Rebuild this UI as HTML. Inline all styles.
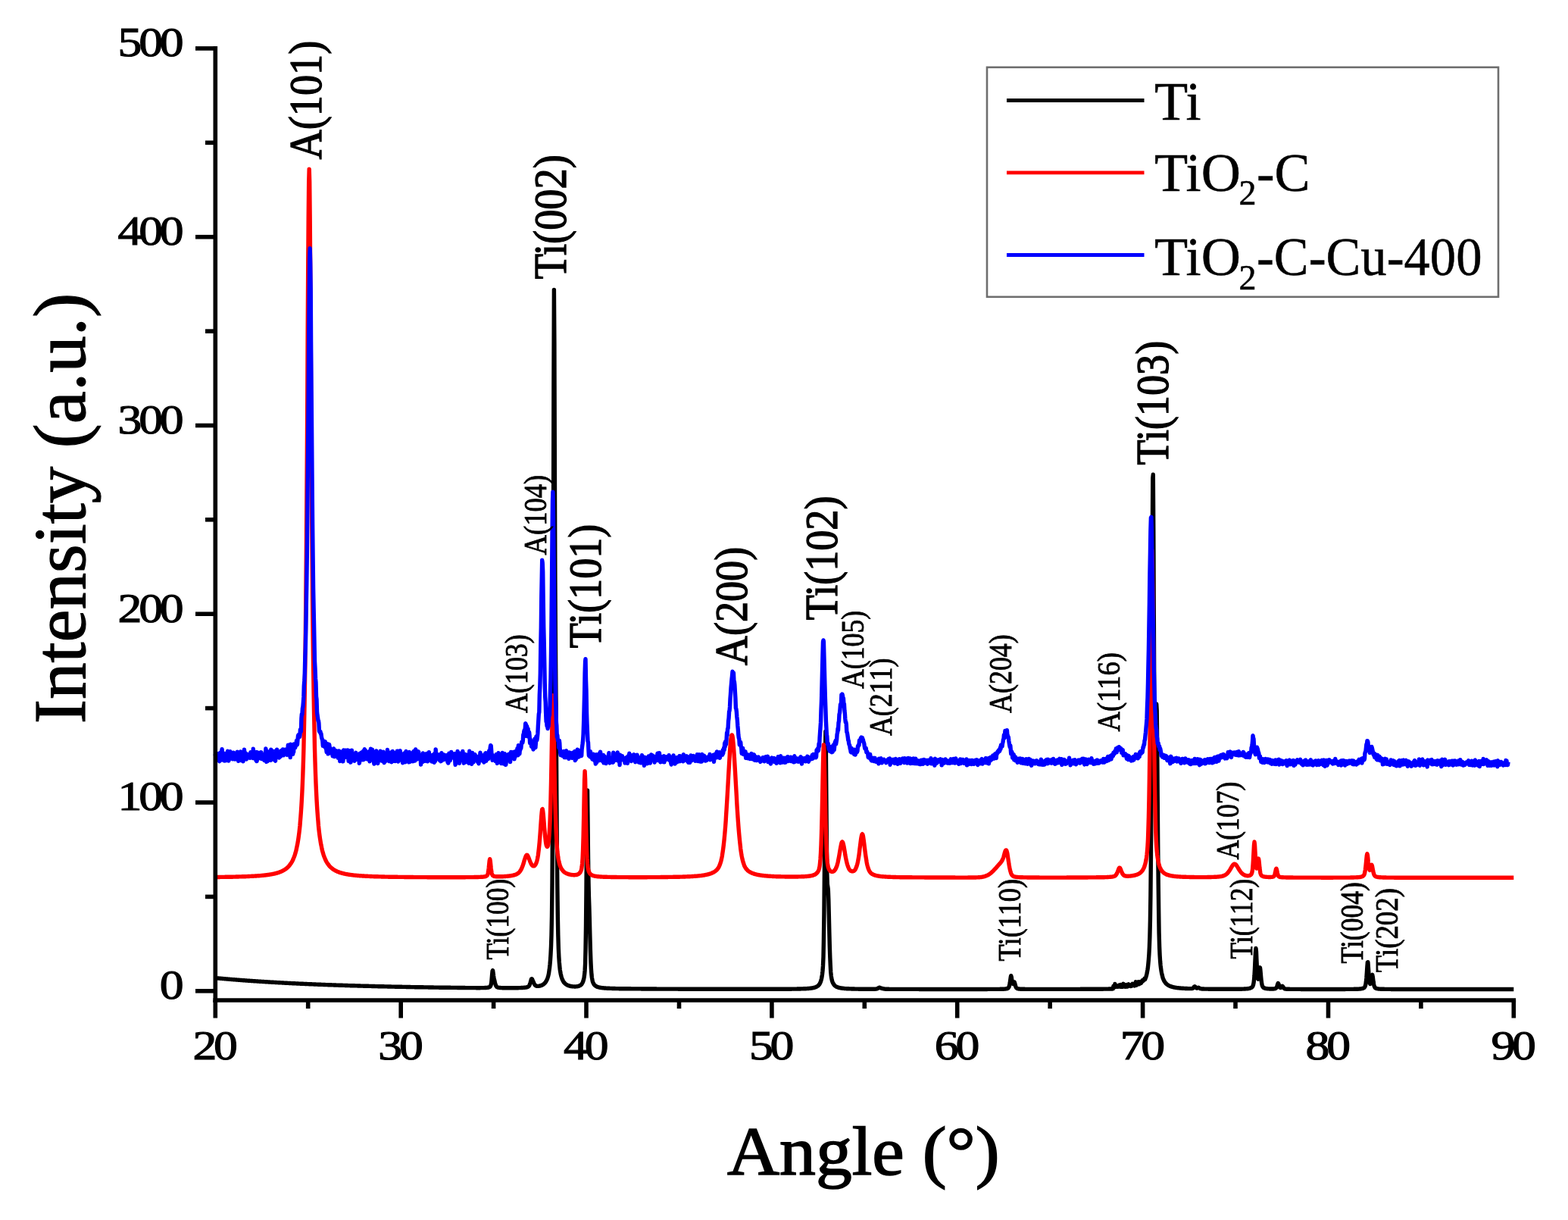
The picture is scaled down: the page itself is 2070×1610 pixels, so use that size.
<!DOCTYPE html><html><head><meta charset="utf-8"><style>html,body{margin:0;padding:0;background:#fff}svg{display:block}</style></head><body>
<svg width="2070" height="1610" viewBox="0 0 2070 1610" font-family="Liberation Serif, serif">
<rect width="2070" height="1610" fill="#fff"/>
<polyline fill="none" stroke="#000" stroke-width="5.4" stroke-linejoin="round" points="284.3,1290.6 284.8,1290.7 285.3,1290.7 285.8,1290.8 286.3,1290.8 286.7,1290.9 287.2,1290.9 287.7,1290.9 288.2,1291.0 288.7,1291.0 289.2,1291.1 289.7,1291.1 290.2,1291.2 290.7,1291.2 291.2,1291.3 291.6,1291.3 292.1,1291.3 292.6,1291.4 293.1,1291.4 293.6,1291.5 294.1,1291.5 294.6,1291.6 295.1,1291.6 295.6,1291.6 296.1,1291.7 296.5,1291.7 297.0,1291.8 297.5,1291.8 298.0,1291.9 298.5,1291.9 299.0,1291.9 299.5,1292.0 300.0,1292.0 300.5,1292.1 301.0,1292.1 301.4,1292.1 301.9,1292.2 302.4,1292.2 302.9,1292.3 303.4,1292.3 303.9,1292.4 304.4,1292.4 304.9,1292.4 305.4,1292.5 305.8,1292.5 306.3,1292.6 306.8,1292.6 307.3,1292.6 307.8,1292.7 308.3,1292.7 308.8,1292.8 309.3,1292.8 309.8,1292.8 310.3,1292.9 310.7,1292.9 311.2,1292.9 311.7,1293.0 312.2,1293.0 312.7,1293.1 313.2,1293.1 313.7,1293.1 314.2,1293.2 314.7,1293.2 315.2,1293.3 315.6,1293.3 316.1,1293.3 316.6,1293.4 317.1,1293.4 317.6,1293.4 318.1,1293.5 318.6,1293.5 319.1,1293.6 319.6,1293.6 320.0,1293.6 320.5,1293.7 321.0,1293.7 321.5,1293.7 322.0,1293.8 322.5,1293.8 323.0,1293.8 323.5,1293.9 324.0,1293.9 324.5,1294.0 324.9,1294.0 325.4,1294.0 325.9,1294.1 326.4,1294.1 326.9,1294.1 327.4,1294.2 327.9,1294.2 328.4,1294.2 328.9,1294.3 329.4,1294.3 329.8,1294.3 330.3,1294.4 330.8,1294.4 331.3,1294.4 331.8,1294.5 332.3,1294.5 332.8,1294.5 333.3,1294.6 333.8,1294.6 334.3,1294.6 334.7,1294.7 335.2,1294.7 335.7,1294.7 336.2,1294.8 336.7,1294.8 337.2,1294.8 337.7,1294.9 338.2,1294.9 338.7,1294.9 339.1,1295.0 339.6,1295.0 340.1,1295.0 340.6,1295.1 341.1,1295.1 341.6,1295.1 342.1,1295.2 342.6,1295.2 343.1,1295.2 343.6,1295.3 344.0,1295.3 344.5,1295.3 345.0,1295.4 345.5,1295.4 346.0,1295.4 346.5,1295.4 347.0,1295.5 347.5,1295.5 348.0,1295.5 348.5,1295.6 348.9,1295.6 349.4,1295.6 349.9,1295.7 350.4,1295.7 350.9,1295.7 351.4,1295.8 351.9,1295.8 352.4,1295.8 352.9,1295.8 353.4,1295.9 353.8,1295.9 354.3,1295.9 354.8,1296.0 355.3,1296.0 355.8,1296.0 356.3,1296.1 356.8,1296.1 357.3,1296.1 357.8,1296.1 358.2,1296.2 358.7,1296.2 359.2,1296.2 359.7,1296.3 360.2,1296.3 360.7,1296.3 361.2,1296.3 361.7,1296.4 362.2,1296.4 362.7,1296.4 363.1,1296.5 363.6,1296.5 364.1,1296.5 364.6,1296.5 365.1,1296.6 365.6,1296.6 366.1,1296.6 366.6,1296.6 367.1,1296.7 367.6,1296.7 368.0,1296.7 368.5,1296.8 369.0,1296.8 369.5,1296.8 370.0,1296.8 370.5,1296.9 371.0,1296.9 371.5,1296.9 372.0,1296.9 372.4,1297.0 372.9,1297.0 373.4,1297.0 373.9,1297.0 374.4,1297.1 374.9,1297.1 375.4,1297.1 375.9,1297.2 376.4,1297.2 376.9,1297.2 377.3,1297.2 377.8,1297.3 378.3,1297.3 378.8,1297.3 379.3,1297.3 379.8,1297.4 380.3,1297.4 380.8,1297.4 381.3,1297.4 381.8,1297.5 382.2,1297.5 382.7,1297.5 383.2,1297.5 383.7,1297.6 384.2,1297.6 384.7,1297.6 385.2,1297.6 385.7,1297.7 386.2,1297.7 386.7,1297.7 387.1,1297.7 387.6,1297.7 388.1,1297.8 388.6,1297.8 389.1,1297.8 389.6,1297.8 390.1,1297.9 390.6,1297.9 391.1,1297.9 391.5,1297.9 392.0,1298.0 392.5,1298.0 393.0,1298.0 393.5,1298.0 394.0,1298.1 394.5,1298.1 395.0,1298.1 395.5,1298.1 396.0,1298.1 396.4,1298.2 396.9,1298.2 397.4,1298.2 397.9,1298.2 398.4,1298.3 398.9,1298.3 399.4,1298.3 399.9,1298.3 400.4,1298.3 400.9,1298.4 401.3,1298.4 401.8,1298.4 402.3,1298.4 402.8,1298.5 403.3,1298.5 403.8,1298.5 404.3,1298.5 404.8,1298.5 405.3,1298.6 405.8,1298.6 406.2,1298.6 406.7,1298.6 407.2,1298.6 407.7,1298.7 408.2,1298.7 408.7,1298.7 409.2,1298.7 409.7,1298.8 410.2,1298.8 410.6,1298.8 411.1,1298.8 411.6,1298.8 412.1,1298.9 412.6,1298.9 413.1,1298.9 413.6,1298.9 414.1,1298.9 414.6,1299.0 415.1,1299.0 415.5,1299.0 416.0,1299.0 416.5,1299.0 417.0,1299.1 417.5,1299.1 418.0,1299.1 418.5,1299.1 419.0,1299.1 419.5,1299.2 420.0,1299.2 420.4,1299.2 420.9,1299.2 421.4,1299.2 421.9,1299.3 422.4,1299.3 422.9,1299.3 423.4,1299.3 423.9,1299.3 424.4,1299.4 424.8,1299.4 425.3,1299.4 425.8,1299.4 426.3,1299.4 426.8,1299.4 427.3,1299.5 427.8,1299.5 428.3,1299.5 428.8,1299.5 429.3,1299.5 429.7,1299.6 430.2,1299.6 430.7,1299.6 431.2,1299.6 431.7,1299.6 432.2,1299.6 432.7,1299.7 433.2,1299.7 433.7,1299.7 434.2,1299.7 434.6,1299.7 435.1,1299.8 435.6,1299.8 436.1,1299.8 436.6,1299.8 437.1,1299.8 437.6,1299.8 438.1,1299.9 438.6,1299.9 439.1,1299.9 439.5,1299.9 440.0,1299.9 440.5,1299.9 441.0,1300.0 441.5,1300.0 442.0,1300.0 442.5,1300.0 443.0,1300.0 443.5,1300.0 443.9,1300.1 444.4,1300.1 444.9,1300.1 445.4,1300.1 445.9,1300.1 446.4,1300.1 446.9,1300.2 447.4,1300.2 447.9,1300.2 448.4,1300.2 448.8,1300.2 449.3,1300.2 449.8,1300.3 450.3,1300.3 450.8,1300.3 451.3,1300.3 451.8,1300.3 452.3,1300.3 452.8,1300.4 453.3,1300.4 453.7,1300.4 454.2,1300.4 454.7,1300.4 455.2,1300.4 455.7,1300.5 456.2,1300.5 456.7,1300.5 457.2,1300.5 457.7,1300.5 458.2,1300.5 458.6,1300.5 459.1,1300.6 459.6,1300.6 460.1,1300.6 460.6,1300.6 461.1,1300.6 461.6,1300.6 462.1,1300.7 462.6,1300.7 463.0,1300.7 463.5,1300.7 464.0,1300.7 464.5,1300.7 465.0,1300.7 465.5,1300.8 466.0,1300.8 466.5,1300.8 467.0,1300.8 467.5,1300.8 467.9,1300.8 468.4,1300.8 468.9,1300.9 469.4,1300.9 469.9,1300.9 470.4,1300.9 470.9,1300.9 471.4,1300.9 471.9,1300.9 472.4,1301.0 472.8,1301.0 473.3,1301.0 473.8,1301.0 474.3,1301.0 474.8,1301.0 475.3,1301.0 475.8,1301.1 476.3,1301.1 476.8,1301.1 477.2,1301.1 477.7,1301.1 478.2,1301.1 478.7,1301.1 479.2,1301.1 479.7,1301.2 480.2,1301.2 480.7,1301.2 481.2,1301.2 481.7,1301.2 482.1,1301.2 482.6,1301.2 483.1,1301.3 483.6,1301.3 484.1,1301.3 484.6,1301.3 485.1,1301.3 485.6,1301.3 486.1,1301.3 486.6,1301.3 487.0,1301.4 487.5,1301.4 488.0,1301.4 488.5,1301.4 489.0,1301.4 489.5,1301.4 490.0,1301.4 490.5,1301.4 491.0,1301.5 491.5,1301.5 491.9,1301.5 492.4,1301.5 492.9,1301.5 493.4,1301.5 493.9,1301.5 494.4,1301.5 494.9,1301.6 495.4,1301.6 495.9,1301.6 496.3,1301.6 496.8,1301.6 497.3,1301.6 497.8,1301.6 498.3,1301.6 498.8,1301.7 499.3,1301.7 499.8,1301.7 500.3,1301.7 500.8,1301.7 501.2,1301.7 501.7,1301.7 502.2,1301.7 502.7,1301.7 503.2,1301.8 503.7,1301.8 504.2,1301.8 504.7,1301.8 505.2,1301.8 505.7,1301.8 506.1,1301.8 506.6,1301.8 507.1,1301.8 507.6,1301.9 508.1,1301.9 508.6,1301.9 509.1,1301.9 509.6,1301.9 510.1,1301.9 510.6,1301.9 511.0,1301.9 511.5,1301.9 512.0,1302.0 512.5,1302.0 513.0,1302.0 513.5,1302.0 514.0,1302.0 514.5,1302.0 515.0,1302.0 515.4,1302.0 515.9,1302.0 516.4,1302.1 516.9,1302.1 517.4,1302.1 517.9,1302.1 518.4,1302.1 518.9,1302.1 519.4,1302.1 519.9,1302.1 520.3,1302.1 520.8,1302.1 521.3,1302.2 521.8,1302.2 522.3,1302.2 522.8,1302.2 523.3,1302.2 523.8,1302.2 524.3,1302.2 524.8,1302.2 525.2,1302.2 525.7,1302.2 526.2,1302.3 526.7,1302.3 527.2,1302.3 527.7,1302.3 528.2,1302.3 528.7,1302.3 529.2,1302.3 529.6,1302.3 530.1,1302.3 530.6,1302.3 531.1,1302.4 531.6,1302.4 532.1,1302.4 532.6,1302.4 533.1,1302.4 533.6,1302.4 534.1,1302.4 534.5,1302.4 535.0,1302.4 535.5,1302.4 536.0,1302.4 536.5,1302.5 537.0,1302.5 537.5,1302.5 538.0,1302.5 538.5,1302.5 539.0,1302.5 539.4,1302.5 539.9,1302.5 540.4,1302.5 540.9,1302.5 541.4,1302.5 541.9,1302.6 542.4,1302.6 542.9,1302.6 543.4,1302.6 543.9,1302.6 544.3,1302.6 544.8,1302.6 545.3,1302.6 545.8,1302.6 546.3,1302.6 546.8,1302.6 547.3,1302.7 547.8,1302.7 548.3,1302.7 548.7,1302.7 549.2,1302.7 549.7,1302.7 550.2,1302.7 550.7,1302.7 551.2,1302.7 551.7,1302.7 552.2,1302.7 552.7,1302.7 553.2,1302.8 553.6,1302.8 554.1,1302.8 554.6,1302.8 555.1,1302.8 555.6,1302.8 556.1,1302.8 556.6,1302.8 557.1,1302.8 557.6,1302.8 558.1,1302.8 558.5,1302.8 559.0,1302.8 559.5,1302.9 560.0,1302.9 560.5,1302.9 561.0,1302.9 561.5,1302.9 562.0,1302.9 562.5,1302.9 563.0,1302.9 563.4,1302.9 563.9,1302.9 564.4,1302.9 564.9,1302.9 565.4,1302.9 565.9,1303.0 566.4,1303.0 566.9,1303.0 567.4,1303.0 567.8,1303.0 568.3,1303.0 568.8,1303.0 569.3,1303.0 569.8,1303.0 570.3,1303.0 570.8,1303.0 571.3,1303.0 571.8,1303.0 572.3,1303.1 572.7,1303.1 573.2,1303.1 573.7,1303.1 574.2,1303.1 574.7,1303.1 575.2,1303.1 575.7,1303.1 576.2,1303.1 576.7,1303.1 577.2,1303.1 577.6,1303.1 578.1,1303.1 578.6,1303.1 579.1,1303.1 579.6,1303.2 580.1,1303.2 580.6,1303.2 581.1,1303.2 581.6,1303.2 582.0,1303.2 582.5,1303.2 583.0,1303.2 583.5,1303.2 584.0,1303.2 584.5,1303.2 585.0,1303.2 585.5,1303.2 586.0,1303.2 586.5,1303.2 586.9,1303.3 587.4,1303.3 587.9,1303.3 588.4,1303.3 588.9,1303.3 589.4,1303.3 589.9,1303.3 590.4,1303.3 590.9,1303.3 591.4,1303.3 591.8,1303.3 592.3,1303.3 592.8,1303.3 593.3,1303.3 593.8,1303.3 594.3,1303.3 594.8,1303.3 595.3,1303.4 595.8,1303.4 596.3,1303.4 596.7,1303.4 597.2,1303.4 597.7,1303.4 598.2,1303.4 598.7,1303.4 599.2,1303.4 599.7,1303.4 600.2,1303.4 600.7,1303.4 601.1,1303.4 601.6,1303.4 602.1,1303.4 602.6,1303.4 603.1,1303.4 603.6,1303.4 604.1,1303.5 604.6,1303.5 605.1,1303.5 605.6,1303.5 606.0,1303.5 606.5,1303.5 607.0,1303.5 607.5,1303.5 608.0,1303.5 608.5,1303.5 609.0,1303.5 609.5,1303.5 610.0,1303.5 610.5,1303.5 610.9,1303.5 611.4,1303.5 611.9,1303.5 612.4,1303.5 612.9,1303.5 613.4,1303.5 613.9,1303.6 614.4,1303.6 614.9,1303.6 615.4,1303.6 615.8,1303.6 616.3,1303.6 616.8,1303.6 617.3,1303.6 617.8,1303.6 618.3,1303.6 618.8,1303.6 619.3,1303.6 619.8,1303.6 620.2,1303.6 620.7,1303.6 621.2,1303.6 621.7,1303.6 622.2,1303.6 622.7,1303.6 623.2,1303.6 623.7,1303.6 624.2,1303.6 624.7,1303.6 625.1,1303.6 625.6,1303.6 626.1,1303.6 626.6,1303.6 627.1,1303.6 627.6,1303.6 628.1,1303.6 628.6,1303.7 629.1,1303.7 629.6,1303.7 630.0,1303.7 630.5,1303.7 631.0,1303.7 631.5,1303.7 632.0,1303.7 632.5,1303.7 633.0,1303.7 633.5,1303.7 634.0,1303.7 634.4,1303.6 634.9,1303.6 635.4,1303.6 635.9,1303.6 636.4,1303.6 636.9,1303.6 637.4,1303.6 637.9,1303.6 638.4,1303.6 638.9,1303.6 639.3,1303.6 639.8,1303.6 640.3,1303.5 640.8,1303.5 641.3,1303.5 641.8,1303.5 642.3,1303.4 642.8,1303.4 643.3,1303.3 643.8,1303.3 644.2,1303.2 644.7,1303.1 645.2,1303.0 645.7,1302.8 646.2,1302.6 646.7,1302.3 647.2,1301.8 647.7,1301.0 648.2,1299.4 648.7,1296.7 649.1,1292.4 649.6,1286.6 650.1,1281.5 650.6,1280.7 651.1,1284.1 651.6,1288.1 652.1,1291.0 652.6,1293.2 653.1,1295.2 653.5,1297.2 654.0,1298.9 654.5,1300.3 655.0,1301.3 655.5,1302.0 656.0,1302.5 656.5,1302.8 657.0,1303.0 657.5,1303.1 658.0,1303.2 658.4,1303.3 658.9,1303.4 659.4,1303.4 659.9,1303.5 660.4,1303.5 660.9,1303.6 661.4,1303.6 661.9,1303.6 662.4,1303.6 662.9,1303.7 663.3,1303.7 663.8,1303.7 664.3,1303.7 664.8,1303.7 665.3,1303.7 665.8,1303.7 666.3,1303.7 666.8,1303.8 667.3,1303.8 667.8,1303.8 668.2,1303.8 668.7,1303.8 669.2,1303.8 669.7,1303.8 670.2,1303.8 670.7,1303.8 671.2,1303.8 671.7,1303.8 672.2,1303.8 672.6,1303.8 673.1,1303.8 673.6,1303.8 674.1,1303.8 674.6,1303.8 675.1,1303.8 675.6,1303.8 676.1,1303.8 676.6,1303.8 677.1,1303.8 677.5,1303.8 678.0,1303.8 678.5,1303.8 679.0,1303.8 679.5,1303.7 680.0,1303.7 680.5,1303.7 681.0,1303.7 681.5,1303.7 682.0,1303.7 682.4,1303.7 682.9,1303.7 683.4,1303.7 683.9,1303.7 684.4,1303.7 684.9,1303.6 685.4,1303.6 685.9,1303.6 686.4,1303.6 686.8,1303.6 687.3,1303.6 687.8,1303.6 688.3,1303.5 688.8,1303.5 689.3,1303.5 689.8,1303.5 690.3,1303.4 690.8,1303.4 691.3,1303.4 691.7,1303.3 692.2,1303.3 692.7,1303.2 693.2,1303.2 693.7,1303.1 694.2,1303.1 694.7,1303.0 695.2,1302.9 695.7,1302.8 696.2,1302.6 696.6,1302.5 697.1,1302.2 697.6,1301.9 698.1,1301.4 698.6,1300.8 699.1,1299.8 699.6,1298.5 700.1,1297.0 700.6,1295.2 701.1,1293.4 701.5,1292.1 702.0,1291.7 702.5,1292.2 703.0,1293.3 703.5,1294.5 704.0,1295.7 704.5,1296.8 705.0,1297.8 705.5,1298.7 705.9,1299.4 706.4,1300.0 706.9,1300.5 707.4,1300.8 707.9,1301.1 708.4,1301.2 708.9,1301.3 709.4,1301.4 709.9,1301.4 710.4,1301.4 710.8,1301.4 711.3,1301.3 711.8,1301.2 712.3,1301.1 712.8,1301.0 713.3,1300.9 713.8,1300.7 714.3,1300.5 714.8,1300.4 715.3,1300.1 715.7,1299.9 716.2,1299.7 716.7,1299.4 717.2,1299.1 717.7,1298.7 718.2,1298.3 718.7,1297.9 719.2,1297.4 719.7,1296.8 720.2,1296.2 720.6,1295.5 721.1,1294.7 721.6,1293.8 722.1,1292.8 722.6,1291.5 723.1,1290.1 723.6,1288.4 724.1,1286.4 724.6,1284.0 725.0,1281.0 725.5,1277.4 726.0,1272.8 726.5,1267.0 727.0,1259.4 727.5,1249.1 728.0,1233.9 728.5,1209.4 729.0,1165.2 729.5,1083.8 729.9,944.8 730.4,741.1 730.9,511.8 731.4,382.5 731.9,453.9 732.4,622.2 732.9,763.0 733.4,849.1 733.9,909.6 734.4,975.8 734.8,1048.6 735.3,1115.4 735.8,1168.7 736.3,1207.5 736.8,1233.8 737.3,1251.0 737.8,1262.1 738.3,1269.7 738.8,1275.2 739.2,1279.3 739.7,1282.6 740.2,1285.3 740.7,1287.5 741.2,1289.3 741.7,1290.9 742.2,1292.2 742.7,1293.3 743.2,1294.3 743.7,1295.2 744.1,1295.9 744.6,1296.6 745.1,1297.2 745.6,1297.7 746.1,1298.1 746.6,1298.5 747.1,1298.9 747.6,1299.2 748.1,1299.5 748.6,1299.8 749.0,1300.1 749.5,1300.3 750.0,1300.5 750.5,1300.7 751.0,1300.8 751.5,1301.0 752.0,1301.1 752.5,1301.2 753.0,1301.4 753.5,1301.5 753.9,1301.5 754.4,1301.6 754.9,1301.7 755.4,1301.8 755.9,1301.8 756.4,1301.9 756.9,1301.9 757.4,1301.9 757.9,1301.9 758.3,1302.0 758.8,1302.0 759.3,1302.0 759.8,1301.9 760.3,1301.9 760.8,1301.9 761.3,1301.8 761.8,1301.8 762.3,1301.7 762.8,1301.6 763.2,1301.5 763.7,1301.4 764.2,1301.2 764.7,1301.0 765.2,1300.8 765.7,1300.6 766.2,1300.3 766.7,1299.9 767.2,1299.5 767.7,1299.0 768.1,1298.4 768.6,1297.6 769.1,1296.7 769.6,1295.6 770.1,1294.1 770.6,1292.2 771.1,1289.7 771.6,1286.2 772.1,1280.7 772.6,1271.3 773.0,1253.9 773.5,1222.7 774.0,1173.0 774.5,1107.7 775.0,1050.4 775.5,1042.9 776.0,1084.5 776.5,1132.7 777.0,1164.9 777.4,1182.8 777.9,1197.4 778.4,1216.0 778.9,1236.3 779.4,1254.5 779.9,1268.7 780.4,1278.8 780.9,1285.6 781.4,1290.1 781.9,1292.9 782.3,1294.9 782.8,1296.4 783.3,1297.5 783.8,1298.4 784.3,1299.2 784.8,1299.8 785.3,1300.3 785.8,1300.7 786.3,1301.1 786.8,1301.4 787.2,1301.7 787.7,1301.9 788.2,1302.2 788.7,1302.4 789.2,1302.5 789.7,1302.7 790.2,1302.8 790.7,1302.9 791.2,1303.1 791.6,1303.2 792.1,1303.3 792.6,1303.3 793.1,1303.4 793.6,1303.5 794.1,1303.6 794.6,1303.6 795.1,1303.7 795.6,1303.7 796.1,1303.8 796.5,1303.8 797.0,1303.9 797.5,1303.9 798.0,1304.0 798.5,1304.0 799.0,1304.0 799.5,1304.1 800.0,1304.1 800.5,1304.1 801.0,1304.2 801.4,1304.2 801.9,1304.2 802.4,1304.2 802.9,1304.3 803.4,1304.3 803.9,1304.3 804.4,1304.3 804.9,1304.3 805.4,1304.4 805.9,1304.4 806.3,1304.4 806.8,1304.4 807.3,1304.4 807.8,1304.4 808.3,1304.5 808.8,1304.5 809.3,1304.5 809.8,1304.5 810.3,1304.5 810.7,1304.5 811.2,1304.5 811.7,1304.5 812.2,1304.6 812.7,1304.6 813.2,1304.6 813.7,1304.6 814.2,1304.6 814.7,1304.6 815.2,1304.6 815.6,1304.6 816.1,1304.6 816.6,1304.6 817.1,1304.7 817.6,1304.7 818.1,1304.7 818.6,1304.7 819.1,1304.7 819.6,1304.7 820.1,1304.7 820.5,1304.7 821.0,1304.7 821.5,1304.7 822.0,1304.7 822.5,1304.7 823.0,1304.7 823.5,1304.7 824.0,1304.8 824.5,1304.8 825.0,1304.8 825.4,1304.8 825.9,1304.8 826.4,1304.8 826.9,1304.8 827.4,1304.8 827.9,1304.8 828.4,1304.8 828.9,1304.8 829.4,1304.8 829.8,1304.8 830.3,1304.8 830.8,1304.8 831.3,1304.8 831.8,1304.8 832.3,1304.8 832.8,1304.8 833.3,1304.9 833.8,1304.9 834.3,1304.9 834.7,1304.9 835.2,1304.9 835.7,1304.9 836.2,1304.9 836.7,1304.9 837.2,1304.9 837.7,1304.9 838.2,1304.9 838.7,1304.9 839.2,1304.9 839.6,1304.9 840.1,1304.9 840.6,1304.9 841.1,1304.9 841.6,1304.9 842.1,1304.9 842.6,1304.9 843.1,1304.9 843.6,1304.9 844.0,1304.9 844.5,1304.9 845.0,1304.9 845.5,1304.9 846.0,1304.9 846.5,1304.9 847.0,1305.0 847.5,1305.0 848.0,1305.0 848.5,1305.0 848.9,1305.0 849.4,1305.0 849.9,1305.0 850.4,1305.0 850.9,1305.0 851.4,1305.0 851.9,1305.0 852.4,1305.0 852.9,1305.0 853.4,1305.0 853.8,1305.0 854.3,1305.0 854.8,1305.0 855.3,1305.0 855.8,1305.0 856.3,1305.0 856.8,1305.0 857.3,1305.0 857.8,1305.0 858.3,1305.0 858.7,1305.0 859.2,1305.0 859.7,1305.0 860.2,1305.0 860.7,1305.0 861.2,1305.0 861.7,1305.0 862.2,1305.0 862.7,1305.0 863.1,1305.0 863.6,1305.0 864.1,1305.0 864.6,1305.0 865.1,1305.0 865.6,1305.0 866.1,1305.0 866.6,1305.1 867.1,1305.1 867.6,1305.1 868.0,1305.1 868.5,1305.1 869.0,1305.1 869.5,1305.1 870.0,1305.1 870.5,1305.1 871.0,1305.1 871.5,1305.1 872.0,1305.1 872.5,1305.1 872.9,1305.1 873.4,1305.1 873.9,1305.1 874.4,1305.1 874.9,1305.1 875.4,1305.1 875.9,1305.1 876.4,1305.1 876.9,1305.1 877.4,1305.1 877.8,1305.1 878.3,1305.1 878.8,1305.1 879.3,1305.1 879.8,1305.1 880.3,1305.1 880.8,1305.1 881.3,1305.1 881.8,1305.1 882.2,1305.1 882.7,1305.1 883.2,1305.1 883.7,1305.1 884.2,1305.1 884.7,1305.1 885.2,1305.1 885.7,1305.1 886.2,1305.1 886.7,1305.1 887.1,1305.1 887.6,1305.1 888.1,1305.1 888.6,1305.1 889.1,1305.1 889.6,1305.1 890.1,1305.1 890.6,1305.1 891.1,1305.1 891.6,1305.1 892.0,1305.1 892.5,1305.1 893.0,1305.1 893.5,1305.1 894.0,1305.1 894.5,1305.1 895.0,1305.1 895.5,1305.2 896.0,1305.2 896.4,1305.2 896.9,1305.2 897.4,1305.2 897.9,1305.2 898.4,1305.2 898.9,1305.2 899.4,1305.2 899.9,1305.2 900.4,1305.2 900.9,1305.2 901.3,1305.2 901.8,1305.2 902.3,1305.2 902.8,1305.2 903.3,1305.2 903.8,1305.2 904.3,1305.2 904.8,1305.2 905.3,1305.2 905.8,1305.2 906.2,1305.2 906.7,1305.2 907.2,1305.2 907.7,1305.2 908.2,1305.2 908.7,1305.2 909.2,1305.2 909.7,1305.2 910.2,1305.2 910.7,1305.2 911.1,1305.2 911.6,1305.2 912.1,1305.2 912.6,1305.2 913.1,1305.2 913.6,1305.2 914.1,1305.2 914.6,1305.2 915.1,1305.2 915.5,1305.2 916.0,1305.2 916.5,1305.2 917.0,1305.2 917.5,1305.2 918.0,1305.2 918.5,1305.2 919.0,1305.2 919.5,1305.2 920.0,1305.2 920.4,1305.2 920.9,1305.2 921.4,1305.2 921.9,1305.2 922.4,1305.2 922.9,1305.2 923.4,1305.2 923.9,1305.2 924.4,1305.2 924.9,1305.2 925.3,1305.2 925.8,1305.2 926.3,1305.2 926.8,1305.2 927.3,1305.2 927.8,1305.2 928.3,1305.2 928.8,1305.2 929.3,1305.2 929.8,1305.2 930.2,1305.2 930.7,1305.2 931.2,1305.2 931.7,1305.2 932.2,1305.2 932.7,1305.2 933.2,1305.2 933.7,1305.2 934.2,1305.2 934.6,1305.2 935.1,1305.2 935.6,1305.2 936.1,1305.2 936.6,1305.2 937.1,1305.2 937.6,1305.2 938.1,1305.2 938.6,1305.2 939.1,1305.2 939.5,1305.2 940.0,1305.2 940.5,1305.2 941.0,1305.2 941.5,1305.3 942.0,1305.3 942.5,1305.3 943.0,1305.3 943.5,1305.3 944.0,1305.3 944.4,1305.3 944.9,1305.3 945.4,1305.3 945.9,1305.3 946.4,1305.3 946.9,1305.3 947.4,1305.3 947.9,1305.3 948.4,1305.3 948.9,1305.3 949.3,1305.3 949.8,1305.3 950.3,1305.3 950.8,1305.3 951.3,1305.3 951.8,1305.3 952.3,1305.3 952.8,1305.3 953.3,1305.3 953.7,1305.3 954.2,1305.3 954.7,1305.3 955.2,1305.3 955.7,1305.3 956.2,1305.3 956.7,1305.3 957.2,1305.3 957.7,1305.3 958.2,1305.3 958.6,1305.3 959.1,1305.3 959.6,1305.3 960.1,1305.3 960.6,1305.3 961.1,1305.3 961.6,1305.3 962.1,1305.3 962.6,1305.3 963.1,1305.3 963.5,1305.3 964.0,1305.3 964.5,1305.3 965.0,1305.3 965.5,1305.3 966.0,1305.3 966.5,1305.3 967.0,1305.3 967.5,1305.3 967.9,1305.3 968.4,1305.3 968.9,1305.3 969.4,1305.3 969.9,1305.3 970.4,1305.3 970.9,1305.3 971.4,1305.3 971.9,1305.3 972.4,1305.3 972.8,1305.3 973.3,1305.3 973.8,1305.3 974.3,1305.3 974.8,1305.3 975.3,1305.3 975.8,1305.3 976.3,1305.3 976.8,1305.3 977.3,1305.3 977.7,1305.3 978.2,1305.3 978.7,1305.3 979.2,1305.3 979.7,1305.3 980.2,1305.3 980.7,1305.3 981.2,1305.3 981.7,1305.3 982.2,1305.3 982.6,1305.3 983.1,1305.3 983.6,1305.3 984.1,1305.3 984.6,1305.3 985.1,1305.3 985.6,1305.3 986.1,1305.3 986.6,1305.3 987.0,1305.3 987.5,1305.3 988.0,1305.3 988.5,1305.3 989.0,1305.3 989.5,1305.3 990.0,1305.3 990.5,1305.3 991.0,1305.3 991.5,1305.3 991.9,1305.3 992.4,1305.3 992.9,1305.3 993.4,1305.3 993.9,1305.3 994.4,1305.3 994.9,1305.3 995.4,1305.3 995.9,1305.3 996.4,1305.3 996.8,1305.3 997.3,1305.3 997.8,1305.3 998.3,1305.3 998.8,1305.3 999.3,1305.3 999.8,1305.3 1000.3,1305.3 1000.8,1305.3 1001.3,1305.3 1001.7,1305.3 1002.2,1305.3 1002.7,1305.3 1003.2,1305.3 1003.7,1305.3 1004.2,1305.3 1004.7,1305.3 1005.2,1305.3 1005.7,1305.3 1006.1,1305.3 1006.6,1305.3 1007.1,1305.3 1007.6,1305.3 1008.1,1305.3 1008.6,1305.3 1009.1,1305.3 1009.6,1305.3 1010.1,1305.3 1010.6,1305.3 1011.0,1305.3 1011.5,1305.3 1012.0,1305.3 1012.5,1305.3 1013.0,1305.3 1013.5,1305.3 1014.0,1305.3 1014.5,1305.3 1015.0,1305.3 1015.5,1305.3 1015.9,1305.3 1016.4,1305.3 1016.9,1305.3 1017.4,1305.3 1017.9,1305.3 1018.4,1305.3 1018.9,1305.3 1019.4,1305.3 1019.9,1305.3 1020.3,1305.3 1020.8,1305.3 1021.3,1305.3 1021.8,1305.3 1022.3,1305.3 1022.8,1305.3 1023.3,1305.3 1023.8,1305.3 1024.3,1305.3 1024.8,1305.3 1025.2,1305.3 1025.7,1305.3 1026.2,1305.3 1026.7,1305.3 1027.2,1305.3 1027.7,1305.3 1028.2,1305.3 1028.7,1305.3 1029.2,1305.3 1029.7,1305.3 1030.1,1305.2 1030.6,1305.2 1031.1,1305.2 1031.6,1305.2 1032.1,1305.2 1032.6,1305.2 1033.1,1305.2 1033.6,1305.2 1034.1,1305.2 1034.6,1305.2 1035.0,1305.2 1035.5,1305.2 1036.0,1305.2 1036.5,1305.2 1037.0,1305.2 1037.5,1305.2 1038.0,1305.2 1038.5,1305.2 1039.0,1305.2 1039.4,1305.2 1039.9,1305.2 1040.4,1305.2 1040.9,1305.2 1041.4,1305.2 1041.9,1305.2 1042.4,1305.2 1042.9,1305.2 1043.4,1305.2 1043.9,1305.2 1044.3,1305.2 1044.8,1305.2 1045.3,1305.1 1045.8,1305.1 1046.3,1305.1 1046.8,1305.1 1047.3,1305.1 1047.8,1305.1 1048.3,1305.1 1048.8,1305.1 1049.2,1305.1 1049.7,1305.1 1050.2,1305.1 1050.7,1305.1 1051.2,1305.1 1051.7,1305.1 1052.2,1305.1 1052.7,1305.0 1053.2,1305.0 1053.7,1305.0 1054.1,1305.0 1054.6,1305.0 1055.1,1305.0 1055.6,1305.0 1056.1,1305.0 1056.6,1305.0 1057.1,1304.9 1057.6,1304.9 1058.1,1304.9 1058.5,1304.9 1059.0,1304.9 1059.5,1304.9 1060.0,1304.9 1060.5,1304.8 1061.0,1304.8 1061.5,1304.8 1062.0,1304.8 1062.5,1304.8 1063.0,1304.7 1063.4,1304.7 1063.9,1304.7 1064.4,1304.7 1064.9,1304.6 1065.4,1304.6 1065.9,1304.6 1066.4,1304.5 1066.9,1304.5 1067.4,1304.5 1067.9,1304.4 1068.3,1304.4 1068.8,1304.3 1069.3,1304.3 1069.8,1304.2 1070.3,1304.2 1070.8,1304.1 1071.3,1304.0 1071.8,1304.0 1072.3,1303.9 1072.7,1303.8 1073.2,1303.7 1073.7,1303.6 1074.2,1303.5 1074.7,1303.4 1075.2,1303.2 1075.7,1303.1 1076.2,1302.9 1076.7,1302.8 1077.2,1302.6 1077.6,1302.3 1078.1,1302.1 1078.6,1301.8 1079.1,1301.5 1079.6,1301.2 1080.1,1300.8 1080.6,1300.3 1081.1,1299.7 1081.6,1299.1 1082.1,1298.4 1082.5,1297.5 1083.0,1296.5 1083.5,1295.2 1084.0,1293.6 1084.5,1291.6 1085.0,1289.1 1085.5,1285.8 1086.0,1281.2 1086.5,1274.2 1087.0,1262.5 1087.4,1242.0 1087.9,1207.0 1088.4,1152.5 1088.9,1079.2 1089.4,1003.5 1089.9,965.3 1090.4,993.1 1090.9,1056.7 1091.4,1115.0 1091.8,1151.6 1092.3,1166.8 1092.8,1170.1 1093.3,1174.1 1093.8,1187.0 1094.3,1207.2 1094.8,1229.1 1095.3,1248.4 1095.8,1263.6 1096.3,1274.6 1096.7,1282.2 1097.2,1287.3 1097.7,1290.8 1098.2,1293.2 1098.7,1295.0 1099.2,1296.3 1099.7,1297.4 1100.2,1298.3 1100.7,1299.1 1101.2,1299.7 1101.6,1300.3 1102.1,1300.7 1102.6,1301.2 1103.1,1301.5 1103.6,1301.8 1104.1,1302.1 1104.6,1302.4 1105.1,1302.6 1105.6,1302.8 1106.1,1302.9 1106.5,1303.1 1107.0,1303.3 1107.5,1303.4 1108.0,1303.5 1108.5,1303.6 1109.0,1303.7 1109.5,1303.8 1110.0,1303.9 1110.5,1304.0 1110.9,1304.0 1111.4,1304.1 1111.9,1304.2 1112.4,1304.2 1112.9,1304.3 1113.4,1304.3 1113.9,1304.4 1114.4,1304.4 1114.9,1304.5 1115.4,1304.5 1115.8,1304.6 1116.3,1304.6 1116.8,1304.6 1117.3,1304.7 1117.8,1304.7 1118.3,1304.7 1118.8,1304.7 1119.3,1304.8 1119.8,1304.8 1120.3,1304.8 1120.7,1304.8 1121.2,1304.9 1121.7,1304.9 1122.2,1304.9 1122.7,1304.9 1123.2,1304.9 1123.7,1304.9 1124.2,1305.0 1124.7,1305.0 1125.1,1305.0 1125.6,1305.0 1126.1,1305.0 1126.6,1305.0 1127.1,1305.0 1127.6,1305.0 1128.1,1305.1 1128.6,1305.1 1129.1,1305.1 1129.6,1305.1 1130.0,1305.1 1130.5,1305.1 1131.0,1305.1 1131.5,1305.1 1132.0,1305.1 1132.5,1305.1 1133.0,1305.1 1133.5,1305.2 1134.0,1305.2 1134.5,1305.2 1134.9,1305.2 1135.4,1305.2 1135.9,1305.2 1136.4,1305.2 1136.9,1305.2 1137.4,1305.2 1137.9,1305.2 1138.4,1305.2 1138.9,1305.2 1139.4,1305.2 1139.8,1305.2 1140.3,1305.2 1140.8,1305.2 1141.3,1305.2 1141.8,1305.2 1142.3,1305.2 1142.8,1305.2 1143.3,1305.2 1143.8,1305.3 1144.2,1305.3 1144.7,1305.3 1145.2,1305.3 1145.7,1305.3 1146.2,1305.3 1146.7,1305.3 1147.2,1305.3 1147.7,1305.3 1148.2,1305.3 1148.7,1305.3 1149.1,1305.3 1149.6,1305.3 1150.1,1305.3 1150.6,1305.3 1151.1,1305.3 1151.6,1305.3 1152.1,1305.3 1152.6,1305.3 1153.1,1305.2 1153.6,1305.2 1154.0,1305.2 1154.5,1305.2 1155.0,1305.2 1155.5,1305.2 1156.0,1305.1 1156.5,1305.1 1157.0,1305.0 1157.5,1304.9 1158.0,1304.8 1158.5,1304.6 1158.9,1304.3 1159.4,1304.0 1159.9,1303.6 1160.4,1303.3 1160.9,1303.2 1161.4,1303.3 1161.9,1303.5 1162.4,1303.7 1162.9,1303.9 1163.3,1304.1 1163.8,1304.3 1164.3,1304.4 1164.8,1304.5 1165.3,1304.6 1165.8,1304.7 1166.3,1304.8 1166.8,1304.9 1167.3,1305.0 1167.8,1305.1 1168.2,1305.1 1168.7,1305.2 1169.2,1305.2 1169.7,1305.2 1170.2,1305.3 1170.7,1305.3 1171.2,1305.3 1171.7,1305.3 1172.2,1305.3 1172.7,1305.3 1173.1,1305.3 1173.6,1305.3 1174.1,1305.4 1174.6,1305.4 1175.1,1305.4 1175.6,1305.4 1176.1,1305.4 1176.6,1305.4 1177.1,1305.4 1177.5,1305.4 1178.0,1305.4 1178.5,1305.4 1179.0,1305.4 1179.5,1305.4 1180.0,1305.4 1180.5,1305.4 1181.0,1305.4 1181.5,1305.4 1182.0,1305.4 1182.4,1305.4 1182.9,1305.4 1183.4,1305.4 1183.9,1305.4 1184.4,1305.4 1184.9,1305.4 1185.4,1305.4 1185.9,1305.4 1186.4,1305.4 1186.9,1305.4 1187.3,1305.4 1187.8,1305.4 1188.3,1305.4 1188.8,1305.4 1189.3,1305.4 1189.8,1305.4 1190.3,1305.4 1190.8,1305.4 1191.3,1305.4 1191.8,1305.4 1192.2,1305.4 1192.7,1305.4 1193.2,1305.4 1193.7,1305.4 1194.2,1305.4 1194.7,1305.4 1195.2,1305.4 1195.7,1305.4 1196.2,1305.4 1196.6,1305.4 1197.1,1305.4 1197.6,1305.4 1198.1,1305.4 1198.6,1305.4 1199.1,1305.4 1199.6,1305.4 1200.1,1305.4 1200.6,1305.4 1201.1,1305.4 1201.5,1305.4 1202.0,1305.4 1202.5,1305.4 1203.0,1305.4 1203.5,1305.4 1204.0,1305.4 1204.5,1305.4 1205.0,1305.4 1205.5,1305.4 1206.0,1305.4 1206.4,1305.4 1206.9,1305.4 1207.4,1305.4 1207.9,1305.4 1208.4,1305.4 1208.9,1305.4 1209.4,1305.4 1209.9,1305.4 1210.4,1305.4 1210.9,1305.4 1211.3,1305.4 1211.8,1305.4 1212.3,1305.4 1212.8,1305.4 1213.3,1305.4 1213.8,1305.5 1214.3,1305.5 1214.8,1305.5 1215.3,1305.5 1215.7,1305.5 1216.2,1305.5 1216.7,1305.5 1217.2,1305.5 1217.7,1305.5 1218.2,1305.5 1218.7,1305.5 1219.2,1305.5 1219.7,1305.5 1220.2,1305.5 1220.6,1305.5 1221.1,1305.5 1221.6,1305.5 1222.1,1305.5 1222.6,1305.5 1223.1,1305.5 1223.6,1305.5 1224.1,1305.5 1224.6,1305.5 1225.1,1305.5 1225.5,1305.5 1226.0,1305.5 1226.5,1305.5 1227.0,1305.5 1227.5,1305.5 1228.0,1305.5 1228.5,1305.5 1229.0,1305.5 1229.5,1305.5 1229.9,1305.5 1230.4,1305.5 1230.9,1305.5 1231.4,1305.5 1231.9,1305.5 1232.4,1305.5 1232.9,1305.5 1233.4,1305.5 1233.9,1305.5 1234.4,1305.5 1234.8,1305.5 1235.3,1305.5 1235.8,1305.5 1236.3,1305.5 1236.8,1305.5 1237.3,1305.5 1237.8,1305.5 1238.3,1305.5 1238.8,1305.5 1239.3,1305.5 1239.7,1305.5 1240.2,1305.5 1240.7,1305.5 1241.2,1305.5 1241.7,1305.5 1242.2,1305.5 1242.7,1305.5 1243.2,1305.5 1243.7,1305.5 1244.2,1305.5 1244.6,1305.5 1245.1,1305.5 1245.6,1305.5 1246.1,1305.5 1246.6,1305.5 1247.1,1305.5 1247.6,1305.5 1248.1,1305.5 1248.6,1305.5 1249.0,1305.5 1249.5,1305.5 1250.0,1305.5 1250.5,1305.5 1251.0,1305.5 1251.5,1305.5 1252.0,1305.5 1252.5,1305.5 1253.0,1305.5 1253.5,1305.5 1253.9,1305.5 1254.4,1305.5 1254.9,1305.5 1255.4,1305.5 1255.9,1305.5 1256.4,1305.5 1256.9,1305.5 1257.4,1305.5 1257.9,1305.5 1258.4,1305.5 1258.8,1305.5 1259.3,1305.5 1259.8,1305.5 1260.3,1305.5 1260.8,1305.5 1261.3,1305.5 1261.8,1305.5 1262.3,1305.5 1262.8,1305.5 1263.3,1305.5 1263.7,1305.5 1264.2,1305.5 1264.7,1305.5 1265.2,1305.5 1265.7,1305.5 1266.2,1305.5 1266.7,1305.5 1267.2,1305.5 1267.7,1305.5 1268.1,1305.5 1268.6,1305.5 1269.1,1305.5 1269.6,1305.5 1270.1,1305.5 1270.6,1305.5 1271.1,1305.5 1271.6,1305.5 1272.1,1305.5 1272.6,1305.5 1273.0,1305.5 1273.5,1305.5 1274.0,1305.5 1274.5,1305.5 1275.0,1305.5 1275.5,1305.5 1276.0,1305.5 1276.5,1305.5 1277.0,1305.5 1277.5,1305.5 1277.9,1305.5 1278.4,1305.5 1278.9,1305.5 1279.4,1305.5 1279.9,1305.5 1280.4,1305.5 1280.9,1305.5 1281.4,1305.5 1281.9,1305.5 1282.3,1305.5 1282.8,1305.5 1283.3,1305.5 1283.8,1305.5 1284.3,1305.5 1284.8,1305.5 1285.3,1305.5 1285.8,1305.5 1286.3,1305.5 1286.8,1305.5 1287.2,1305.5 1287.7,1305.5 1288.2,1305.5 1288.7,1305.5 1289.2,1305.5 1289.7,1305.5 1290.2,1305.5 1290.7,1305.5 1291.2,1305.5 1291.7,1305.5 1292.1,1305.5 1292.6,1305.5 1293.1,1305.5 1293.6,1305.5 1294.1,1305.5 1294.6,1305.5 1295.1,1305.5 1295.6,1305.5 1296.1,1305.5 1296.6,1305.5 1297.0,1305.5 1297.5,1305.5 1298.0,1305.5 1298.5,1305.5 1299.0,1305.5 1299.5,1305.5 1300.0,1305.5 1300.5,1305.5 1301.0,1305.5 1301.4,1305.5 1301.9,1305.5 1302.4,1305.5 1302.9,1305.5 1303.4,1305.4 1303.9,1305.4 1304.4,1305.4 1304.9,1305.4 1305.4,1305.4 1305.9,1305.4 1306.3,1305.4 1306.8,1305.4 1307.3,1305.4 1307.8,1305.4 1308.3,1305.4 1308.8,1305.4 1309.3,1305.4 1309.8,1305.4 1310.3,1305.4 1310.8,1305.4 1311.2,1305.4 1311.7,1305.4 1312.2,1305.4 1312.7,1305.4 1313.2,1305.4 1313.7,1305.4 1314.2,1305.4 1314.7,1305.4 1315.2,1305.4 1315.7,1305.4 1316.1,1305.4 1316.6,1305.4 1317.1,1305.4 1317.6,1305.4 1318.1,1305.4 1318.6,1305.4 1319.1,1305.4 1319.6,1305.4 1320.1,1305.3 1320.5,1305.3 1321.0,1305.3 1321.5,1305.3 1322.0,1305.3 1322.5,1305.3 1323.0,1305.3 1323.5,1305.3 1324.0,1305.2 1324.5,1305.2 1325.0,1305.2 1325.4,1305.2 1325.9,1305.1 1326.4,1305.1 1326.9,1305.1 1327.4,1305.0 1327.9,1304.9 1328.4,1304.9 1328.9,1304.8 1329.4,1304.6 1329.9,1304.5 1330.3,1304.3 1330.8,1304.0 1331.3,1303.5 1331.8,1302.8 1332.3,1301.5 1332.8,1299.5 1333.3,1296.5 1333.8,1292.9 1334.3,1289.4 1334.7,1287.7 1335.2,1289.1 1335.7,1292.3 1336.2,1295.4 1336.7,1297.6 1337.2,1298.4 1337.7,1298.1 1338.2,1297.0 1338.7,1295.9 1339.2,1295.9 1339.6,1297.3 1340.1,1299.3 1340.6,1301.1 1341.1,1302.5 1341.6,1303.4 1342.1,1304.0 1342.6,1304.3 1343.1,1304.6 1343.6,1304.7 1344.1,1304.8 1344.5,1304.9 1345.0,1305.0 1345.5,1305.0 1346.0,1305.1 1346.5,1305.1 1347.0,1305.2 1347.5,1305.2 1348.0,1305.2 1348.5,1305.2 1349.0,1305.3 1349.4,1305.3 1349.9,1305.3 1350.4,1305.3 1350.9,1305.3 1351.4,1305.3 1351.9,1305.3 1352.4,1305.3 1352.9,1305.3 1353.4,1305.4 1353.8,1305.4 1354.3,1305.4 1354.8,1305.4 1355.3,1305.4 1355.8,1305.4 1356.3,1305.4 1356.8,1305.4 1357.3,1305.4 1357.8,1305.4 1358.3,1305.4 1358.7,1305.4 1359.2,1305.4 1359.7,1305.4 1360.2,1305.4 1360.7,1305.4 1361.2,1305.4 1361.7,1305.4 1362.2,1305.4 1362.7,1305.4 1363.2,1305.4 1363.6,1305.4 1364.1,1305.4 1364.6,1305.4 1365.1,1305.4 1365.6,1305.4 1366.1,1305.4 1366.6,1305.4 1367.1,1305.4 1367.6,1305.4 1368.1,1305.4 1368.5,1305.4 1369.0,1305.4 1369.5,1305.4 1370.0,1305.4 1370.5,1305.4 1371.0,1305.4 1371.5,1305.4 1372.0,1305.4 1372.5,1305.4 1372.9,1305.4 1373.4,1305.4 1373.9,1305.4 1374.4,1305.4 1374.9,1305.4 1375.4,1305.4 1375.9,1305.4 1376.4,1305.4 1376.9,1305.4 1377.4,1305.4 1377.8,1305.4 1378.3,1305.4 1378.8,1305.4 1379.3,1305.4 1379.8,1305.4 1380.3,1305.4 1380.8,1305.4 1381.3,1305.4 1381.8,1305.4 1382.3,1305.4 1382.7,1305.4 1383.2,1305.4 1383.7,1305.4 1384.2,1305.4 1384.7,1305.4 1385.2,1305.4 1385.7,1305.4 1386.2,1305.4 1386.7,1305.4 1387.1,1305.4 1387.6,1305.4 1388.1,1305.4 1388.6,1305.4 1389.1,1305.4 1389.6,1305.4 1390.1,1305.4 1390.6,1305.4 1391.1,1305.4 1391.6,1305.4 1392.0,1305.4 1392.5,1305.4 1393.0,1305.4 1393.5,1305.4 1394.0,1305.4 1394.5,1305.4 1395.0,1305.4 1395.5,1305.4 1396.0,1305.4 1396.5,1305.4 1396.9,1305.4 1397.4,1305.4 1397.9,1305.4 1398.4,1305.4 1398.9,1305.4 1399.4,1305.4 1399.9,1305.4 1400.4,1305.4 1400.9,1305.4 1401.4,1305.4 1401.8,1305.4 1402.3,1305.4 1402.8,1305.4 1403.3,1305.4 1403.8,1305.4 1404.3,1305.4 1404.8,1305.4 1405.3,1305.4 1405.8,1305.4 1406.2,1305.4 1406.7,1305.4 1407.2,1305.4 1407.7,1305.4 1408.2,1305.4 1408.7,1305.4 1409.2,1305.4 1409.7,1305.4 1410.2,1305.4 1410.7,1305.4 1411.1,1305.4 1411.6,1305.4 1412.1,1305.4 1412.6,1305.4 1413.1,1305.4 1413.6,1305.4 1414.1,1305.4 1414.6,1305.4 1415.1,1305.4 1415.6,1305.4 1416.0,1305.4 1416.5,1305.4 1417.0,1305.4 1417.5,1305.4 1418.0,1305.4 1418.5,1305.4 1419.0,1305.4 1419.5,1305.4 1420.0,1305.4 1420.5,1305.4 1420.9,1305.4 1421.4,1305.4 1421.9,1305.4 1422.4,1305.4 1422.9,1305.4 1423.4,1305.4 1423.9,1305.4 1424.4,1305.4 1424.9,1305.4 1425.3,1305.4 1425.8,1305.4 1426.3,1305.3 1426.8,1305.3 1427.3,1305.3 1427.8,1305.3 1428.3,1305.3 1428.8,1305.3 1429.3,1305.3 1429.8,1305.3 1430.2,1305.3 1430.7,1305.3 1431.2,1305.3 1431.7,1305.3 1432.2,1305.3 1432.7,1305.3 1433.2,1305.3 1433.7,1305.3 1434.2,1305.3 1434.7,1305.3 1435.1,1305.3 1435.6,1305.3 1436.1,1305.3 1436.6,1305.3 1437.1,1305.3 1437.6,1305.3 1438.1,1305.3 1438.6,1305.3 1439.1,1305.3 1439.5,1305.3 1440.0,1305.3 1440.5,1305.3 1441.0,1305.3 1441.5,1305.3 1442.0,1305.3 1442.5,1305.3 1443.0,1305.3 1443.5,1305.3 1444.0,1305.3 1444.4,1305.3 1444.9,1305.3 1445.4,1305.2 1445.9,1305.2 1446.4,1305.2 1446.9,1305.2 1447.4,1305.2 1447.9,1305.2 1448.4,1305.2 1448.9,1305.2 1449.3,1305.2 1449.8,1305.2 1450.3,1305.2 1450.8,1305.2 1451.3,1305.2 1451.8,1305.2 1452.3,1305.2 1452.8,1305.2 1453.3,1305.2 1453.8,1305.2 1454.2,1305.2 1454.7,1305.2 1455.2,1305.2 1455.7,1305.2 1456.2,1305.2 1456.7,1305.1 1457.2,1305.1 1457.7,1305.1 1458.2,1305.1 1458.6,1305.1 1459.1,1305.1 1459.6,1305.1 1460.1,1305.1 1460.6,1305.1 1461.1,1305.1 1461.6,1305.1 1462.1,1305.1 1462.6,1305.1 1463.1,1305.1 1463.5,1305.1 1464.0,1305.0 1464.5,1305.0 1465.0,1305.0 1465.5,1305.0 1466.0,1305.0 1466.5,1305.0 1467.0,1305.0 1467.5,1305.0 1468.0,1305.0 1468.4,1305.0 1468.9,1304.9 1469.4,1304.9 1469.9,1301.5 1470.4,1301.9 1470.9,1302.9 1471.4,1302.6 1471.9,1298.5 1472.4,1301.8 1472.9,1302.4 1473.3,1301.1 1473.8,1301.2 1474.3,1302.2 1474.8,1300.8 1475.3,1301.9 1475.8,1302.2 1476.3,1300.7 1476.8,1301.3 1477.3,1301.8 1477.7,1299.9 1478.2,1301.7 1478.7,1301.6 1479.2,1302.2 1479.7,1299.5 1480.2,1302.2 1480.7,1302.3 1481.2,1301.9 1481.7,1301.0 1482.2,1302.3 1482.6,1301.3 1483.1,1298.3 1483.6,1299.3 1484.1,1301.1 1484.6,1301.6 1485.1,1302.1 1485.6,1299.7 1486.1,1301.3 1486.6,1300.9 1487.1,1302.1 1487.5,1301.3 1488.0,1299.5 1488.5,1302.0 1489.0,1301.4 1489.5,1300.0 1490.0,1298.9 1490.5,1301.0 1491.0,1299.9 1491.5,1300.4 1491.9,1300.6 1492.4,1301.5 1492.9,1301.5 1493.4,1301.1 1493.9,1301.2 1494.4,1299.0 1494.9,1298.4 1495.4,1300.1 1495.9,1299.9 1496.4,1300.5 1496.8,1299.1 1497.3,1299.9 1497.8,1300.8 1498.3,1299.3 1498.8,1297.4 1499.3,1295.8 1499.8,1298.2 1500.3,1300.2 1500.8,1298.4 1501.3,1297.5 1501.7,1298.8 1502.2,1296.1 1502.7,1296.9 1503.2,1295.8 1503.7,1298.8 1504.2,1298.3 1504.7,1298.0 1505.2,1296.0 1505.7,1295.5 1506.2,1297.6 1506.6,1296.9 1507.1,1296.4 1507.6,1295.6 1508.1,1293.7 1508.6,1295.0 1509.1,1294.3 1509.6,1293.8 1510.1,1292.6 1510.6,1292.0 1511.0,1291.3 1511.5,1292.8 1512.0,1291.6 1512.5,1290.3 1513.0,1288.8 1513.5,1287.0 1514.0,1284.9 1514.5,1282.4 1515.0,1279.5 1515.5,1276.0 1515.9,1271.7 1516.4,1266.3 1516.9,1259.4 1517.4,1249.9 1517.9,1236.2 1518.4,1215.3 1518.9,1182.7 1519.4,1132.5 1519.9,1059.1 1520.4,959.8 1520.8,839.1 1521.3,716.1 1521.8,630.7 1522.3,626.3 1522.8,701.9 1523.3,812.5 1523.8,915.3 1524.3,988.5 1524.8,1024.6 1525.3,1024.9 1525.7,997.3 1526.2,957.1 1526.7,928.9 1527.2,937.7 1527.7,985.1 1528.2,1050.3 1528.7,1113.6 1529.2,1165.7 1529.7,1204.4 1530.1,1231.1 1530.6,1248.8 1531.1,1260.5 1531.6,1268.3 1532.1,1274.0 1532.6,1278.2 1533.1,1281.5 1533.6,1284.3 1534.1,1286.5 1534.6,1288.4 1535.0,1290.1 1535.5,1291.5 1536.0,1292.7 1536.5,1293.7 1537.0,1294.7 1537.5,1295.5 1538.0,1296.2 1538.5,1296.9 1539.0,1297.5 1539.5,1298.0 1539.9,1298.5 1540.4,1298.9 1540.9,1299.3 1541.4,1299.6 1541.9,1300.0 1542.4,1300.3 1542.9,1300.6 1543.4,1300.8 1543.9,1301.0 1544.3,1301.3 1544.8,1301.5 1545.3,1301.6 1545.8,1301.8 1546.3,1302.0 1546.8,1302.1 1547.3,1302.3 1547.8,1302.4 1548.3,1302.5 1548.8,1302.7 1549.2,1302.8 1549.7,1302.9 1550.2,1303.0 1550.7,1303.1 1551.2,1303.2 1551.7,1303.2 1552.2,1303.3 1552.7,1303.4 1553.2,1303.5 1553.7,1303.5 1554.1,1303.6 1554.6,1303.7 1555.1,1303.7 1555.6,1303.8 1556.1,1303.8 1556.6,1303.9 1557.1,1303.9 1557.6,1304.0 1558.1,1304.0 1558.6,1304.1 1559.0,1304.1 1559.5,1304.1 1560.0,1304.2 1560.5,1304.2 1561.0,1304.2 1561.5,1304.3 1562.0,1304.3 1562.5,1304.3 1563.0,1304.4 1563.4,1304.4 1563.9,1304.4 1564.4,1304.4 1564.9,1304.5 1565.4,1304.5 1565.9,1304.5 1566.4,1304.5 1566.9,1304.5 1567.4,1304.6 1567.9,1304.6 1568.3,1304.6 1568.8,1304.6 1569.3,1304.6 1569.8,1304.6 1570.3,1304.6 1570.8,1304.6 1571.3,1304.6 1571.8,1304.6 1572.3,1304.6 1572.8,1304.6 1573.2,1304.5 1573.7,1304.5 1574.2,1304.4 1574.7,1304.1 1575.2,1303.8 1575.7,1303.3 1576.2,1302.6 1576.7,1302.0 1577.2,1301.7 1577.7,1302.0 1578.1,1302.6 1578.6,1303.2 1579.1,1303.7 1579.6,1304.0 1580.1,1304.1 1580.6,1304.0 1581.1,1303.8 1581.6,1303.5 1582.1,1303.3 1582.5,1303.4 1583.0,1303.7 1583.5,1304.0 1584.0,1304.3 1584.5,1304.6 1585.0,1304.7 1585.5,1304.8 1586.0,1304.9 1586.5,1304.9 1587.0,1305.0 1587.4,1305.0 1587.9,1305.0 1588.4,1305.0 1588.9,1305.0 1589.4,1305.1 1589.9,1305.1 1590.4,1305.1 1590.9,1305.1 1591.4,1305.1 1591.9,1305.1 1592.3,1305.1 1592.8,1305.1 1593.3,1305.1 1593.8,1305.1 1594.3,1305.1 1594.8,1305.1 1595.3,1305.2 1595.8,1305.2 1596.3,1305.2 1596.7,1305.2 1597.2,1305.2 1597.7,1305.2 1598.2,1305.2 1598.7,1305.2 1599.2,1305.2 1599.7,1305.2 1600.2,1305.2 1600.7,1305.2 1601.2,1305.2 1601.6,1305.2 1602.1,1305.2 1602.6,1305.2 1603.1,1305.2 1603.6,1305.2 1604.1,1305.2 1604.6,1305.2 1605.1,1305.2 1605.6,1305.2 1606.1,1305.2 1606.5,1305.2 1607.0,1305.2 1607.5,1305.3 1608.0,1305.3 1608.5,1305.3 1609.0,1305.3 1609.5,1305.3 1610.0,1305.3 1610.5,1305.3 1611.0,1305.3 1611.4,1305.3 1611.9,1305.3 1612.4,1305.3 1612.9,1305.3 1613.4,1305.3 1613.9,1305.3 1614.4,1305.3 1614.9,1305.3 1615.4,1305.3 1615.8,1305.3 1616.3,1305.3 1616.8,1305.3 1617.3,1305.3 1617.8,1305.3 1618.3,1305.3 1618.8,1305.3 1619.3,1305.3 1619.8,1305.3 1620.3,1305.3 1620.7,1305.3 1621.2,1305.3 1621.7,1305.3 1622.2,1305.3 1622.7,1305.3 1623.2,1305.3 1623.7,1305.3 1624.2,1305.3 1624.7,1305.3 1625.2,1305.3 1625.6,1305.3 1626.1,1305.3 1626.6,1305.3 1627.1,1305.3 1627.6,1305.3 1628.1,1305.3 1628.6,1305.3 1629.1,1305.3 1629.6,1305.3 1630.1,1305.3 1630.5,1305.3 1631.0,1305.3 1631.5,1305.3 1632.0,1305.3 1632.5,1305.3 1633.0,1305.3 1633.5,1305.2 1634.0,1305.2 1634.5,1305.2 1634.9,1305.2 1635.4,1305.2 1635.9,1305.2 1636.4,1305.2 1636.9,1305.2 1637.4,1305.2 1637.9,1305.2 1638.4,1305.2 1638.9,1305.2 1639.4,1305.2 1639.8,1305.1 1640.3,1305.1 1640.8,1305.1 1641.3,1305.1 1641.8,1305.1 1642.3,1305.1 1642.8,1305.0 1643.3,1305.0 1643.8,1305.0 1644.3,1305.0 1644.7,1304.9 1645.2,1304.9 1645.7,1304.9 1646.2,1304.8 1646.7,1304.8 1647.2,1304.7 1647.7,1304.7 1648.2,1304.6 1648.7,1304.5 1649.1,1304.4 1649.6,1304.3 1650.1,1304.2 1650.6,1304.0 1651.1,1303.8 1651.6,1303.6 1652.1,1303.3 1652.6,1302.9 1653.1,1302.5 1653.6,1301.9 1654.0,1301.0 1654.5,1299.6 1655.0,1297.3 1655.5,1293.4 1656.0,1287.3 1656.5,1278.3 1657.0,1267.2 1657.5,1256.4 1658.0,1251.5 1658.5,1256.0 1658.9,1266.4 1659.4,1277.0 1659.9,1285.2 1660.4,1290.2 1660.9,1292.2 1661.4,1291.5 1661.9,1288.5 1662.4,1283.9 1662.9,1279.1 1663.4,1276.8 1663.8,1279.2 1664.3,1284.7 1664.8,1290.5 1665.3,1295.2 1665.8,1298.4 1666.3,1300.5 1666.8,1301.8 1667.3,1302.6 1667.8,1303.1 1668.2,1303.5 1668.7,1303.7 1669.2,1304.0 1669.7,1304.1 1670.2,1304.3 1670.7,1304.4 1671.2,1304.5 1671.7,1304.6 1672.2,1304.6 1672.7,1304.7 1673.1,1304.8 1673.6,1304.8 1674.1,1304.9 1674.6,1304.9 1675.1,1304.9 1675.6,1304.9 1676.1,1305.0 1676.6,1305.0 1677.1,1305.0 1677.6,1305.0 1678.0,1305.0 1678.5,1305.0 1679.0,1305.0 1679.5,1305.0 1680.0,1305.0 1680.5,1305.0 1681.0,1305.0 1681.5,1304.9 1682.0,1304.9 1682.5,1304.8 1682.9,1304.8 1683.4,1304.6 1683.9,1304.5 1684.4,1304.1 1684.9,1303.6 1685.4,1302.7 1685.9,1301.4 1686.4,1299.8 1686.9,1298.2 1687.3,1297.5 1687.8,1298.2 1688.3,1299.7 1688.8,1301.2 1689.3,1302.4 1689.8,1303.2 1690.3,1303.5 1690.8,1303.5 1691.3,1303.1 1691.8,1302.4 1692.2,1301.7 1692.7,1301.3 1693.2,1301.4 1693.7,1302.2 1694.2,1303.0 1694.7,1303.8 1695.2,1304.3 1695.7,1304.6 1696.2,1304.9 1696.7,1305.0 1697.1,1305.1 1697.6,1305.1 1698.1,1305.2 1698.6,1305.2 1699.1,1305.2 1699.6,1305.3 1700.1,1305.3 1700.6,1305.3 1701.1,1305.3 1701.5,1305.3 1702.0,1305.3 1702.5,1305.3 1703.0,1305.4 1703.5,1305.4 1704.0,1305.4 1704.5,1305.4 1705.0,1305.4 1705.5,1305.4 1706.0,1305.4 1706.4,1305.4 1706.9,1305.4 1707.4,1305.4 1707.9,1305.4 1708.4,1305.4 1708.9,1305.4 1709.4,1305.4 1709.9,1305.4 1710.4,1305.4 1710.9,1305.4 1711.3,1305.4 1711.8,1305.4 1712.3,1305.4 1712.8,1305.4 1713.3,1305.4 1713.8,1305.4 1714.3,1305.4 1714.8,1305.4 1715.3,1305.4 1715.8,1305.4 1716.2,1305.4 1716.7,1305.4 1717.2,1305.4 1717.7,1305.5 1718.2,1305.5 1718.7,1305.5 1719.2,1305.5 1719.7,1305.5 1720.2,1305.5 1720.6,1305.5 1721.1,1305.5 1721.6,1305.5 1722.1,1305.5 1722.6,1305.5 1723.1,1305.5 1723.6,1305.5 1724.1,1305.5 1724.6,1305.5 1725.1,1305.5 1725.5,1305.5 1726.0,1305.5 1726.5,1305.5 1727.0,1305.5 1727.5,1305.5 1728.0,1305.5 1728.5,1305.5 1729.0,1305.5 1729.5,1305.5 1730.0,1305.5 1730.4,1305.5 1730.9,1305.5 1731.4,1305.5 1731.9,1305.5 1732.4,1305.5 1732.9,1305.5 1733.4,1305.5 1733.9,1305.5 1734.4,1305.5 1734.9,1305.5 1735.3,1305.5 1735.8,1305.5 1736.3,1305.5 1736.8,1305.5 1737.3,1305.5 1737.8,1305.5 1738.3,1305.5 1738.8,1305.5 1739.3,1305.5 1739.7,1305.5 1740.2,1305.5 1740.7,1305.5 1741.2,1305.5 1741.7,1305.5 1742.2,1305.5 1742.7,1305.5 1743.2,1305.5 1743.7,1305.5 1744.2,1305.5 1744.6,1305.5 1745.1,1305.5 1745.6,1305.5 1746.1,1305.5 1746.6,1305.5 1747.1,1305.5 1747.6,1305.5 1748.1,1305.5 1748.6,1305.5 1749.1,1305.5 1749.5,1305.5 1750.0,1305.5 1750.5,1305.5 1751.0,1305.5 1751.5,1305.5 1752.0,1305.5 1752.5,1305.5 1753.0,1305.5 1753.5,1305.5 1753.9,1305.5 1754.4,1305.5 1754.9,1305.5 1755.4,1305.5 1755.9,1305.5 1756.4,1305.5 1756.9,1305.5 1757.4,1305.5 1757.9,1305.5 1758.4,1305.5 1758.8,1305.5 1759.3,1305.5 1759.8,1305.5 1760.3,1305.5 1760.8,1305.5 1761.3,1305.5 1761.8,1305.5 1762.3,1305.5 1762.8,1305.5 1763.3,1305.5 1763.7,1305.5 1764.2,1305.5 1764.7,1305.5 1765.2,1305.5 1765.7,1305.5 1766.2,1305.5 1766.7,1305.5 1767.2,1305.5 1767.7,1305.5 1768.2,1305.5 1768.6,1305.5 1769.1,1305.5 1769.6,1305.5 1770.1,1305.5 1770.6,1305.5 1771.1,1305.5 1771.6,1305.5 1772.1,1305.5 1772.6,1305.5 1773.0,1305.5 1773.5,1305.5 1774.0,1305.5 1774.5,1305.5 1775.0,1305.5 1775.5,1305.5 1776.0,1305.4 1776.5,1305.4 1777.0,1305.4 1777.5,1305.4 1777.9,1305.4 1778.4,1305.4 1778.9,1305.4 1779.4,1305.4 1779.9,1305.4 1780.4,1305.4 1780.9,1305.4 1781.4,1305.4 1781.9,1305.4 1782.4,1305.4 1782.8,1305.4 1783.3,1305.4 1783.8,1305.4 1784.3,1305.4 1784.8,1305.4 1785.3,1305.4 1785.8,1305.4 1786.3,1305.4 1786.8,1305.4 1787.3,1305.3 1787.7,1305.3 1788.2,1305.3 1788.7,1305.3 1789.2,1305.3 1789.7,1305.3 1790.2,1305.3 1790.7,1305.3 1791.2,1305.2 1791.7,1305.2 1792.1,1305.2 1792.6,1305.2 1793.1,1305.2 1793.6,1305.1 1794.1,1305.1 1794.6,1305.1 1795.1,1305.0 1795.6,1305.0 1796.1,1304.9 1796.6,1304.9 1797.0,1304.8 1797.5,1304.7 1798.0,1304.6 1798.5,1304.5 1799.0,1304.4 1799.5,1304.2 1800.0,1304.0 1800.5,1303.7 1801.0,1303.4 1801.5,1302.9 1801.9,1302.1 1802.4,1300.9 1802.9,1298.9 1803.4,1295.5 1803.9,1290.4 1804.4,1283.4 1804.9,1275.6 1805.4,1269.8 1805.9,1269.7 1806.3,1275.3 1806.8,1282.9 1807.3,1289.6 1807.8,1294.4 1808.3,1297.2 1808.8,1298.4 1809.3,1298.1 1809.8,1296.6 1810.3,1293.9 1810.8,1290.4 1811.2,1287.3 1811.7,1286.4 1812.2,1288.7 1812.7,1292.6 1813.2,1296.3 1813.7,1299.3 1814.2,1301.3 1814.7,1302.5 1815.2,1303.3 1815.7,1303.8 1816.1,1304.1 1816.6,1304.3 1817.1,1304.5 1817.6,1304.6 1818.1,1304.7 1818.6,1304.8 1819.1,1304.9 1819.6,1304.9 1820.1,1305.0 1820.6,1305.0 1821.0,1305.1 1821.5,1305.1 1822.0,1305.1 1822.5,1305.2 1823.0,1305.2 1823.5,1305.2 1824.0,1305.2 1824.5,1305.3 1825.0,1305.3 1825.4,1305.3 1825.9,1305.3 1826.4,1305.3 1826.9,1305.3 1827.4,1305.3 1827.9,1305.4 1828.4,1305.4 1828.9,1305.4 1829.4,1305.4 1829.9,1305.4 1830.3,1305.4 1830.8,1305.4 1831.3,1305.4 1831.8,1305.4 1832.3,1305.4 1832.8,1305.4 1833.3,1305.4 1833.8,1305.4 1834.3,1305.4 1834.8,1305.4 1835.2,1305.4 1835.7,1305.4 1836.2,1305.4 1836.7,1305.5 1837.2,1305.5 1837.7,1305.5 1838.2,1305.5 1838.7,1305.5 1839.2,1305.5 1839.7,1305.5 1840.1,1305.5 1840.6,1305.5 1841.1,1305.5 1841.6,1305.5 1842.1,1305.5 1842.6,1305.5 1843.1,1305.5 1843.6,1305.5 1844.1,1305.5 1844.5,1305.5 1845.0,1305.5 1845.5,1305.5 1846.0,1305.5 1846.5,1305.5 1847.0,1305.5 1847.5,1305.5 1848.0,1305.5 1848.5,1305.5 1849.0,1305.5 1849.4,1305.5 1849.9,1305.5 1850.4,1305.5 1850.9,1305.5 1851.4,1305.5 1851.9,1305.5 1852.4,1305.5 1852.9,1305.5 1853.4,1305.5 1853.9,1305.5 1854.3,1305.5 1854.8,1305.5 1855.3,1305.5 1855.8,1305.5 1856.3,1305.5 1856.8,1305.5 1857.3,1305.5 1857.8,1305.5 1858.3,1305.5 1858.7,1305.5 1859.2,1305.5 1859.7,1305.5 1860.2,1305.5 1860.7,1305.5 1861.2,1305.5 1861.7,1305.5 1862.2,1305.5 1862.7,1305.5 1863.2,1305.5 1863.6,1305.5 1864.1,1305.5 1864.6,1305.5 1865.1,1305.5 1865.6,1305.5 1866.1,1305.5 1866.6,1305.5 1867.1,1305.5 1867.6,1305.5 1868.1,1305.5 1868.5,1305.5 1869.0,1305.5 1869.5,1305.5 1870.0,1305.5 1870.5,1305.5 1871.0,1305.5 1871.5,1305.5 1872.0,1305.5 1872.5,1305.5 1873.0,1305.5 1873.4,1305.5 1873.9,1305.5 1874.4,1305.5 1874.9,1305.5 1875.4,1305.5 1875.9,1305.5 1876.4,1305.5 1876.9,1305.5 1877.4,1305.5 1877.8,1305.5 1878.3,1305.5 1878.8,1305.5 1879.3,1305.5 1879.8,1305.5 1880.3,1305.5 1880.8,1305.5 1881.3,1305.5 1881.8,1305.5 1882.3,1305.5 1882.7,1305.5 1883.2,1305.5 1883.7,1305.5 1884.2,1305.5 1884.7,1305.5 1885.2,1305.5 1885.7,1305.5 1886.2,1305.5 1886.7,1305.5 1887.2,1305.5 1887.6,1305.5 1888.1,1305.5 1888.6,1305.5 1889.1,1305.5 1889.6,1305.5 1890.1,1305.5 1890.6,1305.5 1891.1,1305.5 1891.6,1305.5 1892.1,1305.5 1892.5,1305.5 1893.0,1305.5 1893.5,1305.5 1894.0,1305.5 1894.5,1305.5 1895.0,1305.5 1895.5,1305.5 1896.0,1305.5 1896.5,1305.5 1896.9,1305.5 1897.4,1305.5 1897.9,1305.5 1898.4,1305.5 1898.9,1305.5 1899.4,1305.5 1899.9,1305.5 1900.4,1305.5 1900.9,1305.5 1901.4,1305.5 1901.8,1305.5 1902.3,1305.5 1902.8,1305.5 1903.3,1305.5 1903.8,1305.5 1904.3,1305.5 1904.8,1305.5 1905.3,1305.5 1905.8,1305.5 1906.3,1305.5 1906.7,1305.5 1907.2,1305.5 1907.7,1305.5 1908.2,1305.5 1908.7,1305.5 1909.2,1305.5 1909.7,1305.5 1910.2,1305.5 1910.7,1305.5 1911.1,1305.5 1911.6,1305.5 1912.1,1305.5 1912.6,1305.5 1913.1,1305.5 1913.6,1305.5 1914.1,1305.5 1914.6,1305.5 1915.1,1305.5 1915.6,1305.5 1916.0,1305.5 1916.5,1305.5 1917.0,1305.5 1917.5,1305.5 1918.0,1305.5 1918.5,1305.5 1919.0,1305.5 1919.5,1305.5 1920.0,1305.5 1920.5,1305.5 1920.9,1305.5 1921.4,1305.5 1921.9,1305.5 1922.4,1305.5 1922.9,1305.5 1923.4,1305.5 1923.9,1305.5 1924.4,1305.5 1924.9,1305.5 1925.4,1305.5 1925.8,1305.5 1926.3,1305.5 1926.8,1305.5 1927.3,1305.5 1927.8,1305.5 1928.3,1305.5 1928.8,1305.5 1929.3,1305.5 1929.8,1305.5 1930.2,1305.5 1930.7,1305.5 1931.2,1305.5 1931.7,1305.5 1932.2,1305.5 1932.7,1305.5 1933.2,1305.5 1933.7,1305.5 1934.2,1305.5 1934.7,1305.5 1935.1,1305.5 1935.6,1305.5 1936.1,1305.5 1936.6,1305.5 1937.1,1305.5 1937.6,1305.5 1938.1,1305.5 1938.6,1305.5 1939.1,1305.5 1939.6,1305.5 1940.0,1305.5 1940.5,1305.5 1941.0,1305.5 1941.5,1305.5 1942.0,1305.5 1942.5,1305.5 1943.0,1305.5 1943.5,1305.5 1944.0,1305.5 1944.5,1305.5 1944.9,1305.5 1945.4,1305.5 1945.9,1305.5 1946.4,1305.5 1946.9,1305.5 1947.4,1305.5 1947.9,1305.5 1948.4,1305.5 1948.9,1305.5 1949.3,1305.5 1949.8,1305.5 1950.3,1305.5 1950.8,1305.5 1951.3,1305.5 1951.8,1305.5 1952.3,1305.5 1952.8,1305.5 1953.3,1305.5 1953.8,1305.5 1954.2,1305.5 1954.7,1305.5 1955.2,1305.5 1955.7,1305.5 1956.2,1305.5 1956.7,1305.5 1957.2,1305.5 1957.7,1305.5 1958.2,1305.5 1958.7,1305.5 1959.1,1305.5 1959.6,1305.5 1960.1,1305.5 1960.6,1305.5 1961.1,1305.5 1961.6,1305.5 1962.1,1305.5 1962.6,1305.5 1963.1,1305.5 1963.5,1305.5 1964.0,1305.5 1964.5,1305.5 1965.0,1305.5 1965.5,1305.5 1966.0,1305.5 1966.5,1305.5 1967.0,1305.5 1967.5,1305.5 1968.0,1305.5 1968.4,1305.5 1968.9,1305.5 1969.4,1305.5 1969.9,1305.5 1970.4,1305.5 1970.9,1305.5 1971.4,1305.5 1971.9,1305.5 1972.4,1305.5 1972.9,1305.5 1973.3,1305.5 1973.8,1305.5 1974.3,1305.5 1974.8,1305.5 1975.3,1305.5 1975.8,1305.5 1976.3,1305.5 1976.8,1305.5 1977.3,1305.5 1977.8,1305.5 1978.2,1305.5 1978.7,1305.5 1979.2,1305.5 1979.7,1305.5 1980.2,1305.5 1980.7,1305.5 1981.2,1305.5 1981.7,1305.5 1982.2,1305.5 1982.6,1305.5 1983.1,1305.5 1983.6,1305.5 1984.1,1305.5 1984.6,1305.5 1985.1,1305.5 1985.6,1305.5 1986.1,1305.5 1986.6,1305.5 1987.1,1305.5 1987.5,1305.5 1988.0,1305.5 1988.5,1305.5 1989.0,1305.5 1989.5,1305.5 1990.0,1305.5 1990.5,1305.5 1991.0,1305.5 1991.5,1305.5 1992.0,1305.5 1992.4,1305.5 1992.9,1305.5 1993.4,1305.5 1993.9,1305.5 1994.4,1305.5 1994.9,1305.5 1995.4,1305.5 1995.9,1305.5 1996.4,1305.5 1996.9,1305.5 1997.3,1305.5 1997.8,1305.5 1998.3,1305.5"/>
<polyline fill="none" stroke="#f00" stroke-width="5.4" stroke-linejoin="round" points="284.3,1157.5 284.8,1157.5 285.3,1157.5 285.8,1157.5 286.3,1157.5 286.7,1157.5 287.2,1157.5 287.7,1157.5 288.2,1157.5 288.7,1157.5 289.2,1157.5 289.7,1157.5 290.2,1157.4 290.7,1157.4 291.2,1157.4 291.6,1157.4 292.1,1157.4 292.6,1157.4 293.1,1157.4 293.6,1157.4 294.1,1157.4 294.6,1157.4 295.1,1157.4 295.6,1157.4 296.1,1157.4 296.5,1157.4 297.0,1157.3 297.5,1157.3 298.0,1157.3 298.5,1157.3 299.0,1157.3 299.5,1157.3 300.0,1157.3 300.5,1157.3 301.0,1157.3 301.4,1157.3 301.9,1157.3 302.4,1157.3 302.9,1157.2 303.4,1157.2 303.9,1157.2 304.4,1157.2 304.9,1157.2 305.4,1157.2 305.8,1157.2 306.3,1157.2 306.8,1157.2 307.3,1157.2 307.8,1157.1 308.3,1157.1 308.8,1157.1 309.3,1157.1 309.8,1157.1 310.3,1157.1 310.7,1157.1 311.2,1157.1 311.7,1157.0 312.2,1157.0 312.7,1157.0 313.2,1157.0 313.7,1157.0 314.2,1157.0 314.7,1157.0 315.2,1157.0 315.6,1156.9 316.1,1156.9 316.6,1156.9 317.1,1156.9 317.6,1156.9 318.1,1156.9 318.6,1156.9 319.1,1156.8 319.6,1156.8 320.0,1156.8 320.5,1156.8 321.0,1156.8 321.5,1156.8 322.0,1156.7 322.5,1156.7 323.0,1156.7 323.5,1156.7 324.0,1156.7 324.5,1156.7 324.9,1156.6 325.4,1156.6 325.9,1156.6 326.4,1156.6 326.9,1156.6 327.4,1156.5 327.9,1156.5 328.4,1156.5 328.9,1156.5 329.4,1156.4 329.8,1156.4 330.3,1156.4 330.8,1156.4 331.3,1156.4 331.8,1156.3 332.3,1156.3 332.8,1156.3 333.3,1156.3 333.8,1156.2 334.3,1156.2 334.7,1156.2 335.2,1156.1 335.7,1156.1 336.2,1156.1 336.7,1156.1 337.2,1156.0 337.7,1156.0 338.2,1156.0 338.7,1155.9 339.1,1155.9 339.6,1155.9 340.1,1155.8 340.6,1155.8 341.1,1155.8 341.6,1155.7 342.1,1155.7 342.6,1155.7 343.1,1155.6 343.6,1155.6 344.0,1155.5 344.5,1155.5 345.0,1155.4 345.5,1155.4 346.0,1155.4 346.5,1155.3 347.0,1155.3 347.5,1155.2 348.0,1155.2 348.5,1155.1 348.9,1155.1 349.4,1155.0 349.9,1155.0 350.4,1154.9 350.9,1154.8 351.4,1154.8 351.9,1154.7 352.4,1154.7 352.9,1154.6 353.4,1154.5 353.8,1154.5 354.3,1154.4 354.8,1154.3 355.3,1154.3 355.8,1154.2 356.3,1154.1 356.8,1154.0 357.3,1153.9 357.8,1153.9 358.2,1153.8 358.7,1153.7 359.2,1153.6 359.7,1153.5 360.2,1153.4 360.7,1153.3 361.2,1153.2 361.7,1153.1 362.2,1153.0 362.7,1152.9 363.1,1152.8 363.6,1152.6 364.1,1152.5 364.6,1152.4 365.1,1152.3 365.6,1152.1 366.1,1152.0 366.6,1151.8 367.1,1151.7 367.6,1151.5 368.0,1151.4 368.5,1151.2 369.0,1151.0 369.5,1150.8 370.0,1150.6 370.5,1150.4 371.0,1150.2 371.5,1150.0 372.0,1149.8 372.4,1149.6 372.9,1149.3 373.4,1149.1 373.9,1148.8 374.4,1148.5 374.9,1148.3 375.4,1148.0 375.9,1147.6 376.4,1147.3 376.9,1147.0 377.3,1146.6 377.8,1146.3 378.3,1145.9 378.8,1145.5 379.3,1145.0 379.8,1144.6 380.3,1144.1 380.8,1143.6 381.3,1143.1 381.8,1142.5 382.2,1141.9 382.7,1141.3 383.2,1140.6 383.7,1139.9 384.2,1139.2 384.7,1138.4 385.2,1137.6 385.7,1136.7 386.2,1135.8 386.7,1134.8 387.1,1133.7 387.6,1132.5 388.1,1131.3 388.6,1130.0 389.1,1128.6 389.6,1127.0 390.1,1125.4 390.6,1123.6 391.1,1121.7 391.5,1119.6 392.0,1117.3 392.5,1114.9 393.0,1112.2 393.5,1109.2 394.0,1106.0 394.5,1102.4 395.0,1098.5 395.5,1094.1 396.0,1089.3 396.4,1083.9 396.9,1077.9 397.4,1071.1 397.9,1063.5 398.4,1054.8 398.9,1044.9 399.4,1033.6 399.9,1020.5 400.4,1005.3 400.9,987.6 401.3,966.9 401.8,942.5 402.3,913.7 402.8,879.7 403.3,839.7 403.8,792.6 404.3,737.6 404.8,674.0 405.3,601.9 405.8,522.6 406.2,439.4 406.7,358.3 407.2,288.4 407.7,240.4 408.2,223.2 408.7,240.4 409.2,288.4 409.7,358.3 410.2,439.4 410.6,522.6 411.1,601.9 411.6,674.0 412.1,737.6 412.6,792.6 413.1,839.7 413.6,879.7 414.1,913.7 414.6,942.5 415.1,966.9 415.5,987.6 416.0,1005.3 416.5,1020.5 417.0,1033.6 417.5,1044.9 418.0,1054.8 418.5,1063.5 419.0,1071.1 419.5,1077.9 420.0,1083.9 420.4,1089.3 420.9,1094.1 421.4,1098.5 421.9,1102.4 422.4,1106.0 422.9,1109.2 423.4,1112.2 423.9,1114.9 424.4,1117.3 424.8,1119.6 425.3,1121.7 425.8,1123.6 426.3,1125.4 426.8,1127.0 427.3,1128.6 427.8,1130.0 428.3,1131.3 428.8,1132.5 429.3,1133.7 429.7,1134.7 430.2,1135.8 430.7,1136.7 431.2,1137.6 431.7,1138.4 432.2,1139.2 432.7,1139.9 433.2,1140.6 433.7,1141.3 434.2,1141.9 434.6,1142.5 435.1,1143.1 435.6,1143.6 436.1,1144.1 436.6,1144.6 437.1,1145.0 437.6,1145.4 438.1,1145.8 438.6,1146.2 439.1,1146.6 439.5,1147.0 440.0,1147.3 440.5,1147.6 441.0,1147.9 441.5,1148.2 442.0,1148.5 442.5,1148.8 443.0,1149.1 443.5,1149.3 443.9,1149.5 444.4,1149.8 444.9,1150.0 445.4,1150.2 445.9,1150.4 446.4,1150.6 446.9,1150.8 447.4,1151.0 447.9,1151.2 448.4,1151.3 448.8,1151.5 449.3,1151.6 449.8,1151.8 450.3,1151.9 450.8,1152.1 451.3,1152.2 451.8,1152.4 452.3,1152.5 452.8,1152.6 453.3,1152.7 453.7,1152.8 454.2,1153.0 454.7,1153.1 455.2,1153.2 455.7,1153.3 456.2,1153.4 456.7,1153.5 457.2,1153.6 457.7,1153.7 458.2,1153.7 458.6,1153.8 459.1,1153.9 459.6,1154.0 460.1,1154.1 460.6,1154.2 461.1,1154.2 461.6,1154.3 462.1,1154.4 462.6,1154.4 463.0,1154.5 463.5,1154.6 464.0,1154.6 464.5,1154.7 465.0,1154.8 465.5,1154.8 466.0,1154.9 466.5,1154.9 467.0,1155.0 467.5,1155.0 467.9,1155.1 468.4,1155.1 468.9,1155.2 469.4,1155.2 469.9,1155.3 470.4,1155.3 470.9,1155.4 471.4,1155.4 471.9,1155.5 472.4,1155.5 472.8,1155.5 473.3,1155.6 473.8,1155.6 474.3,1155.7 474.8,1155.7 475.3,1155.7 475.8,1155.8 476.3,1155.8 476.8,1155.8 477.2,1155.9 477.7,1155.9 478.2,1155.9 478.7,1156.0 479.2,1156.0 479.7,1156.0 480.2,1156.0 480.7,1156.1 481.2,1156.1 481.7,1156.1 482.1,1156.2 482.6,1156.2 483.1,1156.2 483.6,1156.2 484.1,1156.3 484.6,1156.3 485.1,1156.3 485.6,1156.3 486.1,1156.4 486.6,1156.4 487.0,1156.4 487.5,1156.4 488.0,1156.4 488.5,1156.5 489.0,1156.5 489.5,1156.5 490.0,1156.5 490.5,1156.5 491.0,1156.6 491.5,1156.6 491.9,1156.6 492.4,1156.6 492.9,1156.6 493.4,1156.7 493.9,1156.7 494.4,1156.7 494.9,1156.7 495.4,1156.7 495.9,1156.7 496.3,1156.8 496.8,1156.8 497.3,1156.8 497.8,1156.8 498.3,1156.8 498.8,1156.8 499.3,1156.8 499.8,1156.9 500.3,1156.9 500.8,1156.9 501.2,1156.9 501.7,1156.9 502.2,1156.9 502.7,1156.9 503.2,1156.9 503.7,1157.0 504.2,1157.0 504.7,1157.0 505.2,1157.0 505.7,1157.0 506.1,1157.0 506.6,1157.0 507.1,1157.0 507.6,1157.1 508.1,1157.1 508.6,1157.1 509.1,1157.1 509.6,1157.1 510.1,1157.1 510.6,1157.1 511.0,1157.1 511.5,1157.1 512.0,1157.1 512.5,1157.2 513.0,1157.2 513.5,1157.2 514.0,1157.2 514.5,1157.2 515.0,1157.2 515.4,1157.2 515.9,1157.2 516.4,1157.2 516.9,1157.2 517.4,1157.2 517.9,1157.2 518.4,1157.3 518.9,1157.3 519.4,1157.3 519.9,1157.3 520.3,1157.3 520.8,1157.3 521.3,1157.3 521.8,1157.3 522.3,1157.3 522.8,1157.3 523.3,1157.3 523.8,1157.3 524.3,1157.3 524.8,1157.3 525.2,1157.4 525.7,1157.4 526.2,1157.4 526.7,1157.4 527.2,1157.4 527.7,1157.4 528.2,1157.4 528.7,1157.4 529.2,1157.4 529.6,1157.4 530.1,1157.4 530.6,1157.4 531.1,1157.4 531.6,1157.4 532.1,1157.4 532.6,1157.4 533.1,1157.4 533.6,1157.4 534.1,1157.5 534.5,1157.5 535.0,1157.5 535.5,1157.5 536.0,1157.5 536.5,1157.5 537.0,1157.5 537.5,1157.5 538.0,1157.5 538.5,1157.5 539.0,1157.5 539.4,1157.5 539.9,1157.5 540.4,1157.5 540.9,1157.5 541.4,1157.5 541.9,1157.5 542.4,1157.5 542.9,1157.5 543.4,1157.5 543.9,1157.5 544.3,1157.5 544.8,1157.5 545.3,1157.5 545.8,1157.6 546.3,1157.6 546.8,1157.6 547.3,1157.6 547.8,1157.6 548.3,1157.6 548.7,1157.6 549.2,1157.6 549.7,1157.6 550.2,1157.6 550.7,1157.6 551.2,1157.6 551.7,1157.6 552.2,1157.6 552.7,1157.6 553.2,1157.6 553.6,1157.6 554.1,1157.6 554.6,1157.6 555.1,1157.6 555.6,1157.6 556.1,1157.6 556.6,1157.6 557.1,1157.6 557.6,1157.6 558.1,1157.6 558.5,1157.6 559.0,1157.6 559.5,1157.6 560.0,1157.6 560.5,1157.6 561.0,1157.6 561.5,1157.6 562.0,1157.6 562.5,1157.6 563.0,1157.6 563.4,1157.6 563.9,1157.7 564.4,1157.7 564.9,1157.7 565.4,1157.7 565.9,1157.7 566.4,1157.7 566.9,1157.7 567.4,1157.7 567.8,1157.7 568.3,1157.7 568.8,1157.7 569.3,1157.7 569.8,1157.7 570.3,1157.7 570.8,1157.7 571.3,1157.7 571.8,1157.7 572.3,1157.7 572.7,1157.7 573.2,1157.7 573.7,1157.7 574.2,1157.7 574.7,1157.7 575.2,1157.7 575.7,1157.7 576.2,1157.7 576.7,1157.7 577.2,1157.7 577.6,1157.7 578.1,1157.7 578.6,1157.7 579.1,1157.7 579.6,1157.7 580.1,1157.7 580.6,1157.7 581.1,1157.7 581.6,1157.7 582.0,1157.7 582.5,1157.7 583.0,1157.7 583.5,1157.7 584.0,1157.7 584.5,1157.7 585.0,1157.7 585.5,1157.7 586.0,1157.7 586.5,1157.7 586.9,1157.7 587.4,1157.7 587.9,1157.7 588.4,1157.7 588.9,1157.7 589.4,1157.7 589.9,1157.7 590.4,1157.7 590.9,1157.7 591.4,1157.7 591.8,1157.7 592.3,1157.7 592.8,1157.7 593.3,1157.7 593.8,1157.7 594.3,1157.7 594.8,1157.7 595.3,1157.7 595.8,1157.7 596.3,1157.7 596.7,1157.7 597.2,1157.7 597.7,1157.7 598.2,1157.7 598.7,1157.7 599.2,1157.7 599.7,1157.7 600.2,1157.7 600.7,1157.7 601.1,1157.7 601.6,1157.7 602.1,1157.7 602.6,1157.7 603.1,1157.7 603.6,1157.7 604.1,1157.7 604.6,1157.7 605.1,1157.7 605.6,1157.7 606.0,1157.7 606.5,1157.7 607.0,1157.7 607.5,1157.7 608.0,1157.7 608.5,1157.7 609.0,1157.7 609.5,1157.7 610.0,1157.7 610.5,1157.7 610.9,1157.7 611.4,1157.7 611.9,1157.7 612.4,1157.7 612.9,1157.7 613.4,1157.7 613.9,1157.7 614.4,1157.7 614.9,1157.6 615.4,1157.6 615.8,1157.6 616.3,1157.6 616.8,1157.6 617.3,1157.6 617.8,1157.6 618.3,1157.6 618.8,1157.6 619.3,1157.6 619.8,1157.6 620.2,1157.6 620.7,1157.6 621.2,1157.6 621.7,1157.6 622.2,1157.6 622.7,1157.6 623.2,1157.6 623.7,1157.6 624.2,1157.6 624.7,1157.6 625.1,1157.6 625.6,1157.6 626.1,1157.5 626.6,1157.5 627.1,1157.5 627.6,1157.5 628.1,1157.5 628.6,1157.5 629.1,1157.5 629.6,1157.5 630.0,1157.5 630.5,1157.5 631.0,1157.5 631.5,1157.4 632.0,1157.4 632.5,1157.4 633.0,1157.4 633.5,1157.4 634.0,1157.4 634.4,1157.3 634.9,1157.3 635.4,1157.3 635.9,1157.3 636.4,1157.2 636.9,1157.2 637.4,1157.2 637.9,1157.1 638.4,1157.1 638.9,1157.0 639.3,1156.9 639.8,1156.9 640.3,1156.8 640.8,1156.6 641.3,1156.5 641.8,1156.3 642.3,1156.0 642.8,1155.6 643.3,1155.0 643.8,1154.0 644.2,1152.3 644.7,1149.5 645.2,1145.6 645.7,1140.6 646.2,1135.8 646.7,1133.7 647.2,1135.8 647.7,1140.6 648.2,1145.5 648.7,1149.5 649.1,1152.2 649.6,1153.9 650.1,1154.9 650.6,1155.5 651.1,1155.8 651.6,1156.1 652.1,1156.3 652.6,1156.4 653.1,1156.5 653.5,1156.6 654.0,1156.6 654.5,1156.7 655.0,1156.7 655.5,1156.8 656.0,1156.8 656.5,1156.8 657.0,1156.8 657.5,1156.8 658.0,1156.8 658.4,1156.8 658.9,1156.8 659.4,1156.8 659.9,1156.8 660.4,1156.8 660.9,1156.8 661.4,1156.8 661.9,1156.8 662.4,1156.7 662.9,1156.7 663.3,1156.7 663.8,1156.7 664.3,1156.7 664.8,1156.6 665.3,1156.6 665.8,1156.6 666.3,1156.5 666.8,1156.5 667.3,1156.5 667.8,1156.4 668.2,1156.4 668.7,1156.4 669.2,1156.3 669.7,1156.3 670.2,1156.2 670.7,1156.2 671.2,1156.1 671.7,1156.1 672.2,1156.0 672.6,1156.0 673.1,1155.9 673.6,1155.8 674.1,1155.8 674.6,1155.7 675.1,1155.6 675.6,1155.5 676.1,1155.4 676.6,1155.3 677.1,1155.2 677.5,1155.1 678.0,1155.0 678.5,1154.9 679.0,1154.7 679.5,1154.6 680.0,1154.4 680.5,1154.3 681.0,1154.1 681.5,1153.9 682.0,1153.6 682.4,1153.4 682.9,1153.1 683.4,1152.8 683.9,1152.4 684.4,1152.1 684.9,1151.6 685.4,1151.1 685.9,1150.6 686.4,1150.0 686.8,1149.3 687.3,1148.5 687.8,1147.7 688.3,1146.7 688.8,1145.7 689.3,1144.5 689.8,1143.3 690.3,1141.9 690.8,1140.4 691.3,1138.9 691.7,1137.3 692.2,1135.6 692.7,1134.0 693.2,1132.5 693.7,1131.0 694.2,1129.9 694.7,1129.0 695.2,1128.4 695.7,1128.3 696.2,1128.6 696.6,1129.2 697.1,1130.1 697.6,1131.2 698.1,1132.5 698.6,1133.8 699.1,1135.1 699.6,1136.4 700.1,1137.6 700.6,1138.7 701.1,1139.7 701.5,1140.6 702.0,1141.3 702.5,1141.9 703.0,1142.4 703.5,1142.7 704.0,1142.9 704.5,1142.9 705.0,1142.9 705.5,1142.6 705.9,1142.3 706.4,1141.7 706.9,1141.0 707.4,1140.1 707.9,1139.0 708.4,1137.6 708.9,1135.9 709.4,1133.8 709.9,1131.4 710.4,1128.4 710.8,1125.0 711.3,1120.9 711.8,1116.1 712.3,1110.7 712.8,1104.5 713.3,1097.6 713.8,1090.3 714.3,1083.1 714.8,1076.4 715.3,1071.1 715.7,1068.1 716.2,1067.7 716.7,1070.0 717.2,1074.5 717.7,1080.4 718.2,1086.8 718.7,1093.2 719.2,1099.1 719.7,1104.3 720.2,1108.6 720.6,1112.0 721.1,1114.7 721.6,1116.4 722.1,1117.4 722.6,1117.5 723.1,1116.8 723.6,1115.2 724.1,1112.5 724.6,1108.5 725.0,1102.9 725.5,1095.3 726.0,1085.1 726.5,1071.8 727.0,1054.6 727.5,1033.0 728.0,1007.0 728.5,977.7 729.0,948.6 729.5,926.1 729.9,917.7 730.4,926.8 730.9,949.9 731.4,979.7 731.9,1009.7 732.4,1036.5 732.9,1058.8 733.4,1076.9 733.9,1091.1 734.4,1102.3 734.8,1111.1 735.3,1117.9 735.8,1123.4 736.3,1127.7 736.8,1131.3 737.3,1134.2 737.8,1136.7 738.3,1138.7 738.8,1140.5 739.2,1142.1 739.7,1143.4 740.2,1144.5 740.7,1145.6 741.2,1146.5 741.7,1147.3 742.2,1148.0 742.7,1148.6 743.2,1149.2 743.7,1149.7 744.1,1150.2 744.6,1150.6 745.1,1151.0 745.6,1151.4 746.1,1151.7 746.6,1152.0 747.1,1152.3 747.6,1152.5 748.1,1152.7 748.6,1152.9 749.0,1153.1 749.5,1153.3 750.0,1153.5 750.5,1153.6 751.0,1153.8 751.5,1153.9 752.0,1154.0 752.5,1154.1 753.0,1154.2 753.5,1154.3 753.9,1154.4 754.4,1154.5 754.9,1154.5 755.4,1154.6 755.9,1154.6 756.4,1154.6 756.9,1154.7 757.4,1154.7 757.9,1154.7 758.3,1154.7 758.8,1154.7 759.3,1154.6 759.8,1154.6 760.3,1154.5 760.8,1154.5 761.3,1154.4 761.8,1154.3 762.3,1154.1 762.8,1153.9 763.2,1153.7 763.7,1153.4 764.2,1153.1 764.7,1152.7 765.2,1152.2 765.7,1151.6 766.2,1150.9 766.7,1149.9 767.2,1148.6 767.7,1146.8 768.1,1144.0 768.6,1139.7 769.1,1132.6 769.6,1121.2 770.1,1104.1 770.6,1080.9 771.1,1053.5 771.6,1028.4 772.1,1017.7 772.6,1028.5 773.0,1053.5 773.5,1081.0 774.0,1104.3 774.5,1121.4 775.0,1132.9 775.5,1140.0 776.0,1144.4 776.5,1147.2 777.0,1149.1 777.4,1150.4 777.9,1151.4 778.4,1152.3 778.9,1152.9 779.4,1153.5 779.9,1153.9 780.4,1154.3 780.9,1154.6 781.4,1154.9 781.9,1155.1 782.3,1155.3 782.8,1155.5 783.3,1155.7 783.8,1155.8 784.3,1155.9 784.8,1156.1 785.3,1156.2 785.8,1156.2 786.3,1156.3 786.8,1156.4 787.2,1156.5 787.7,1156.5 788.2,1156.6 788.7,1156.7 789.2,1156.7 789.7,1156.8 790.2,1156.8 790.7,1156.8 791.2,1156.9 791.6,1156.9 792.1,1156.9 792.6,1157.0 793.1,1157.0 793.6,1157.0 794.1,1157.1 794.6,1157.1 795.1,1157.1 795.6,1157.1 796.1,1157.2 796.5,1157.2 797.0,1157.2 797.5,1157.2 798.0,1157.2 798.5,1157.3 799.0,1157.3 799.5,1157.3 800.0,1157.3 800.5,1157.3 801.0,1157.3 801.4,1157.3 801.9,1157.4 802.4,1157.4 802.9,1157.4 803.4,1157.4 803.9,1157.4 804.4,1157.4 804.9,1157.4 805.4,1157.4 805.9,1157.4 806.3,1157.4 806.8,1157.5 807.3,1157.5 807.8,1157.5 808.3,1157.5 808.8,1157.5 809.3,1157.5 809.8,1157.5 810.3,1157.5 810.7,1157.5 811.2,1157.5 811.7,1157.5 812.2,1157.5 812.7,1157.5 813.2,1157.5 813.7,1157.5 814.2,1157.6 814.7,1157.6 815.2,1157.6 815.6,1157.6 816.1,1157.6 816.6,1157.6 817.1,1157.6 817.6,1157.6 818.1,1157.6 818.6,1157.6 819.1,1157.6 819.6,1157.6 820.1,1157.6 820.5,1157.6 821.0,1157.6 821.5,1157.6 822.0,1157.6 822.5,1157.6 823.0,1157.6 823.5,1157.6 824.0,1157.6 824.5,1157.6 825.0,1157.6 825.4,1157.6 825.9,1157.6 826.4,1157.6 826.9,1157.6 827.4,1157.6 827.9,1157.6 828.4,1157.6 828.9,1157.6 829.4,1157.6 829.8,1157.7 830.3,1157.7 830.8,1157.7 831.3,1157.7 831.8,1157.7 832.3,1157.7 832.8,1157.7 833.3,1157.7 833.8,1157.7 834.3,1157.7 834.7,1157.7 835.2,1157.7 835.7,1157.7 836.2,1157.7 836.7,1157.7 837.2,1157.7 837.7,1157.7 838.2,1157.7 838.7,1157.7 839.2,1157.7 839.6,1157.7 840.1,1157.7 840.6,1157.7 841.1,1157.7 841.6,1157.7 842.1,1157.7 842.6,1157.7 843.1,1157.7 843.6,1157.7 844.0,1157.7 844.5,1157.7 845.0,1157.7 845.5,1157.7 846.0,1157.7 846.5,1157.7 847.0,1157.7 847.5,1157.7 848.0,1157.7 848.5,1157.7 848.9,1157.7 849.4,1157.7 849.9,1157.7 850.4,1157.7 850.9,1157.7 851.4,1157.7 851.9,1157.7 852.4,1157.7 852.9,1157.7 853.4,1157.7 853.8,1157.7 854.3,1157.7 854.8,1157.6 855.3,1157.6 855.8,1157.6 856.3,1157.6 856.8,1157.6 857.3,1157.6 857.8,1157.6 858.3,1157.6 858.7,1157.6 859.2,1157.6 859.7,1157.6 860.2,1157.6 860.7,1157.6 861.2,1157.6 861.7,1157.6 862.2,1157.6 862.7,1157.6 863.1,1157.6 863.6,1157.6 864.1,1157.6 864.6,1157.6 865.1,1157.6 865.6,1157.6 866.1,1157.6 866.6,1157.6 867.1,1157.6 867.6,1157.6 868.0,1157.6 868.5,1157.6 869.0,1157.6 869.5,1157.6 870.0,1157.6 870.5,1157.6 871.0,1157.6 871.5,1157.6 872.0,1157.6 872.5,1157.5 872.9,1157.5 873.4,1157.5 873.9,1157.5 874.4,1157.5 874.9,1157.5 875.4,1157.5 875.9,1157.5 876.4,1157.5 876.9,1157.5 877.4,1157.5 877.8,1157.5 878.3,1157.5 878.8,1157.5 879.3,1157.5 879.8,1157.5 880.3,1157.5 880.8,1157.5 881.3,1157.5 881.8,1157.4 882.2,1157.4 882.7,1157.4 883.2,1157.4 883.7,1157.4 884.2,1157.4 884.7,1157.4 885.2,1157.4 885.7,1157.4 886.2,1157.4 886.7,1157.4 887.1,1157.4 887.6,1157.4 888.1,1157.4 888.6,1157.3 889.1,1157.3 889.6,1157.3 890.1,1157.3 890.6,1157.3 891.1,1157.3 891.6,1157.3 892.0,1157.3 892.5,1157.3 893.0,1157.3 893.5,1157.3 894.0,1157.2 894.5,1157.2 895.0,1157.2 895.5,1157.2 896.0,1157.2 896.4,1157.2 896.9,1157.2 897.4,1157.2 897.9,1157.1 898.4,1157.1 898.9,1157.1 899.4,1157.1 899.9,1157.1 900.4,1157.1 900.9,1157.1 901.3,1157.0 901.8,1157.0 902.3,1157.0 902.8,1157.0 903.3,1157.0 903.8,1157.0 904.3,1157.0 904.8,1156.9 905.3,1156.9 905.8,1156.9 906.2,1156.9 906.7,1156.9 907.2,1156.8 907.7,1156.8 908.2,1156.8 908.7,1156.8 909.2,1156.8 909.7,1156.7 910.2,1156.7 910.7,1156.7 911.1,1156.7 911.6,1156.6 912.1,1156.6 912.6,1156.6 913.1,1156.6 913.6,1156.5 914.1,1156.5 914.6,1156.5 915.1,1156.4 915.5,1156.4 916.0,1156.4 916.5,1156.3 917.0,1156.3 917.5,1156.3 918.0,1156.2 918.5,1156.2 919.0,1156.2 919.5,1156.1 920.0,1156.1 920.4,1156.0 920.9,1156.0 921.4,1155.9 921.9,1155.9 922.4,1155.9 922.9,1155.8 923.4,1155.8 923.9,1155.7 924.4,1155.6 924.9,1155.6 925.3,1155.5 925.8,1155.5 926.3,1155.4 926.8,1155.3 927.3,1155.3 927.8,1155.2 928.3,1155.1 928.8,1155.1 929.3,1155.0 929.8,1154.9 930.2,1154.8 930.7,1154.7 931.2,1154.6 931.7,1154.5 932.2,1154.4 932.7,1154.3 933.2,1154.2 933.7,1154.1 934.2,1154.0 934.6,1153.9 935.1,1153.7 935.6,1153.6 936.1,1153.5 936.6,1153.3 937.1,1153.2 937.6,1153.0 938.1,1152.8 938.6,1152.7 939.1,1152.5 939.5,1152.3 940.0,1152.1 940.5,1151.8 941.0,1151.6 941.5,1151.4 942.0,1151.1 942.5,1150.8 943.0,1150.5 943.5,1150.2 944.0,1149.9 944.4,1149.5 944.9,1149.2 945.4,1148.7 945.9,1148.3 946.4,1147.8 946.9,1147.2 947.4,1146.6 947.9,1145.9 948.4,1145.2 948.9,1144.3 949.3,1143.4 949.8,1142.3 950.3,1141.1 950.8,1139.8 951.3,1138.2 951.8,1136.5 952.3,1134.5 952.8,1132.2 953.3,1129.7 953.7,1126.9 954.2,1123.7 954.7,1120.1 955.2,1116.1 955.7,1111.7 956.2,1106.9 956.7,1101.5 957.2,1095.8 957.7,1089.5 958.2,1082.7 958.6,1075.5 959.1,1067.9 959.6,1059.9 960.1,1051.5 960.6,1042.9 961.1,1034.1 961.6,1025.2 962.1,1016.4 962.6,1007.8 963.1,999.6 963.5,991.9 964.0,985.1 964.5,979.3 965.0,974.8 965.5,971.6 966.0,970.0 966.5,970.0 967.0,971.6 967.5,974.8 967.9,979.3 968.4,985.1 968.9,991.9 969.4,999.6 969.9,1007.8 970.4,1016.4 970.9,1025.2 971.4,1034.1 971.9,1042.9 972.4,1051.5 972.8,1059.9 973.3,1067.9 973.8,1075.5 974.3,1082.7 974.8,1089.5 975.3,1095.7 975.8,1101.5 976.3,1106.8 976.8,1111.7 977.3,1116.1 977.7,1120.1 978.2,1123.6 978.7,1126.8 979.2,1129.7 979.7,1132.2 980.2,1134.5 980.7,1136.4 981.2,1138.2 981.7,1139.7 982.2,1141.1 982.6,1142.3 983.1,1143.4 983.6,1144.3 984.1,1145.2 984.6,1145.9 985.1,1146.6 985.6,1147.2 986.1,1147.7 986.6,1148.2 987.0,1148.7 987.5,1149.1 988.0,1149.5 988.5,1149.9 989.0,1150.2 989.5,1150.5 990.0,1150.8 990.5,1151.1 991.0,1151.3 991.5,1151.6 991.9,1151.8 992.4,1152.0 992.9,1152.2 993.4,1152.4 993.9,1152.6 994.4,1152.8 994.9,1153.0 995.4,1153.1 995.9,1153.3 996.4,1153.4 996.8,1153.6 997.3,1153.7 997.8,1153.8 998.3,1153.9 998.8,1154.1 999.3,1154.2 999.8,1154.3 1000.3,1154.4 1000.8,1154.5 1001.3,1154.6 1001.7,1154.7 1002.2,1154.7 1002.7,1154.8 1003.2,1154.9 1003.7,1155.0 1004.2,1155.1 1004.7,1155.1 1005.2,1155.2 1005.7,1155.3 1006.1,1155.3 1006.6,1155.4 1007.1,1155.5 1007.6,1155.5 1008.1,1155.6 1008.6,1155.6 1009.1,1155.7 1009.6,1155.7 1010.1,1155.8 1010.6,1155.8 1011.0,1155.9 1011.5,1155.9 1012.0,1155.9 1012.5,1156.0 1013.0,1156.0 1013.5,1156.1 1014.0,1156.1 1014.5,1156.1 1015.0,1156.2 1015.5,1156.2 1015.9,1156.2 1016.4,1156.3 1016.9,1156.3 1017.4,1156.3 1017.9,1156.4 1018.4,1156.4 1018.9,1156.4 1019.4,1156.4 1019.9,1156.5 1020.3,1156.5 1020.8,1156.5 1021.3,1156.5 1021.8,1156.6 1022.3,1156.6 1022.8,1156.6 1023.3,1156.6 1023.8,1156.6 1024.3,1156.7 1024.8,1156.7 1025.2,1156.7 1025.7,1156.7 1026.2,1156.7 1026.7,1156.7 1027.2,1156.8 1027.7,1156.8 1028.2,1156.8 1028.7,1156.8 1029.2,1156.8 1029.7,1156.8 1030.1,1156.8 1030.6,1156.8 1031.1,1156.9 1031.6,1156.9 1032.1,1156.9 1032.6,1156.9 1033.1,1156.9 1033.6,1156.9 1034.1,1156.9 1034.6,1156.9 1035.0,1156.9 1035.5,1156.9 1036.0,1156.9 1036.5,1157.0 1037.0,1157.0 1037.5,1157.0 1038.0,1157.0 1038.5,1157.0 1039.0,1157.0 1039.4,1157.0 1039.9,1157.0 1040.4,1157.0 1040.9,1157.0 1041.4,1157.0 1041.9,1157.0 1042.4,1157.0 1042.9,1157.0 1043.4,1157.0 1043.9,1157.0 1044.3,1157.0 1044.8,1157.0 1045.3,1157.0 1045.8,1157.0 1046.3,1157.0 1046.8,1157.0 1047.3,1157.0 1047.8,1157.0 1048.3,1157.0 1048.8,1157.0 1049.2,1157.0 1049.7,1157.0 1050.2,1157.0 1050.7,1157.0 1051.2,1157.0 1051.7,1157.0 1052.2,1157.0 1052.7,1157.0 1053.2,1157.0 1053.7,1156.9 1054.1,1156.9 1054.6,1156.9 1055.1,1156.9 1055.6,1156.9 1056.1,1156.9 1056.6,1156.9 1057.1,1156.9 1057.6,1156.8 1058.1,1156.8 1058.5,1156.8 1059.0,1156.8 1059.5,1156.8 1060.0,1156.8 1060.5,1156.7 1061.0,1156.7 1061.5,1156.7 1062.0,1156.7 1062.5,1156.6 1063.0,1156.6 1063.4,1156.6 1063.9,1156.5 1064.4,1156.5 1064.9,1156.5 1065.4,1156.4 1065.9,1156.4 1066.4,1156.3 1066.9,1156.3 1067.4,1156.2 1067.9,1156.2 1068.3,1156.1 1068.8,1156.0 1069.3,1156.0 1069.8,1155.9 1070.3,1155.8 1070.8,1155.7 1071.3,1155.6 1071.8,1155.5 1072.3,1155.4 1072.7,1155.3 1073.2,1155.1 1073.7,1155.0 1074.2,1154.8 1074.7,1154.6 1075.2,1154.4 1075.7,1154.1 1076.2,1153.9 1076.7,1153.6 1077.2,1153.2 1077.6,1152.8 1078.1,1152.4 1078.6,1151.9 1079.1,1151.3 1079.6,1150.6 1080.1,1149.7 1080.6,1148.7 1081.1,1147.3 1081.6,1145.5 1082.1,1143.0 1082.5,1139.3 1083.0,1134.0 1083.5,1126.1 1084.0,1115.1 1084.5,1100.1 1085.0,1080.8 1085.5,1057.8 1086.0,1032.6 1086.5,1008.2 1087.0,989.8 1087.4,982.7 1087.9,989.7 1088.4,1008.0 1088.9,1032.3 1089.4,1057.4 1089.9,1080.3 1090.4,1099.5 1090.9,1114.3 1091.4,1125.3 1091.8,1133.0 1092.3,1138.3 1092.8,1141.8 1093.3,1144.2 1093.8,1145.8 1094.3,1147.0 1094.8,1147.9 1095.3,1148.6 1095.8,1149.2 1096.3,1149.6 1096.7,1149.9 1097.2,1150.1 1097.7,1150.3 1098.2,1150.4 1098.7,1150.4 1099.2,1150.3 1099.7,1150.2 1100.2,1150.0 1100.7,1149.7 1101.2,1149.3 1101.6,1148.9 1102.1,1148.3 1102.6,1147.6 1103.1,1146.8 1103.6,1145.8 1104.1,1144.6 1104.6,1143.3 1105.1,1141.8 1105.6,1140.0 1106.1,1138.1 1106.5,1135.9 1107.0,1133.5 1107.5,1130.9 1108.0,1128.1 1108.5,1125.2 1109.0,1122.3 1109.5,1119.4 1110.0,1116.7 1110.5,1114.4 1110.9,1112.5 1111.4,1111.3 1111.9,1110.9 1112.4,1111.3 1112.9,1112.5 1113.4,1114.3 1113.9,1116.6 1114.4,1119.3 1114.9,1122.2 1115.4,1125.1 1115.8,1128.0 1116.3,1130.7 1116.8,1133.3 1117.3,1135.7 1117.8,1137.8 1118.3,1139.8 1118.8,1141.5 1119.3,1143.0 1119.8,1144.3 1120.3,1145.5 1120.7,1146.4 1121.2,1147.2 1121.7,1147.9 1122.2,1148.5 1122.7,1148.9 1123.2,1149.3 1123.7,1149.5 1124.2,1149.7 1124.7,1149.8 1125.1,1149.9 1125.6,1149.9 1126.1,1149.8 1126.6,1149.6 1127.1,1149.4 1127.6,1149.1 1128.1,1148.6 1128.6,1148.1 1129.1,1147.4 1129.6,1146.6 1130.0,1145.6 1130.5,1144.4 1131.0,1143.0 1131.5,1141.3 1132.0,1139.4 1132.5,1137.1 1133.0,1134.5 1133.5,1131.6 1134.0,1128.3 1134.5,1124.7 1134.9,1120.9 1135.4,1117.0 1135.9,1113.0 1136.4,1109.2 1136.9,1105.7 1137.4,1103.0 1137.9,1101.3 1138.4,1100.7 1138.9,1101.4 1139.4,1103.2 1139.8,1106.0 1140.3,1109.5 1140.8,1113.4 1141.3,1117.5 1141.8,1121.5 1142.3,1125.4 1142.8,1129.1 1143.3,1132.4 1143.8,1135.5 1144.2,1138.2 1144.7,1140.6 1145.2,1142.6 1145.7,1144.4 1146.2,1146.0 1146.7,1147.3 1147.2,1148.5 1147.7,1149.4 1148.2,1150.2 1148.7,1150.9 1149.1,1151.5 1149.6,1152.1 1150.1,1152.5 1150.6,1152.9 1151.1,1153.2 1151.6,1153.6 1152.1,1153.8 1152.6,1154.1 1153.1,1154.3 1153.6,1154.5 1154.0,1154.7 1154.5,1154.9 1155.0,1155.0 1155.5,1155.2 1156.0,1155.3 1156.5,1155.4 1157.0,1155.6 1157.5,1155.7 1158.0,1155.8 1158.5,1155.9 1158.9,1156.0 1159.4,1156.0 1159.9,1156.1 1160.4,1156.2 1160.9,1156.3 1161.4,1156.3 1161.9,1156.4 1162.4,1156.5 1162.9,1156.5 1163.3,1156.6 1163.8,1156.6 1164.3,1156.7 1164.8,1156.7 1165.3,1156.8 1165.8,1156.8 1166.3,1156.8 1166.8,1156.9 1167.3,1156.9 1167.8,1156.9 1168.2,1157.0 1168.7,1157.0 1169.2,1157.0 1169.7,1157.1 1170.2,1157.1 1170.7,1157.1 1171.2,1157.1 1171.7,1157.2 1172.2,1157.2 1172.7,1157.2 1173.1,1157.2 1173.6,1157.3 1174.1,1157.3 1174.6,1157.3 1175.1,1157.3 1175.6,1157.3 1176.1,1157.4 1176.6,1157.4 1177.1,1157.4 1177.5,1157.4 1178.0,1157.4 1178.5,1157.4 1179.0,1157.5 1179.5,1157.5 1180.0,1157.5 1180.5,1157.5 1181.0,1157.5 1181.5,1157.5 1182.0,1157.5 1182.4,1157.5 1182.9,1157.6 1183.4,1157.6 1183.9,1157.6 1184.4,1157.6 1184.9,1157.6 1185.4,1157.6 1185.9,1157.6 1186.4,1157.6 1186.9,1157.6 1187.3,1157.6 1187.8,1157.7 1188.3,1157.7 1188.8,1157.7 1189.3,1157.7 1189.8,1157.7 1190.3,1157.7 1190.8,1157.7 1191.3,1157.7 1191.8,1157.7 1192.2,1157.7 1192.7,1157.7 1193.2,1157.7 1193.7,1157.7 1194.2,1157.7 1194.7,1157.8 1195.2,1157.8 1195.7,1157.8 1196.2,1157.8 1196.6,1157.8 1197.1,1157.8 1197.6,1157.8 1198.1,1157.8 1198.6,1157.8 1199.1,1157.8 1199.6,1157.8 1200.1,1157.8 1200.6,1157.8 1201.1,1157.8 1201.5,1157.8 1202.0,1157.8 1202.5,1157.8 1203.0,1157.8 1203.5,1157.8 1204.0,1157.8 1204.5,1157.9 1205.0,1157.9 1205.5,1157.9 1206.0,1157.9 1206.4,1157.9 1206.9,1157.9 1207.4,1157.9 1207.9,1157.9 1208.4,1157.9 1208.9,1157.9 1209.4,1157.9 1209.9,1157.9 1210.4,1157.9 1210.9,1157.9 1211.3,1157.9 1211.8,1157.9 1212.3,1157.9 1212.8,1157.9 1213.3,1157.9 1213.8,1157.9 1214.3,1157.9 1214.8,1157.9 1215.3,1157.9 1215.7,1157.9 1216.2,1157.9 1216.7,1157.9 1217.2,1157.9 1217.7,1157.9 1218.2,1157.9 1218.7,1157.9 1219.2,1157.9 1219.7,1157.9 1220.2,1157.9 1220.6,1158.0 1221.1,1158.0 1221.6,1158.0 1222.1,1158.0 1222.6,1158.0 1223.1,1158.0 1223.6,1158.0 1224.1,1158.0 1224.6,1158.0 1225.1,1158.0 1225.5,1158.0 1226.0,1158.0 1226.5,1158.0 1227.0,1158.0 1227.5,1158.0 1228.0,1158.0 1228.5,1158.0 1229.0,1158.0 1229.5,1158.0 1229.9,1158.0 1230.4,1158.0 1230.9,1158.0 1231.4,1158.0 1231.9,1158.0 1232.4,1158.0 1232.9,1158.0 1233.4,1158.0 1233.9,1158.0 1234.4,1158.0 1234.8,1158.0 1235.3,1158.0 1235.8,1158.0 1236.3,1158.0 1236.8,1158.0 1237.3,1158.0 1237.8,1158.0 1238.3,1158.0 1238.8,1158.0 1239.3,1158.0 1239.7,1158.0 1240.2,1158.0 1240.7,1158.0 1241.2,1158.0 1241.7,1158.0 1242.2,1158.0 1242.7,1158.0 1243.2,1158.0 1243.7,1158.0 1244.2,1158.0 1244.6,1158.0 1245.1,1158.0 1245.6,1158.0 1246.1,1158.0 1246.6,1158.0 1247.1,1158.0 1247.6,1158.0 1248.1,1158.0 1248.6,1158.0 1249.0,1158.0 1249.5,1158.0 1250.0,1158.0 1250.5,1158.0 1251.0,1158.0 1251.5,1158.0 1252.0,1158.0 1252.5,1158.0 1253.0,1158.0 1253.5,1158.0 1253.9,1158.0 1254.4,1158.0 1254.9,1158.0 1255.4,1158.0 1255.9,1158.0 1256.4,1158.0 1256.9,1158.0 1257.4,1158.0 1257.9,1158.0 1258.4,1158.0 1258.8,1158.0 1259.3,1158.0 1259.8,1158.0 1260.3,1158.0 1260.8,1158.1 1261.3,1158.1 1261.8,1158.1 1262.3,1158.1 1262.8,1158.1 1263.3,1158.1 1263.7,1158.1 1264.2,1158.1 1264.7,1158.1 1265.2,1158.1 1265.7,1158.1 1266.2,1158.1 1266.7,1158.1 1267.2,1158.1 1267.7,1158.1 1268.1,1158.1 1268.6,1158.1 1269.1,1158.1 1269.6,1158.1 1270.1,1158.1 1270.6,1158.1 1271.1,1158.1 1271.6,1158.1 1272.1,1158.1 1272.6,1158.1 1273.0,1158.1 1273.5,1158.1 1274.0,1158.1 1274.5,1158.1 1275.0,1158.1 1275.5,1158.1 1276.0,1158.1 1276.5,1158.1 1277.0,1158.1 1277.5,1158.1 1277.9,1158.0 1278.4,1158.0 1278.9,1158.0 1279.4,1158.0 1279.9,1158.0 1280.4,1158.0 1280.9,1158.0 1281.4,1158.0 1281.9,1158.0 1282.3,1158.0 1282.8,1158.0 1283.3,1158.0 1283.8,1158.0 1284.3,1158.0 1284.8,1158.0 1285.3,1158.0 1285.8,1158.0 1286.3,1158.0 1286.8,1158.0 1287.2,1158.0 1287.7,1158.0 1288.2,1158.0 1288.7,1157.9 1289.2,1157.9 1289.7,1157.9 1290.2,1157.9 1290.7,1157.9 1291.2,1157.8 1291.7,1157.8 1292.1,1157.8 1292.6,1157.8 1293.1,1157.7 1293.6,1157.7 1294.1,1157.6 1294.6,1157.6 1295.1,1157.5 1295.6,1157.5 1296.1,1157.4 1296.6,1157.3 1297.0,1157.2 1297.5,1157.1 1298.0,1157.0 1298.5,1156.9 1299.0,1156.8 1299.5,1156.7 1300.0,1156.5 1300.5,1156.4 1301.0,1156.2 1301.4,1156.0 1301.9,1155.8 1302.4,1155.6 1302.9,1155.4 1303.4,1155.2 1303.9,1154.9 1304.4,1154.7 1304.9,1154.4 1305.4,1154.1 1305.9,1153.8 1306.3,1153.5 1306.8,1153.1 1307.3,1152.7 1307.8,1152.4 1308.3,1152.0 1308.8,1151.6 1309.3,1151.1 1309.8,1150.7 1310.3,1150.2 1310.8,1149.7 1311.2,1149.3 1311.7,1148.8 1312.2,1148.2 1312.7,1147.7 1313.2,1147.2 1313.7,1146.7 1314.2,1146.1 1314.7,1145.6 1315.2,1145.0 1315.7,1144.5 1316.1,1143.9 1316.6,1143.3 1317.1,1142.8 1317.6,1142.2 1318.1,1141.7 1318.6,1141.1 1319.1,1140.6 1319.6,1140.0 1320.1,1139.5 1320.5,1138.9 1321.0,1138.4 1321.5,1137.7 1322.0,1137.1 1322.5,1136.3 1323.0,1135.5 1323.5,1134.5 1324.0,1133.4 1324.5,1132.1 1325.0,1130.7 1325.4,1129.0 1325.9,1127.2 1326.4,1125.3 1326.9,1123.7 1327.4,1122.6 1327.9,1122.0 1328.4,1122.0 1328.9,1122.8 1329.4,1124.3 1329.9,1126.5 1330.3,1129.4 1330.8,1132.6 1331.3,1135.9 1331.8,1139.2 1332.3,1142.3 1332.8,1145.0 1333.3,1147.4 1333.8,1149.4 1334.3,1151.1 1334.7,1152.5 1335.2,1153.6 1335.7,1154.5 1336.2,1155.1 1336.7,1155.6 1337.2,1156.0 1337.7,1156.3 1338.2,1156.6 1338.7,1156.7 1339.2,1156.9 1339.6,1157.0 1340.1,1157.1 1340.6,1157.2 1341.1,1157.3 1341.6,1157.3 1342.1,1157.4 1342.6,1157.4 1343.1,1157.5 1343.6,1157.5 1344.1,1157.6 1344.5,1157.6 1345.0,1157.6 1345.5,1157.7 1346.0,1157.7 1346.5,1157.7 1347.0,1157.7 1347.5,1157.8 1348.0,1157.8 1348.5,1157.8 1349.0,1157.8 1349.4,1157.8 1349.9,1157.8 1350.4,1157.8 1350.9,1157.9 1351.4,1157.9 1351.9,1157.9 1352.4,1157.9 1352.9,1157.9 1353.4,1157.9 1353.8,1157.9 1354.3,1157.9 1354.8,1157.9 1355.3,1157.9 1355.8,1157.9 1356.3,1158.0 1356.8,1158.0 1357.3,1158.0 1357.8,1158.0 1358.3,1158.0 1358.7,1158.0 1359.2,1158.0 1359.7,1158.0 1360.2,1158.0 1360.7,1158.0 1361.2,1158.0 1361.7,1158.0 1362.2,1158.0 1362.7,1158.0 1363.2,1158.0 1363.6,1158.0 1364.1,1158.0 1364.6,1158.0 1365.1,1158.0 1365.6,1158.0 1366.1,1158.0 1366.6,1158.0 1367.1,1158.0 1367.6,1158.0 1368.1,1158.0 1368.5,1158.0 1369.0,1158.0 1369.5,1158.0 1370.0,1158.0 1370.5,1158.0 1371.0,1158.0 1371.5,1158.0 1372.0,1158.1 1372.5,1158.1 1372.9,1158.1 1373.4,1158.1 1373.9,1158.1 1374.4,1158.1 1374.9,1158.1 1375.4,1158.1 1375.9,1158.1 1376.4,1158.1 1376.9,1158.1 1377.4,1158.1 1377.8,1158.1 1378.3,1158.1 1378.8,1158.1 1379.3,1158.1 1379.8,1158.1 1380.3,1158.1 1380.8,1158.1 1381.3,1158.1 1381.8,1158.1 1382.3,1158.1 1382.7,1158.1 1383.2,1158.1 1383.7,1158.1 1384.2,1158.1 1384.7,1158.1 1385.2,1158.1 1385.7,1158.1 1386.2,1158.1 1386.7,1158.1 1387.1,1158.1 1387.6,1158.1 1388.1,1158.1 1388.6,1158.1 1389.1,1158.1 1389.6,1158.1 1390.1,1158.1 1390.6,1158.1 1391.1,1158.1 1391.6,1158.1 1392.0,1158.1 1392.5,1158.1 1393.0,1158.1 1393.5,1158.1 1394.0,1158.1 1394.5,1158.1 1395.0,1158.1 1395.5,1158.1 1396.0,1158.1 1396.5,1158.1 1396.9,1158.1 1397.4,1158.1 1397.9,1158.1 1398.4,1158.1 1398.9,1158.1 1399.4,1158.1 1399.9,1158.1 1400.4,1158.1 1400.9,1158.1 1401.4,1158.1 1401.8,1158.1 1402.3,1158.1 1402.8,1158.1 1403.3,1158.1 1403.8,1158.1 1404.3,1158.1 1404.8,1158.1 1405.3,1158.1 1405.8,1158.1 1406.2,1158.1 1406.7,1158.1 1407.2,1158.1 1407.7,1158.1 1408.2,1158.1 1408.7,1158.0 1409.2,1158.0 1409.7,1158.0 1410.2,1158.0 1410.7,1158.0 1411.1,1158.0 1411.6,1158.0 1412.1,1158.0 1412.6,1158.0 1413.1,1158.0 1413.6,1158.0 1414.1,1158.0 1414.6,1158.0 1415.1,1158.0 1415.6,1158.0 1416.0,1158.0 1416.5,1158.0 1417.0,1158.0 1417.5,1158.0 1418.0,1158.0 1418.5,1158.0 1419.0,1158.0 1419.5,1158.0 1420.0,1158.0 1420.5,1158.0 1420.9,1158.0 1421.4,1158.0 1421.9,1158.0 1422.4,1158.0 1422.9,1158.0 1423.4,1158.0 1423.9,1158.0 1424.4,1158.0 1424.9,1158.0 1425.3,1158.0 1425.8,1158.0 1426.3,1158.0 1426.8,1158.0 1427.3,1158.0 1427.8,1158.0 1428.3,1158.0 1428.8,1158.0 1429.3,1158.0 1429.8,1158.0 1430.2,1158.0 1430.7,1158.0 1431.2,1158.0 1431.7,1158.0 1432.2,1158.0 1432.7,1158.0 1433.2,1158.0 1433.7,1158.0 1434.2,1158.0 1434.7,1158.0 1435.1,1158.0 1435.6,1158.0 1436.1,1157.9 1436.6,1157.9 1437.1,1157.9 1437.6,1157.9 1438.1,1157.9 1438.6,1157.9 1439.1,1157.9 1439.5,1157.9 1440.0,1157.9 1440.5,1157.9 1441.0,1157.9 1441.5,1157.9 1442.0,1157.9 1442.5,1157.9 1443.0,1157.9 1443.5,1157.9 1444.0,1157.9 1444.4,1157.9 1444.9,1157.9 1445.4,1157.9 1445.9,1157.9 1446.4,1157.9 1446.9,1157.9 1447.4,1157.8 1447.9,1157.8 1448.4,1157.8 1448.9,1157.8 1449.3,1157.8 1449.8,1157.8 1450.3,1157.8 1450.8,1157.8 1451.3,1157.8 1451.8,1157.8 1452.3,1157.8 1452.8,1157.8 1453.3,1157.8 1453.8,1157.8 1454.2,1157.7 1454.7,1157.7 1455.2,1157.7 1455.7,1157.7 1456.2,1157.7 1456.7,1157.7 1457.2,1157.7 1457.7,1157.7 1458.2,1157.7 1458.6,1157.6 1459.1,1157.6 1459.6,1157.6 1460.1,1157.6 1460.6,1157.6 1461.1,1157.6 1461.6,1157.5 1462.1,1157.5 1462.6,1157.5 1463.1,1157.5 1463.5,1157.4 1464.0,1157.4 1464.5,1157.4 1465.0,1157.3 1465.5,1157.3 1466.0,1157.3 1466.5,1157.2 1467.0,1157.2 1467.5,1157.1 1468.0,1157.1 1468.4,1157.0 1468.9,1156.9 1469.4,1156.8 1469.9,1156.7 1470.4,1156.6 1470.9,1156.4 1471.4,1156.2 1471.9,1155.9 1472.4,1155.6 1472.9,1155.1 1473.3,1154.6 1473.8,1153.8 1474.3,1153.0 1474.8,1151.9 1475.3,1150.7 1475.8,1149.4 1476.3,1148.1 1476.8,1146.8 1477.3,1145.8 1477.7,1145.2 1478.2,1145.2 1478.7,1145.7 1479.2,1146.7 1479.7,1148.0 1480.2,1149.3 1480.7,1150.5 1481.2,1151.7 1481.7,1152.7 1482.2,1153.5 1482.6,1154.2 1483.1,1154.7 1483.6,1155.1 1484.1,1155.4 1484.6,1155.7 1485.1,1155.8 1485.6,1156.0 1486.1,1156.0 1486.6,1156.1 1487.1,1156.1 1487.5,1156.2 1488.0,1156.2 1488.5,1156.2 1489.0,1156.2 1489.5,1156.2 1490.0,1156.2 1490.5,1156.1 1491.0,1156.1 1491.5,1156.1 1491.9,1156.0 1492.4,1156.0 1492.9,1155.9 1493.4,1155.9 1493.9,1155.8 1494.4,1155.8 1494.9,1155.7 1495.4,1155.6 1495.9,1155.5 1496.4,1155.4 1496.8,1155.4 1497.3,1155.3 1497.8,1155.1 1498.3,1155.0 1498.8,1154.9 1499.3,1154.8 1499.8,1154.6 1500.3,1154.4 1500.8,1154.3 1501.3,1154.1 1501.7,1153.9 1502.2,1153.7 1502.7,1153.4 1503.2,1153.2 1503.7,1152.9 1504.2,1152.6 1504.7,1152.3 1505.2,1151.9 1505.7,1151.5 1506.2,1151.1 1506.6,1150.6 1507.1,1150.1 1507.6,1149.5 1508.1,1148.9 1508.6,1148.2 1509.1,1147.3 1509.6,1146.4 1510.1,1145.4 1510.6,1144.2 1511.0,1142.9 1511.5,1141.3 1512.0,1139.5 1512.5,1137.4 1513.0,1134.9 1513.5,1131.9 1514.0,1128.0 1514.5,1123.1 1515.0,1116.6 1515.5,1107.7 1515.9,1095.4 1516.4,1078.6 1516.9,1055.9 1517.4,1026.0 1517.9,988.1 1518.4,941.9 1518.9,888.9 1519.4,832.6 1519.9,779.6 1520.4,740.4 1520.8,725.7 1521.3,740.4 1521.8,779.6 1522.3,832.6 1522.8,888.9 1523.3,941.9 1523.8,988.1 1524.3,1026.0 1524.8,1055.9 1525.3,1078.7 1525.7,1095.5 1526.2,1107.7 1526.7,1116.6 1527.2,1123.1 1527.7,1128.1 1528.2,1131.9 1528.7,1134.9 1529.2,1137.4 1529.7,1139.6 1530.1,1141.3 1530.6,1142.9 1531.1,1144.2 1531.6,1145.4 1532.1,1146.5 1532.6,1147.4 1533.1,1148.2 1533.6,1148.9 1534.1,1149.6 1534.6,1150.1 1535.0,1150.7 1535.5,1151.1 1536.0,1151.6 1536.5,1152.0 1537.0,1152.3 1537.5,1152.7 1538.0,1153.0 1538.5,1153.2 1539.0,1153.5 1539.5,1153.7 1539.9,1154.0 1540.4,1154.2 1540.9,1154.4 1541.4,1154.5 1541.9,1154.7 1542.4,1154.8 1542.9,1155.0 1543.4,1155.1 1543.9,1155.2 1544.3,1155.4 1544.8,1155.5 1545.3,1155.6 1545.8,1155.7 1546.3,1155.8 1546.8,1155.9 1547.3,1155.9 1547.8,1156.0 1548.3,1156.1 1548.8,1156.2 1549.2,1156.2 1549.7,1156.3 1550.2,1156.4 1550.7,1156.4 1551.2,1156.5 1551.7,1156.5 1552.2,1156.6 1552.7,1156.6 1553.2,1156.7 1553.7,1156.7 1554.1,1156.7 1554.6,1156.8 1555.1,1156.8 1555.6,1156.9 1556.1,1156.9 1556.6,1156.9 1557.1,1156.9 1557.6,1157.0 1558.1,1157.0 1558.6,1157.0 1559.0,1157.1 1559.5,1157.1 1560.0,1157.1 1560.5,1157.1 1561.0,1157.2 1561.5,1157.2 1562.0,1157.2 1562.5,1157.2 1563.0,1157.2 1563.4,1157.3 1563.9,1157.3 1564.4,1157.3 1564.9,1157.3 1565.4,1157.3 1565.9,1157.3 1566.4,1157.4 1566.9,1157.4 1567.4,1157.4 1567.9,1157.4 1568.3,1157.4 1568.8,1157.4 1569.3,1157.4 1569.8,1157.4 1570.3,1157.4 1570.8,1157.5 1571.3,1157.5 1571.8,1157.5 1572.3,1157.5 1572.8,1157.5 1573.2,1157.5 1573.7,1157.5 1574.2,1157.5 1574.7,1157.5 1575.2,1157.5 1575.7,1157.5 1576.2,1157.5 1576.7,1157.6 1577.2,1157.6 1577.7,1157.6 1578.1,1157.6 1578.6,1157.6 1579.1,1157.6 1579.6,1157.6 1580.1,1157.6 1580.6,1157.6 1581.1,1157.6 1581.6,1157.6 1582.1,1157.6 1582.5,1157.6 1583.0,1157.6 1583.5,1157.6 1584.0,1157.6 1584.5,1157.6 1585.0,1157.6 1585.5,1157.6 1586.0,1157.6 1586.5,1157.6 1587.0,1157.6 1587.4,1157.6 1587.9,1157.6 1588.4,1157.6 1588.9,1157.6 1589.4,1157.6 1589.9,1157.6 1590.4,1157.6 1590.9,1157.6 1591.4,1157.6 1591.9,1157.6 1592.3,1157.6 1592.8,1157.6 1593.3,1157.6 1593.8,1157.6 1594.3,1157.5 1594.8,1157.5 1595.3,1157.5 1595.8,1157.5 1596.3,1157.5 1596.7,1157.5 1597.2,1157.5 1597.7,1157.5 1598.2,1157.5 1598.7,1157.5 1599.2,1157.4 1599.7,1157.4 1600.2,1157.4 1600.7,1157.4 1601.2,1157.4 1601.6,1157.4 1602.1,1157.4 1602.6,1157.3 1603.1,1157.3 1603.6,1157.3 1604.1,1157.3 1604.6,1157.2 1605.1,1157.2 1605.6,1157.2 1606.1,1157.2 1606.5,1157.1 1607.0,1157.1 1607.5,1157.1 1608.0,1157.0 1608.5,1157.0 1609.0,1156.9 1609.5,1156.9 1610.0,1156.8 1610.5,1156.8 1611.0,1156.7 1611.4,1156.6 1611.9,1156.6 1612.4,1156.5 1612.9,1156.4 1613.4,1156.3 1613.9,1156.2 1614.4,1156.0 1614.9,1155.9 1615.4,1155.7 1615.8,1155.5 1616.3,1155.3 1616.8,1155.1 1617.3,1154.8 1617.8,1154.5 1618.3,1154.2 1618.8,1153.8 1619.3,1153.4 1619.8,1153.0 1620.3,1152.5 1620.7,1152.0 1621.2,1151.4 1621.7,1150.8 1622.2,1150.1 1622.7,1149.4 1623.2,1148.7 1623.7,1147.9 1624.2,1147.1 1624.7,1146.3 1625.2,1145.4 1625.6,1144.6 1626.1,1143.8 1626.6,1143.0 1627.1,1142.3 1627.6,1141.6 1628.1,1141.0 1628.6,1140.6 1629.1,1140.3 1629.6,1140.1 1630.1,1140.1 1630.5,1140.3 1631.0,1140.6 1631.5,1141.0 1632.0,1141.6 1632.5,1142.2 1633.0,1143.0 1633.5,1143.7 1634.0,1144.6 1634.5,1145.4 1634.9,1146.2 1635.4,1147.0 1635.9,1147.8 1636.4,1148.6 1636.9,1149.3 1637.4,1150.0 1637.9,1150.7 1638.4,1151.3 1638.9,1151.8 1639.4,1152.3 1639.8,1152.8 1640.3,1153.2 1640.8,1153.6 1641.3,1154.0 1641.8,1154.3 1642.3,1154.5 1642.8,1154.8 1643.3,1155.0 1643.8,1155.2 1644.3,1155.3 1644.7,1155.4 1645.2,1155.5 1645.7,1155.6 1646.2,1155.7 1646.7,1155.7 1647.2,1155.7 1647.7,1155.7 1648.2,1155.7 1648.7,1155.6 1649.1,1155.5 1649.6,1155.4 1650.1,1155.2 1650.6,1154.9 1651.1,1154.6 1651.6,1154.1 1652.1,1153.4 1652.6,1152.2 1653.1,1150.3 1653.6,1147.0 1654.0,1141.7 1654.5,1134.0 1655.0,1124.4 1655.5,1115.2 1656.0,1111.0 1656.5,1114.9 1657.0,1123.8 1657.5,1133.0 1658.0,1140.1 1658.5,1144.4 1658.9,1146.1 1659.4,1145.5 1659.9,1143.0 1660.4,1139.0 1660.9,1134.9 1661.4,1133.0 1661.9,1135.1 1662.4,1139.9 1662.9,1144.9 1663.4,1148.9 1663.8,1151.7 1664.3,1153.5 1664.8,1154.6 1665.3,1155.3 1665.8,1155.8 1666.3,1156.1 1666.8,1156.3 1667.3,1156.5 1667.8,1156.7 1668.2,1156.8 1668.7,1156.9 1669.2,1157.0 1669.7,1157.1 1670.2,1157.1 1670.7,1157.2 1671.2,1157.3 1671.7,1157.3 1672.2,1157.3 1672.7,1157.4 1673.1,1157.4 1673.6,1157.4 1674.1,1157.4 1674.6,1157.5 1675.1,1157.5 1675.6,1157.5 1676.1,1157.5 1676.6,1157.5 1677.1,1157.5 1677.6,1157.5 1678.0,1157.4 1678.5,1157.4 1679.0,1157.4 1679.5,1157.3 1680.0,1157.2 1680.5,1157.1 1681.0,1156.9 1681.5,1156.6 1682.0,1156.2 1682.5,1155.3 1682.9,1154.0 1683.4,1152.0 1683.9,1149.6 1684.4,1147.2 1684.9,1146.2 1685.4,1147.3 1685.9,1149.6 1686.4,1152.1 1686.9,1154.0 1687.3,1155.4 1687.8,1156.2 1688.3,1156.8 1688.8,1157.1 1689.3,1157.3 1689.8,1157.4 1690.3,1157.5 1690.8,1157.6 1691.3,1157.6 1691.8,1157.7 1692.2,1157.7 1692.7,1157.8 1693.2,1157.8 1693.7,1157.8 1694.2,1157.8 1694.7,1157.9 1695.2,1157.9 1695.7,1157.9 1696.2,1157.9 1696.7,1157.9 1697.1,1157.9 1697.6,1157.9 1698.1,1158.0 1698.6,1158.0 1699.1,1158.0 1699.6,1158.0 1700.1,1158.0 1700.6,1158.0 1701.1,1158.0 1701.5,1158.0 1702.0,1158.0 1702.5,1158.0 1703.0,1158.0 1703.5,1158.0 1704.0,1158.0 1704.5,1158.0 1705.0,1158.0 1705.5,1158.0 1706.0,1158.0 1706.4,1158.0 1706.9,1158.1 1707.4,1158.1 1707.9,1158.1 1708.4,1158.1 1708.9,1158.1 1709.4,1158.1 1709.9,1158.1 1710.4,1158.1 1710.9,1158.1 1711.3,1158.1 1711.8,1158.1 1712.3,1158.1 1712.8,1158.1 1713.3,1158.1 1713.8,1158.1 1714.3,1158.1 1714.8,1158.1 1715.3,1158.1 1715.8,1158.1 1716.2,1158.1 1716.7,1158.1 1717.2,1158.1 1717.7,1158.1 1718.2,1158.1 1718.7,1158.1 1719.2,1158.1 1719.7,1158.1 1720.2,1158.1 1720.6,1158.1 1721.1,1158.1 1721.6,1158.1 1722.1,1158.1 1722.6,1158.1 1723.1,1158.1 1723.6,1158.1 1724.1,1158.1 1724.6,1158.1 1725.1,1158.1 1725.5,1158.1 1726.0,1158.1 1726.5,1158.1 1727.0,1158.1 1727.5,1158.1 1728.0,1158.1 1728.5,1158.1 1729.0,1158.1 1729.5,1158.1 1730.0,1158.1 1730.4,1158.1 1730.9,1158.1 1731.4,1158.1 1731.9,1158.1 1732.4,1158.1 1732.9,1158.1 1733.4,1158.1 1733.9,1158.1 1734.4,1158.1 1734.9,1158.1 1735.3,1158.1 1735.8,1158.1 1736.3,1158.1 1736.8,1158.1 1737.3,1158.1 1737.8,1158.1 1738.3,1158.1 1738.8,1158.1 1739.3,1158.1 1739.7,1158.1 1740.2,1158.1 1740.7,1158.1 1741.2,1158.1 1741.7,1158.1 1742.2,1158.1 1742.7,1158.1 1743.2,1158.1 1743.7,1158.1 1744.2,1158.2 1744.6,1158.2 1745.1,1158.2 1745.6,1158.2 1746.1,1158.2 1746.6,1158.2 1747.1,1158.2 1747.6,1158.2 1748.1,1158.2 1748.6,1158.2 1749.1,1158.2 1749.5,1158.2 1750.0,1158.2 1750.5,1158.2 1751.0,1158.2 1751.5,1158.2 1752.0,1158.2 1752.5,1158.2 1753.0,1158.2 1753.5,1158.2 1753.9,1158.2 1754.4,1158.2 1754.9,1158.2 1755.4,1158.2 1755.9,1158.2 1756.4,1158.2 1756.9,1158.2 1757.4,1158.2 1757.9,1158.2 1758.4,1158.2 1758.8,1158.2 1759.3,1158.2 1759.8,1158.2 1760.3,1158.1 1760.8,1158.1 1761.3,1158.1 1761.8,1158.1 1762.3,1158.1 1762.8,1158.1 1763.3,1158.1 1763.7,1158.1 1764.2,1158.1 1764.7,1158.1 1765.2,1158.1 1765.7,1158.1 1766.2,1158.1 1766.7,1158.1 1767.2,1158.1 1767.7,1158.1 1768.2,1158.1 1768.6,1158.1 1769.1,1158.1 1769.6,1158.1 1770.1,1158.1 1770.6,1158.1 1771.1,1158.1 1771.6,1158.1 1772.1,1158.1 1772.6,1158.1 1773.0,1158.1 1773.5,1158.1 1774.0,1158.1 1774.5,1158.1 1775.0,1158.1 1775.5,1158.1 1776.0,1158.1 1776.5,1158.1 1777.0,1158.1 1777.5,1158.1 1777.9,1158.1 1778.4,1158.1 1778.9,1158.1 1779.4,1158.1 1779.9,1158.1 1780.4,1158.1 1780.9,1158.1 1781.4,1158.1 1781.9,1158.1 1782.4,1158.1 1782.8,1158.0 1783.3,1158.0 1783.8,1158.0 1784.3,1158.0 1784.8,1158.0 1785.3,1158.0 1785.8,1158.0 1786.3,1158.0 1786.8,1158.0 1787.3,1158.0 1787.7,1157.9 1788.2,1157.9 1788.7,1157.9 1789.2,1157.9 1789.7,1157.9 1790.2,1157.9 1790.7,1157.8 1791.2,1157.8 1791.7,1157.8 1792.1,1157.8 1792.6,1157.7 1793.1,1157.7 1793.6,1157.6 1794.1,1157.6 1794.6,1157.5 1795.1,1157.5 1795.6,1157.4 1796.1,1157.3 1796.6,1157.2 1797.0,1157.1 1797.5,1157.0 1798.0,1156.8 1798.5,1156.6 1799.0,1156.4 1799.5,1156.0 1800.0,1155.6 1800.5,1155.0 1801.0,1154.1 1801.5,1152.7 1801.9,1150.6 1802.4,1147.6 1802.9,1143.5 1803.4,1138.6 1803.9,1133.2 1804.4,1128.6 1804.9,1126.7 1805.4,1128.4 1805.9,1132.7 1806.3,1137.7 1806.8,1142.2 1807.3,1145.6 1807.8,1147.7 1808.3,1148.4 1808.8,1148.0 1809.3,1146.5 1809.8,1144.5 1810.3,1142.4 1810.8,1141.3 1811.2,1141.9 1811.7,1144.0 1812.2,1146.7 1812.7,1149.4 1813.2,1151.7 1813.7,1153.4 1814.2,1154.6 1814.7,1155.5 1815.2,1156.1 1815.7,1156.4 1816.1,1156.7 1816.6,1156.9 1817.1,1157.1 1817.6,1157.2 1818.1,1157.3 1818.6,1157.4 1819.1,1157.5 1819.6,1157.5 1820.1,1157.6 1820.6,1157.7 1821.0,1157.7 1821.5,1157.7 1822.0,1157.8 1822.5,1157.8 1823.0,1157.8 1823.5,1157.9 1824.0,1157.9 1824.5,1157.9 1825.0,1157.9 1825.4,1157.9 1825.9,1158.0 1826.4,1158.0 1826.9,1158.0 1827.4,1158.0 1827.9,1158.0 1828.4,1158.0 1828.9,1158.0 1829.4,1158.0 1829.9,1158.0 1830.3,1158.1 1830.8,1158.1 1831.3,1158.1 1831.8,1158.1 1832.3,1158.1 1832.8,1158.1 1833.3,1158.1 1833.8,1158.1 1834.3,1158.1 1834.8,1158.1 1835.2,1158.1 1835.7,1158.1 1836.2,1158.1 1836.7,1158.1 1837.2,1158.1 1837.7,1158.1 1838.2,1158.1 1838.7,1158.1 1839.2,1158.1 1839.7,1158.1 1840.1,1158.1 1840.6,1158.2 1841.1,1158.2 1841.6,1158.2 1842.1,1158.2 1842.6,1158.2 1843.1,1158.2 1843.6,1158.2 1844.1,1158.2 1844.5,1158.2 1845.0,1158.2 1845.5,1158.2 1846.0,1158.2 1846.5,1158.2 1847.0,1158.2 1847.5,1158.2 1848.0,1158.2 1848.5,1158.2 1849.0,1158.2 1849.4,1158.2 1849.9,1158.2 1850.4,1158.2 1850.9,1158.2 1851.4,1158.2 1851.9,1158.2 1852.4,1158.2 1852.9,1158.2 1853.4,1158.2 1853.9,1158.2 1854.3,1158.2 1854.8,1158.2 1855.3,1158.2 1855.8,1158.2 1856.3,1158.2 1856.8,1158.2 1857.3,1158.2 1857.8,1158.2 1858.3,1158.2 1858.7,1158.2 1859.2,1158.2 1859.7,1158.2 1860.2,1158.2 1860.7,1158.2 1861.2,1158.2 1861.7,1158.2 1862.2,1158.2 1862.7,1158.2 1863.2,1158.2 1863.6,1158.2 1864.1,1158.2 1864.6,1158.2 1865.1,1158.2 1865.6,1158.2 1866.1,1158.2 1866.6,1158.2 1867.1,1158.2 1867.6,1158.2 1868.1,1158.2 1868.5,1158.2 1869.0,1158.2 1869.5,1158.2 1870.0,1158.2 1870.5,1158.2 1871.0,1158.2 1871.5,1158.2 1872.0,1158.2 1872.5,1158.2 1873.0,1158.2 1873.4,1158.2 1873.9,1158.2 1874.4,1158.2 1874.9,1158.2 1875.4,1158.2 1875.9,1158.2 1876.4,1158.2 1876.9,1158.2 1877.4,1158.2 1877.8,1158.2 1878.3,1158.2 1878.8,1158.2 1879.3,1158.2 1879.8,1158.2 1880.3,1158.2 1880.8,1158.2 1881.3,1158.2 1881.8,1158.2 1882.3,1158.2 1882.7,1158.2 1883.2,1158.2 1883.7,1158.2 1884.2,1158.2 1884.7,1158.2 1885.2,1158.2 1885.7,1158.2 1886.2,1158.2 1886.7,1158.2 1887.2,1158.2 1887.6,1158.2 1888.1,1158.2 1888.6,1158.2 1889.1,1158.2 1889.6,1158.2 1890.1,1158.2 1890.6,1158.2 1891.1,1158.2 1891.6,1158.2 1892.1,1158.2 1892.5,1158.2 1893.0,1158.2 1893.5,1158.2 1894.0,1158.2 1894.5,1158.2 1895.0,1158.2 1895.5,1158.2 1896.0,1158.2 1896.5,1158.2 1896.9,1158.2 1897.4,1158.2 1897.9,1158.2 1898.4,1158.2 1898.9,1158.2 1899.4,1158.2 1899.9,1158.2 1900.4,1158.2 1900.9,1158.2 1901.4,1158.2 1901.8,1158.2 1902.3,1158.2 1902.8,1158.2 1903.3,1158.2 1903.8,1158.2 1904.3,1158.2 1904.8,1158.2 1905.3,1158.2 1905.8,1158.2 1906.3,1158.2 1906.7,1158.2 1907.2,1158.2 1907.7,1158.2 1908.2,1158.2 1908.7,1158.2 1909.2,1158.2 1909.7,1158.2 1910.2,1158.2 1910.7,1158.2 1911.1,1158.2 1911.6,1158.2 1912.1,1158.2 1912.6,1158.2 1913.1,1158.2 1913.6,1158.2 1914.1,1158.2 1914.6,1158.2 1915.1,1158.2 1915.6,1158.2 1916.0,1158.2 1916.5,1158.2 1917.0,1158.2 1917.5,1158.2 1918.0,1158.2 1918.5,1158.2 1919.0,1158.2 1919.5,1158.2 1920.0,1158.2 1920.5,1158.2 1920.9,1158.2 1921.4,1158.2 1921.9,1158.2 1922.4,1158.2 1922.9,1158.2 1923.4,1158.2 1923.9,1158.2 1924.4,1158.2 1924.9,1158.2 1925.4,1158.2 1925.8,1158.2 1926.3,1158.2 1926.8,1158.2 1927.3,1158.2 1927.8,1158.2 1928.3,1158.2 1928.8,1158.2 1929.3,1158.2 1929.8,1158.2 1930.2,1158.2 1930.7,1158.2 1931.2,1158.2 1931.7,1158.2 1932.2,1158.2 1932.7,1158.2 1933.2,1158.2 1933.7,1158.2 1934.2,1158.2 1934.7,1158.2 1935.1,1158.2 1935.6,1158.2 1936.1,1158.2 1936.6,1158.2 1937.1,1158.2 1937.6,1158.2 1938.1,1158.2 1938.6,1158.2 1939.1,1158.2 1939.6,1158.2 1940.0,1158.2 1940.5,1158.2 1941.0,1158.2 1941.5,1158.2 1942.0,1158.2 1942.5,1158.2 1943.0,1158.2 1943.5,1158.2 1944.0,1158.2 1944.5,1158.2 1944.9,1158.2 1945.4,1158.2 1945.9,1158.2 1946.4,1158.2 1946.9,1158.2 1947.4,1158.2 1947.9,1158.2 1948.4,1158.2 1948.9,1158.2 1949.3,1158.2 1949.8,1158.2 1950.3,1158.2 1950.8,1158.2 1951.3,1158.2 1951.8,1158.2 1952.3,1158.2 1952.8,1158.2 1953.3,1158.2 1953.8,1158.2 1954.2,1158.2 1954.7,1158.3 1955.2,1158.3 1955.7,1158.3 1956.2,1158.3 1956.7,1158.3 1957.2,1158.3 1957.7,1158.3 1958.2,1158.3 1958.7,1158.3 1959.1,1158.3 1959.6,1158.3 1960.1,1158.3 1960.6,1158.3 1961.1,1158.3 1961.6,1158.3 1962.1,1158.3 1962.6,1158.3 1963.1,1158.3 1963.5,1158.3 1964.0,1158.3 1964.5,1158.3 1965.0,1158.3 1965.5,1158.3 1966.0,1158.3 1966.5,1158.3 1967.0,1158.3 1967.5,1158.3 1968.0,1158.3 1968.4,1158.3 1968.9,1158.3 1969.4,1158.3 1969.9,1158.3 1970.4,1158.3 1970.9,1158.3 1971.4,1158.3 1971.9,1158.3 1972.4,1158.3 1972.9,1158.3 1973.3,1158.3 1973.8,1158.3 1974.3,1158.3 1974.8,1158.3 1975.3,1158.3 1975.8,1158.3 1976.3,1158.3 1976.8,1158.3 1977.3,1158.3 1977.8,1158.3 1978.2,1158.3 1978.7,1158.3 1979.2,1158.3 1979.7,1158.3 1980.2,1158.3 1980.7,1158.3 1981.2,1158.3 1981.7,1158.3 1982.2,1158.3 1982.6,1158.3 1983.1,1158.3 1983.6,1158.3 1984.1,1158.3 1984.6,1158.3 1985.1,1158.3 1985.6,1158.3 1986.1,1158.3 1986.6,1158.3 1987.1,1158.3 1987.5,1158.3 1988.0,1158.3 1988.5,1158.3 1989.0,1158.3 1989.5,1158.3 1990.0,1158.3 1990.5,1158.3 1991.0,1158.3 1991.5,1158.3 1992.0,1158.3 1992.4,1158.3 1992.9,1158.3 1993.4,1158.3 1993.9,1158.3 1994.4,1158.3 1994.9,1158.3 1995.4,1158.3 1995.9,1158.3 1996.4,1158.3 1996.9,1158.3 1997.3,1158.3 1997.8,1158.3 1998.3,1158.3"/>
<polyline fill="none" stroke="#00f" stroke-width="5.4" stroke-linejoin="round" points="284.3,994.9 284.8,999.2 285.3,994.4 285.8,996.9 286.3,995.3 286.7,994.5 287.2,1000.1 287.7,1003.0 288.2,999.7 288.7,997.1 289.2,1000.8 289.7,1004.7 290.2,994.3 290.7,993.3 291.2,1000.9 291.6,1002.9 292.1,1003.0 292.6,992.7 293.1,988.6 293.6,995.0 294.1,999.7 294.6,997.4 295.1,994.3 295.6,999.0 296.1,1004.1 296.5,994.4 297.0,996.9 297.5,998.5 298.0,1003.8 298.5,997.9 299.0,999.2 299.5,999.9 300.0,998.3 300.5,991.2 301.0,998.1 301.4,995.5 301.9,1004.0 302.4,996.4 302.9,1002.0 303.4,999.7 303.9,991.6 304.4,999.3 304.9,1000.4 305.4,994.3 305.8,1000.3 306.3,1000.1 306.8,998.0 307.3,1001.8 307.8,993.1 308.3,993.1 308.8,995.6 309.3,996.0 309.8,994.9 310.3,1002.0 310.7,998.0 311.2,1000.8 311.7,999.5 312.2,999.5 312.7,1000.3 313.2,992.2 313.7,999.8 314.2,1000.4 314.7,1004.4 315.2,1003.1 315.6,1001.5 316.1,998.2 316.6,997.0 317.1,996.0 317.6,992.0 318.1,1003.5 318.6,993.3 319.1,997.2 319.6,1000.8 320.0,1004.0 320.5,999.3 321.0,1004.9 321.5,1001.7 322.0,1000.1 322.5,989.3 323.0,997.1 323.5,1000.6 324.0,997.3 324.5,994.0 324.9,996.4 325.4,1002.0 325.9,1000.5 326.4,1000.1 326.9,997.6 327.4,1000.1 327.9,995.8 328.4,996.8 328.9,997.4 329.4,995.9 329.8,1000.2 330.3,999.6 330.8,992.6 331.3,999.8 331.8,997.1 332.3,996.5 332.8,995.8 333.3,996.0 333.8,1000.5 334.3,988.3 334.7,995.1 335.2,993.9 335.7,1000.8 336.2,995.1 336.7,1001.1 337.2,998.8 337.7,1001.8 338.2,1003.8 338.7,992.4 339.1,1004.6 339.6,996.9 340.1,992.9 340.6,996.2 341.1,995.6 341.6,1000.8 342.1,993.6 342.6,994.2 343.1,1000.5 343.6,999.0 344.0,996.1 344.5,992.8 345.0,992.9 345.5,1001.6 346.0,999.4 346.5,999.1 347.0,997.2 347.5,1001.0 348.0,996.4 348.5,999.0 348.9,1003.5 349.4,998.8 349.9,996.0 350.4,999.1 350.9,988.0 351.4,991.8 351.9,1005.3 352.4,997.9 352.9,1004.8 353.4,991.8 353.8,994.9 354.3,997.9 354.8,998.9 355.3,993.4 355.8,1002.2 356.3,996.5 356.8,992.3 357.3,1003.4 357.8,989.2 358.2,997.6 358.7,990.9 359.2,991.7 359.7,996.8 360.2,995.7 360.7,991.4 361.2,993.2 361.7,993.7 362.2,1002.8 362.7,1001.7 363.1,996.3 363.6,1004.2 364.1,990.9 364.6,999.6 365.1,999.3 365.6,989.1 366.1,991.3 366.6,999.0 367.1,992.9 367.6,993.1 368.0,998.5 368.5,999.9 369.0,998.8 369.5,993.3 370.0,993.9 370.5,998.4 371.0,990.7 371.5,996.3 372.0,991.3 372.4,996.1 372.9,992.0 373.4,989.0 373.9,994.9 374.4,996.8 374.9,994.4 375.4,989.5 375.9,992.9 376.4,989.1 376.9,990.0 377.3,990.1 377.8,992.4 378.3,989.9 378.8,996.3 379.3,993.4 379.8,992.2 380.3,983.2 380.8,996.0 381.3,988.7 381.8,989.9 382.2,987.4 382.7,989.3 383.2,999.6 383.7,982.1 384.2,988.0 384.7,985.7 385.2,990.3 385.7,986.2 386.2,984.9 386.7,995.2 387.1,984.7 387.6,992.6 388.1,981.9 388.6,987.3 389.1,985.3 389.6,986.8 390.1,985.0 390.6,983.4 391.1,981.3 391.5,977.4 392.0,983.1 392.5,982.3 393.0,976.1 393.5,971.0 394.0,969.7 394.5,971.0 395.0,971.2 395.5,972.5 396.0,970.0 396.4,962.7 396.9,964.1 397.4,965.5 397.9,947.9 398.4,942.2 398.9,943.1 399.4,934.9 399.9,932.6 400.4,926.6 400.9,919.2 401.3,904.9 401.8,898.4 402.3,888.6 402.8,867.3 403.3,854.7 403.8,830.6 404.3,798.2 404.8,770.3 405.3,734.0 405.8,687.4 406.2,638.2 406.7,580.2 407.2,519.2 407.7,449.5 408.2,387.0 408.7,340.5 409.2,327.7 409.7,347.5 410.2,381.0 410.6,451.6 411.1,515.7 411.6,571.3 412.1,635.1 412.6,691.7 413.1,735.6 413.6,776.8 414.1,802.4 414.6,826.5 415.1,852.9 415.5,872.8 416.0,881.9 416.5,895.2 417.0,900.6 417.5,919.0 418.0,922.9 418.5,939.4 419.0,944.0 419.5,946.9 420.0,951.1 420.4,950.9 420.9,954.1 421.4,964.7 421.9,965.8 422.4,965.9 422.9,965.5 423.4,968.5 423.9,968.1 424.4,972.3 424.8,974.2 425.3,975.5 425.8,977.7 426.3,984.2 426.8,977.6 427.3,980.1 427.8,984.1 428.3,981.1 428.8,985.7 429.3,978.6 429.7,982.5 430.2,988.0 430.7,988.4 431.2,992.6 431.7,989.7 432.2,981.7 432.7,984.2 433.2,994.9 433.7,983.0 434.2,985.0 434.6,982.4 435.1,985.1 435.6,987.4 436.1,991.4 436.6,993.5 437.1,989.1 437.6,991.0 438.1,994.5 438.6,989.1 439.1,997.7 439.5,990.8 440.0,990.2 440.5,987.9 441.0,991.0 441.5,998.6 442.0,996.4 442.5,992.6 443.0,990.3 443.5,995.0 443.9,998.0 444.4,992.3 444.9,991.3 445.4,997.6 445.9,992.6 446.4,1000.2 446.9,995.2 447.4,991.0 447.9,1000.7 448.4,995.5 448.8,1004.5 449.3,1000.8 449.8,992.3 450.3,996.4 450.8,992.4 451.3,996.5 451.8,995.3 452.3,993.8 452.8,1004.8 453.3,1001.1 453.7,990.0 454.2,994.8 454.7,997.4 455.2,994.0 455.7,993.4 456.2,990.2 456.7,990.5 457.2,999.3 457.7,995.5 458.2,998.4 458.6,996.0 459.1,989.9 459.6,995.3 460.1,1004.3 460.6,995.1 461.1,997.5 461.6,995.0 462.1,994.1 462.6,990.6 463.0,1006.1 463.5,997.6 464.0,1000.6 464.5,990.3 465.0,1003.4 465.5,999.2 466.0,1002.0 466.5,997.8 467.0,995.9 467.5,999.3 467.9,1004.4 468.4,997.1 468.9,1000.4 469.4,996.9 469.9,993.3 470.4,998.1 470.9,997.8 471.4,997.2 471.9,996.1 472.4,1002.6 472.8,999.5 473.3,996.0 473.8,997.4 474.3,1007.4 474.8,1004.6 475.3,994.2 475.8,996.3 476.3,997.5 476.8,1000.1 477.2,992.9 477.7,1001.8 478.2,996.1 478.7,993.2 479.2,1002.8 479.7,991.2 480.2,1002.5 480.7,996.3 481.2,988.7 481.7,998.4 482.1,996.4 482.6,990.5 483.1,997.1 483.6,999.8 484.1,998.2 484.6,1001.9 485.1,992.4 485.6,999.7 486.1,1001.6 486.6,1000.8 487.0,995.6 487.5,998.0 488.0,1004.9 488.5,990.6 489.0,1001.7 489.5,988.2 490.0,992.5 490.5,994.8 491.0,1002.5 491.5,989.2 491.9,997.0 492.4,999.4 492.9,1002.8 493.4,1004.8 493.9,1008.1 494.4,1001.4 494.9,999.9 495.4,1001.9 495.9,1000.1 496.3,994.9 496.8,991.0 497.3,1006.5 497.8,997.7 498.3,1005.2 498.8,1007.4 499.3,997.7 499.8,1001.4 500.3,1000.9 500.8,995.6 501.2,999.8 501.7,1003.6 502.2,991.1 502.7,995.6 503.2,1000.7 503.7,1000.9 504.2,996.0 504.7,1004.4 505.2,998.1 505.7,1004.1 506.1,992.2 506.6,1004.9 507.1,1006.6 507.6,996.0 508.1,1005.3 508.6,1004.7 509.1,995.4 509.6,996.5 510.1,999.7 510.6,1000.6 511.0,1003.5 511.5,989.5 512.0,1002.7 512.5,999.6 513.0,994.9 513.5,993.2 514.0,1004.6 514.5,997.2 515.0,993.9 515.4,1002.4 515.9,992.9 516.4,996.0 516.9,1005.7 517.4,1002.9 517.9,1003.0 518.4,991.4 518.9,1004.3 519.4,993.5 519.9,1003.8 520.3,993.7 520.8,997.5 521.3,995.7 521.8,1004.6 522.3,998.9 522.8,993.1 523.3,999.0 523.8,997.0 524.3,991.2 524.8,998.2 525.2,991.3 525.7,1005.0 526.2,1003.8 526.7,1002.7 527.2,1000.6 527.7,997.9 528.2,990.6 528.7,1002.7 529.2,996.7 529.6,999.4 530.1,995.8 530.6,996.8 531.1,1000.5 531.6,1006.8 532.1,1001.1 532.6,999.6 533.1,1003.3 533.6,993.9 534.1,998.4 534.5,998.1 535.0,1005.7 535.5,1001.5 536.0,991.5 536.5,997.2 537.0,996.9 537.5,1001.0 538.0,995.2 538.5,1002.1 539.0,998.7 539.4,994.8 539.9,1005.8 540.4,992.4 540.9,999.3 541.4,1005.3 541.9,996.3 542.4,1000.8 542.9,994.3 543.4,999.6 543.9,997.3 544.3,995.3 544.8,1003.7 545.3,1004.6 545.8,992.2 546.3,991.3 546.8,1000.0 547.3,997.0 547.8,1004.1 548.3,991.6 548.7,988.9 549.2,998.0 549.7,1000.1 550.2,993.3 550.7,1001.9 551.2,1001.5 551.7,993.2 552.2,991.8 552.7,992.3 553.2,1000.4 553.6,1000.3 554.1,999.1 554.6,996.4 555.1,996.7 555.6,1009.0 556.1,1001.4 556.6,998.7 557.1,1003.1 557.6,1005.7 558.1,1002.8 558.5,993.9 559.0,999.2 559.5,997.3 560.0,1003.0 560.5,995.8 561.0,1004.4 561.5,1001.1 562.0,997.7 562.5,996.7 563.0,998.6 563.4,994.4 563.9,1000.9 564.4,1004.8 564.9,1002.7 565.4,994.4 565.9,997.8 566.4,992.6 566.9,999.7 567.4,1002.6 567.8,996.5 568.3,1003.2 568.8,1003.4 569.3,1004.3 569.8,998.6 570.3,1005.1 570.8,996.4 571.3,999.3 571.8,1000.7 572.3,1004.4 572.7,1000.4 573.2,1006.3 573.7,994.4 574.2,1000.5 574.7,1004.3 575.2,988.9 575.7,998.9 576.2,998.9 576.7,995.3 577.2,996.3 577.6,998.9 578.1,1000.6 578.6,995.9 579.1,1001.7 579.6,998.5 580.1,996.1 580.6,1003.6 581.1,996.5 581.6,1003.9 582.0,1004.7 582.5,1004.3 583.0,993.8 583.5,1002.3 584.0,996.4 584.5,1001.3 585.0,1000.9 585.5,1002.7 586.0,996.0 586.5,1001.1 586.9,999.2 587.4,1001.1 587.9,998.1 588.4,997.2 588.9,1000.9 589.4,1002.3 589.9,996.6 590.4,999.4 590.9,1005.7 591.4,1000.6 591.8,1007.0 592.3,997.9 592.8,994.3 593.3,995.3 593.8,996.5 594.3,1003.7 594.8,995.9 595.3,996.5 595.8,992.4 596.3,998.4 596.7,996.6 597.2,999.0 597.7,998.1 598.2,1000.0 598.7,997.7 599.2,999.5 599.7,998.7 600.2,994.6 600.7,1003.6 601.1,1009.3 601.6,995.0 602.1,1007.6 602.6,997.8 603.1,996.3 603.6,1002.7 604.1,991.4 604.6,998.0 605.1,996.3 605.6,1002.1 606.0,993.8 606.5,1007.2 607.0,995.4 607.5,1003.9 608.0,1000.5 608.5,1001.9 609.0,1003.5 609.5,994.8 610.0,998.7 610.5,995.9 610.9,991.4 611.4,1003.1 611.9,995.8 612.4,1007.1 612.9,996.6 613.4,995.3 613.9,997.5 614.4,995.5 614.9,1005.7 615.4,996.3 615.8,1004.5 616.3,1000.1 616.8,996.5 617.3,1001.7 617.8,1005.7 618.3,1001.8 618.8,1007.2 619.3,1002.1 619.8,991.3 620.2,995.2 620.7,999.4 621.2,1005.6 621.7,1004.7 622.2,1004.2 622.7,1008.3 623.2,1005.2 623.7,993.5 624.2,999.6 624.7,1001.6 625.1,1005.9 625.6,998.5 626.1,1004.1 626.6,1001.0 627.1,995.8 627.6,998.2 628.1,1002.7 628.6,997.9 629.1,1002.4 629.6,999.9 630.0,998.7 630.5,1005.4 631.0,1003.3 631.5,1003.8 632.0,1007.7 632.5,999.7 633.0,997.6 633.5,999.9 634.0,993.1 634.4,995.7 634.9,1001.5 635.4,1003.5 635.9,998.8 636.4,1003.8 636.9,996.8 637.4,1001.9 637.9,998.5 638.4,1004.4 638.9,1006.0 639.3,1005.2 639.8,1001.4 640.3,998.5 640.8,993.9 641.3,993.7 641.8,1004.3 642.3,997.1 642.8,1002.0 643.3,996.4 643.8,997.1 644.2,1001.3 644.7,1001.4 645.2,999.4 645.7,990.7 646.2,991.4 646.7,995.6 647.2,986.4 647.7,983.7 648.2,984.2 648.7,990.6 649.1,998.0 649.6,995.6 650.1,1003.2 650.6,998.2 651.1,999.0 651.6,999.0 652.1,999.6 652.6,998.2 653.1,998.9 653.5,999.7 654.0,1004.6 654.5,1001.5 655.0,995.6 655.5,997.2 656.0,996.5 656.5,1007.4 657.0,1000.3 657.5,997.8 658.0,993.6 658.4,1005.9 658.9,1001.3 659.4,996.6 659.9,999.5 660.4,998.5 660.9,1005.9 661.4,998.0 661.9,1007.5 662.4,1000.3 662.9,1003.8 663.3,993.5 663.8,1001.3 664.3,997.7 664.8,1000.9 665.3,1008.1 665.8,1004.0 666.3,994.8 666.8,997.5 667.3,998.3 667.8,1009.3 668.2,1005.9 668.7,996.4 669.2,996.8 669.7,1000.0 670.2,999.9 670.7,999.7 671.2,1000.5 671.7,995.1 672.2,996.5 672.6,1001.8 673.1,995.5 673.6,1005.6 674.1,995.4 674.6,992.5 675.1,998.7 675.6,996.0 676.1,997.7 676.6,1000.4 677.1,995.8 677.5,994.1 678.0,992.6 678.5,998.6 679.0,1001.7 679.5,995.9 680.0,999.2 680.5,991.5 681.0,993.3 681.5,992.1 682.0,993.5 682.4,992.1 682.9,987.7 683.4,990.4 683.9,996.7 684.4,983.6 684.9,992.9 685.4,990.4 685.9,994.7 686.4,988.2 686.8,989.7 687.3,985.8 687.8,987.4 688.3,982.5 688.8,979.1 689.3,980.3 689.8,980.1 690.3,977.7 690.8,969.3 691.3,972.4 691.7,965.6 692.2,963.7 692.7,971.5 693.2,962.4 693.7,954.7 694.2,955.7 694.7,958.1 695.2,963.7 695.7,958.4 696.2,965.5 696.6,971.8 697.1,961.6 697.6,970.6 698.1,966.0 698.6,966.2 699.1,971.1 699.6,980.5 700.1,975.4 700.6,979.5 701.1,977.8 701.5,984.8 702.0,979.7 702.5,986.0 703.0,982.2 703.5,983.9 704.0,989.1 704.5,983.5 705.0,982.2 705.5,980.0 705.9,975.2 706.4,986.9 706.9,986.4 707.4,980.5 707.9,971.9 708.4,977.4 708.9,976.3 709.4,972.8 709.9,967.7 710.4,957.2 710.8,950.9 711.3,942.3 711.8,940.0 712.3,917.0 712.8,906.3 713.3,889.1 713.8,852.4 714.3,828.4 714.8,786.5 715.3,760.7 715.7,739.3 716.2,742.6 716.7,754.3 717.2,793.3 717.7,826.8 718.2,846.7 718.7,872.7 719.2,900.9 719.7,919.5 720.2,926.6 720.6,940.7 721.1,952.4 721.6,952.6 722.1,958.3 722.6,955.3 723.1,961.6 723.6,951.8 724.1,958.6 724.6,948.6 725.0,941.6 725.5,944.0 726.0,929.9 726.5,910.8 727.0,894.7 727.5,861.8 728.0,818.9 728.5,767.5 729.0,708.8 729.5,661.2 729.9,649.3 730.4,672.6 730.9,714.7 731.4,764.5 731.9,816.4 732.4,863.7 732.9,896.3 733.4,923.1 733.9,933.2 734.4,953.2 734.8,957.6 735.3,972.4 735.8,970.2 736.3,976.4 736.8,977.9 737.3,978.4 737.8,986.5 738.3,977.1 738.8,980.9 739.2,988.8 739.7,993.6 740.2,996.6 740.7,993.5 741.2,993.2 741.7,996.0 742.2,995.6 742.7,997.5 743.2,996.4 743.7,991.7 744.1,994.7 744.6,991.6 745.1,999.6 745.6,998.5 746.1,992.3 746.6,999.2 747.1,999.5 747.6,990.8 748.1,994.7 748.6,999.4 749.0,999.6 749.5,996.0 750.0,998.7 750.5,993.1 751.0,1001.3 751.5,994.8 752.0,993.0 752.5,995.7 753.0,994.8 753.5,995.7 753.9,997.0 754.4,999.8 754.9,1000.2 755.4,997.5 755.9,999.1 756.4,993.3 756.9,996.2 757.4,997.5 757.9,999.9 758.3,1000.4 758.8,991.5 759.3,1003.5 759.8,998.3 760.3,1002.0 760.8,991.8 761.3,992.4 761.8,992.4 762.3,989.2 762.8,997.3 763.2,999.2 763.7,990.1 764.2,998.9 764.7,994.2 765.2,991.1 765.7,996.9 766.2,994.6 766.7,995.0 767.2,996.0 767.7,997.4 768.1,989.1 768.6,985.0 769.1,981.4 769.6,976.9 770.1,968.8 770.6,954.0 771.1,934.5 771.6,915.4 772.1,887.8 772.6,872.9 773.0,869.7 773.5,896.6 774.0,910.6 774.5,940.2 775.0,955.1 775.5,966.7 776.0,978.0 776.5,980.0 777.0,991.0 777.4,997.2 777.9,995.6 778.4,994.3 778.9,998.8 779.4,991.8 779.9,998.4 780.4,996.4 780.9,999.9 781.4,999.9 781.9,1001.9 782.3,996.3 782.8,997.7 783.3,995.2 783.8,997.3 784.3,996.1 784.8,1003.5 785.3,998.9 785.8,1003.5 786.3,1008.1 786.8,1000.8 787.2,995.6 787.7,1006.4 788.2,996.3 788.7,1001.9 789.2,999.8 789.7,1002.8 790.2,1001.5 790.7,1000.0 791.2,994.5 791.6,1003.5 792.1,1003.2 792.6,992.2 793.1,996.9 793.6,996.6 794.1,1001.5 794.6,997.9 795.1,1003.8 795.6,1004.7 796.1,999.9 796.5,996.5 797.0,1006.9 797.5,1002.7 798.0,997.9 798.5,1001.3 799.0,1004.1 799.5,1001.0 800.0,1007.5 800.5,1004.3 801.0,1000.2 801.4,1002.3 801.9,1004.8 802.4,999.6 802.9,1000.8 803.4,996.8 803.9,993.7 804.4,1004.8 804.9,1006.9 805.4,1001.9 805.9,1006.0 806.3,1001.1 806.8,1000.4 807.3,1001.4 807.8,1005.3 808.3,1004.9 808.8,1003.2 809.3,1006.2 809.8,993.2 810.3,1001.3 810.7,994.9 811.2,1003.8 811.7,1001.4 812.2,996.4 812.7,1000.4 813.2,1002.3 813.7,1003.2 814.2,1000.7 814.7,1002.8 815.2,992.9 815.6,1002.2 816.1,1001.2 816.6,1002.4 817.1,1005.3 817.6,996.6 818.1,1009.5 818.6,996.3 819.1,998.5 819.6,1000.9 820.1,1000.1 820.5,999.2 821.0,998.5 821.5,997.8 822.0,1002.6 822.5,1002.3 823.0,1001.4 823.5,1003.4 824.0,1001.8 824.5,1001.2 825.0,1007.0 825.4,1005.8 825.9,1000.8 826.4,1001.8 826.9,1006.2 827.4,999.1 827.9,1003.2 828.4,1007.4 828.9,998.2 829.4,999.3 829.8,997.2 830.3,1003.8 830.8,994.2 831.3,1001.6 831.8,998.9 832.3,998.4 832.8,1000.7 833.3,1004.5 833.8,997.6 834.3,1000.5 834.7,997.0 835.2,999.3 835.7,1001.9 836.2,1002.8 836.7,995.7 837.2,1000.8 837.7,996.4 838.2,1003.4 838.7,1005.7 839.2,997.2 839.6,996.8 840.1,1000.1 840.6,1001.2 841.1,996.3 841.6,1002.0 842.1,1002.7 842.6,1005.3 843.1,1005.8 843.6,1001.1 844.0,1005.0 844.5,1001.0 845.0,1000.1 845.5,999.7 846.0,1006.9 846.5,1001.7 847.0,1001.0 847.5,996.6 848.0,1000.8 848.5,1002.7 848.9,1001.2 849.4,998.9 849.9,1002.9 850.4,1010.3 850.9,999.6 851.4,999.5 851.9,1001.9 852.4,1007.0 852.9,1003.8 853.4,1000.1 853.8,1003.7 854.3,1007.9 854.8,1001.6 855.3,1001.5 855.8,1000.2 856.3,997.9 856.8,1002.4 857.3,999.0 857.8,1003.8 858.3,1007.1 858.7,998.5 859.2,999.1 859.7,995.9 860.2,1002.8 860.7,996.4 861.2,1002.0 861.7,1001.9 862.2,1000.2 862.7,1001.8 863.1,998.0 863.6,1004.1 864.1,1006.1 864.6,1004.3 865.1,999.1 865.6,1000.1 866.1,1002.0 866.6,1001.3 867.1,998.0 867.6,999.4 868.0,994.1 868.5,1003.5 869.0,996.0 869.5,994.0 870.0,1003.6 870.5,993.7 871.0,1001.0 871.5,1002.5 872.0,1005.9 872.5,1002.5 872.9,1004.7 873.4,998.8 873.9,1005.0 874.4,999.1 874.9,1000.0 875.4,1005.6 875.9,1005.6 876.4,997.7 876.9,1005.9 877.4,1001.0 877.8,1002.4 878.3,998.8 878.8,1000.6 879.3,1002.6 879.8,1002.0 880.3,998.6 880.8,1001.9 881.3,1001.7 881.8,1000.0 882.2,1002.1 882.7,1001.0 883.2,996.8 883.7,1003.3 884.2,998.5 884.7,1003.2 885.2,1000.1 885.7,1006.8 886.2,1009.0 886.7,1004.5 887.1,1001.3 887.6,1002.0 888.1,1004.8 888.6,1000.2 889.1,997.0 889.6,1006.1 890.1,1001.2 890.6,999.6 891.1,1008.0 891.6,1000.1 892.0,1004.3 892.5,1004.6 893.0,1001.7 893.5,999.7 894.0,1005.7 894.5,1002.8 895.0,1003.4 895.5,999.9 896.0,1003.5 896.4,1001.6 896.9,997.8 897.4,1004.7 897.9,997.7 898.4,1001.5 898.9,1000.1 899.4,998.4 899.9,999.6 900.4,1001.5 900.9,1001.3 901.3,1001.3 901.8,1004.9 902.3,995.6 902.8,1001.3 903.3,1002.3 903.8,1001.1 904.3,1003.1 904.8,999.8 905.3,1003.2 905.8,1001.5 906.2,1001.3 906.7,997.8 907.2,1004.4 907.7,1004.6 908.2,1002.4 908.7,1006.2 909.2,1004.5 909.7,1005.8 910.2,1002.8 910.7,1006.4 911.1,998.5 911.6,1001.6 912.1,997.0 912.6,1002.7 913.1,1001.3 913.6,1003.5 914.1,1002.6 914.6,998.8 915.1,998.0 915.5,997.6 916.0,998.0 916.5,999.8 917.0,1001.8 917.5,1003.2 918.0,1004.1 918.5,1003.7 919.0,1001.9 919.5,1003.9 920.0,999.0 920.4,995.8 920.9,999.7 921.4,1004.5 921.9,1003.8 922.4,1003.3 922.9,995.7 923.4,1000.6 923.9,1001.0 924.4,1005.1 924.9,1003.1 925.3,1001.0 925.8,1000.9 926.3,1005.1 926.8,995.4 927.3,998.9 927.8,1000.8 928.3,1000.4 928.8,1001.5 929.3,997.1 929.8,997.7 930.2,1001.4 930.7,1000.6 931.2,1004.1 931.7,1003.9 932.2,1001.5 932.7,1003.5 933.2,1000.1 933.7,999.4 934.2,999.1 934.6,1001.2 935.1,999.8 935.6,999.5 936.1,998.6 936.6,1000.8 937.1,995.4 937.6,1002.7 938.1,1001.3 938.6,1001.5 939.1,998.2 939.5,998.9 940.0,998.3 940.5,1001.2 941.0,1002.3 941.5,999.7 942.0,996.2 942.5,1005.3 943.0,997.4 943.5,1000.0 944.0,998.2 944.4,998.8 944.9,994.8 945.4,995.2 945.9,999.9 946.4,991.9 946.9,999.6 947.4,993.8 947.9,999.3 948.4,998.5 948.9,995.6 949.3,999.2 949.8,992.7 950.3,1000.3 950.8,997.5 951.3,993.6 951.8,993.5 952.3,994.4 952.8,993.9 953.3,993.4 953.7,996.2 954.2,990.0 954.7,994.2 955.2,989.8 955.7,986.8 956.2,989.5 956.7,980.6 957.2,985.5 957.7,978.5 958.2,982.7 958.6,982.1 959.1,975.4 959.6,966.8 960.1,970.4 960.6,961.7 961.1,961.2 961.6,951.3 962.1,947.7 962.6,938.9 963.1,937.8 963.5,932.9 964.0,921.9 964.5,915.7 965.0,907.6 965.5,902.3 966.0,896.3 966.5,892.1 967.0,886.1 967.5,890.6 967.9,892.3 968.4,888.0 968.9,898.7 969.4,899.6 969.9,904.1 970.4,913.2 970.9,921.3 971.4,934.3 971.9,935.7 972.4,939.7 972.8,945.7 973.3,949.9 973.8,957.4 974.3,962.5 974.8,969.6 975.3,973.8 975.8,975.1 976.3,982.9 976.8,981.6 977.3,983.4 977.7,979.5 978.2,985.2 978.7,987.1 979.2,994.2 979.7,990.7 980.2,990.8 980.7,987.4 981.2,995.3 981.7,994.0 982.2,995.6 982.6,994.2 983.1,993.4 983.6,995.4 984.1,991.8 984.6,1000.4 985.1,998.9 985.6,999.0 986.1,997.8 986.6,996.5 987.0,1000.8 987.5,996.0 988.0,996.4 988.5,998.9 989.0,1000.7 989.5,1000.9 990.0,1001.5 990.5,1001.4 991.0,999.4 991.5,1000.2 991.9,994.4 992.4,998.1 992.9,998.3 993.4,1001.8 993.9,999.7 994.4,999.9 994.9,999.0 995.4,995.8 995.9,1000.0 996.4,1003.3 996.8,1001.3 997.3,998.4 997.8,1002.9 998.3,1001.7 998.8,1003.6 999.3,1002.5 999.8,1000.4 1000.3,1000.6 1000.8,999.9 1001.3,999.1 1001.7,1002.2 1002.2,1003.3 1002.7,1001.6 1003.2,1004.4 1003.7,1005.3 1004.2,1003.5 1004.7,1004.5 1005.2,1004.2 1005.7,1001.1 1006.1,1003.5 1006.6,1003.7 1007.1,999.6 1007.6,999.8 1008.1,1001.5 1008.6,1003.4 1009.1,1004.7 1009.6,999.6 1010.1,1001.5 1010.6,1002.5 1011.0,998.7 1011.5,1000.4 1012.0,1002.3 1012.5,999.1 1013.0,1000.3 1013.5,998.3 1014.0,1005.6 1014.5,1002.0 1015.0,1002.1 1015.5,1004.4 1015.9,1000.9 1016.4,1005.2 1016.9,1004.1 1017.4,1008.0 1017.9,1004.5 1018.4,1000.6 1018.9,1000.1 1019.4,1000.4 1019.9,1000.7 1020.3,1004.2 1020.8,1001.8 1021.3,1000.7 1021.8,1000.5 1022.3,1005.6 1022.8,1002.4 1023.3,1002.8 1023.8,1002.3 1024.3,1001.7 1024.8,1001.9 1025.2,1007.3 1025.7,1001.9 1026.2,1004.3 1026.7,1003.1 1027.2,998.7 1027.7,999.1 1028.2,1003.7 1028.7,1000.8 1029.2,1006.0 1029.7,1001.5 1030.1,1006.9 1030.6,997.7 1031.1,1006.4 1031.6,999.7 1032.1,1004.3 1032.6,1000.5 1033.1,1005.0 1033.6,1005.9 1034.1,1003.2 1034.6,1003.2 1035.0,1000.2 1035.5,1005.0 1036.0,1006.3 1036.5,1001.7 1037.0,1006.1 1037.5,1001.7 1038.0,1001.9 1038.5,1000.1 1039.0,999.4 1039.4,1001.1 1039.9,998.7 1040.4,1004.5 1040.9,1001.4 1041.4,1001.9 1041.9,1002.6 1042.4,1000.3 1042.9,1000.7 1043.4,1001.7 1043.9,999.2 1044.3,1004.5 1044.8,1003.3 1045.3,1000.8 1045.8,1000.0 1046.3,1004.9 1046.8,1000.6 1047.3,1002.1 1047.8,1005.9 1048.3,1004.7 1048.8,997.7 1049.2,1000.4 1049.7,1000.5 1050.2,1005.1 1050.7,1001.5 1051.2,1003.9 1051.7,1004.4 1052.2,1000.9 1052.7,1002.1 1053.2,1002.2 1053.7,1004.4 1054.1,1005.2 1054.6,1004.9 1055.1,1004.7 1055.6,1002.9 1056.1,1000.4 1056.6,999.4 1057.1,998.8 1057.6,1006.0 1058.1,1001.2 1058.5,1008.0 1059.0,1003.1 1059.5,1003.9 1060.0,1000.9 1060.5,1003.8 1061.0,1003.9 1061.5,1000.8 1062.0,1004.4 1062.5,1001.7 1063.0,1000.6 1063.4,1004.9 1063.9,1004.2 1064.4,1001.2 1064.9,1004.0 1065.4,1003.9 1065.9,998.1 1066.4,1003.3 1066.9,999.3 1067.4,1005.2 1067.9,1001.8 1068.3,1001.1 1068.8,999.9 1069.3,1000.3 1069.8,1002.1 1070.3,1000.9 1070.8,999.6 1071.3,1001.0 1071.8,998.6 1072.3,996.5 1072.7,1001.2 1073.2,998.4 1073.7,995.5 1074.2,999.9 1074.7,998.1 1075.2,999.7 1075.7,999.1 1076.2,996.0 1076.7,996.4 1077.2,999.8 1077.6,998.5 1078.1,989.6 1078.6,992.0 1079.1,989.5 1079.6,987.8 1080.1,991.0 1080.6,989.4 1081.1,981.1 1081.6,985.0 1082.1,973.6 1082.5,967.6 1083.0,960.7 1083.5,953.4 1084.0,936.5 1084.5,925.0 1085.0,905.5 1085.5,885.4 1086.0,864.4 1086.5,847.1 1087.0,844.9 1087.4,846.8 1087.9,865.6 1088.4,884.0 1088.9,903.4 1089.4,921.3 1089.9,935.7 1090.4,951.1 1090.9,960.3 1091.4,970.0 1091.8,971.3 1092.3,980.6 1092.8,982.6 1093.3,981.2 1093.8,985.3 1094.3,988.8 1094.8,986.5 1095.3,991.3 1095.8,989.3 1096.3,991.6 1096.7,991.2 1097.2,987.7 1097.7,985.6 1098.2,992.7 1098.7,992.0 1099.2,992.1 1099.7,990.5 1100.2,983.3 1100.7,989.0 1101.2,989.6 1101.6,985.4 1102.1,980.0 1102.6,982.4 1103.1,977.4 1103.6,982.0 1104.1,979.0 1104.6,976.0 1105.1,968.9 1105.6,967.1 1106.1,961.1 1106.5,963.8 1107.0,953.8 1107.5,951.9 1108.0,942.7 1108.5,940.9 1109.0,936.0 1109.5,929.8 1110.0,928.9 1110.5,927.9 1110.9,916.9 1111.4,918.6 1111.9,916.1 1112.4,917.7 1112.9,922.5 1113.4,921.2 1113.9,929.0 1114.4,928.9 1114.9,937.4 1115.4,942.0 1115.8,948.4 1116.3,953.3 1116.8,952.8 1117.3,956.1 1117.8,966.2 1118.3,966.6 1118.8,969.6 1119.3,973.0 1119.8,976.9 1120.3,977.7 1120.7,981.3 1121.2,983.1 1121.7,983.5 1122.2,987.6 1122.7,989.2 1123.2,992.4 1123.7,992.8 1124.2,987.5 1124.7,993.0 1125.1,992.8 1125.6,992.8 1126.1,993.0 1126.6,992.1 1127.1,990.5 1127.6,995.5 1128.1,989.2 1128.6,993.9 1129.1,996.1 1129.6,993.8 1130.0,991.4 1130.5,989.7 1131.0,991.4 1131.5,992.5 1132.0,991.0 1132.5,984.4 1133.0,985.0 1133.5,982.9 1134.0,983.5 1134.5,977.1 1134.9,979.2 1135.4,977.6 1135.9,976.3 1136.4,974.1 1136.9,973.2 1137.4,976.8 1137.9,974.2 1138.4,973.7 1138.9,975.5 1139.4,976.3 1139.8,978.5 1140.3,979.8 1140.8,981.4 1141.3,985.1 1141.8,987.8 1142.3,988.5 1142.8,987.7 1143.3,987.6 1143.8,992.7 1144.2,991.4 1144.7,992.0 1145.2,993.7 1145.7,994.5 1146.2,999.4 1146.7,997.9 1147.2,1000.0 1147.7,997.2 1148.2,999.2 1148.7,995.4 1149.1,1001.3 1149.6,1000.2 1150.1,1003.3 1150.6,1001.5 1151.1,1003.9 1151.6,1000.7 1152.1,1003.2 1152.6,1000.3 1153.1,1002.9 1153.6,1004.6 1154.0,1000.5 1154.5,1001.9 1155.0,1000.4 1155.5,1003.5 1156.0,1003.7 1156.5,1005.3 1157.0,1004.9 1157.5,1002.9 1158.0,1003.2 1158.5,1002.7 1158.9,1003.6 1159.4,1004.9 1159.9,1007.8 1160.4,1001.2 1160.9,1003.4 1161.4,1004.2 1161.9,1004.2 1162.4,1001.2 1162.9,1000.8 1163.3,1001.7 1163.8,1002.0 1164.3,1006.9 1164.8,1003.5 1165.3,1003.9 1165.8,1003.6 1166.3,1004.0 1166.8,1002.2 1167.3,1002.8 1167.8,1003.6 1168.2,1003.9 1168.7,1003.6 1169.2,1004.7 1169.7,1006.7 1170.2,1005.2 1170.7,1005.2 1171.2,1003.4 1171.7,1004.0 1172.2,1002.5 1172.7,1002.0 1173.1,1001.4 1173.6,1001.4 1174.1,1003.8 1174.6,1001.0 1175.1,1009.2 1175.6,1005.5 1176.1,1005.4 1176.6,1003.7 1177.1,1004.2 1177.5,1003.3 1178.0,1006.0 1178.5,1003.5 1179.0,1002.3 1179.5,1005.4 1180.0,1005.8 1180.5,1005.2 1181.0,1007.3 1181.5,1005.4 1182.0,1003.4 1182.4,1001.4 1182.9,1003.9 1183.4,1005.3 1183.9,1003.1 1184.4,1003.2 1184.9,1008.2 1185.4,1007.6 1185.9,1004.5 1186.4,1004.8 1186.9,1004.9 1187.3,1001.7 1187.8,1007.2 1188.3,1002.6 1188.8,1007.3 1189.3,1003.1 1189.8,1003.2 1190.3,1001.7 1190.8,1002.6 1191.3,1005.0 1191.8,1000.9 1192.2,1002.6 1192.7,1005.3 1193.2,1004.9 1193.7,1006.4 1194.2,1000.6 1194.7,1006.3 1195.2,1004.6 1195.7,1005.0 1196.2,1001.1 1196.6,1003.5 1197.1,1005.7 1197.6,1006.9 1198.1,1004.7 1198.6,1004.5 1199.1,1000.5 1199.6,1006.2 1200.1,1002.3 1200.6,1007.0 1201.1,1003.3 1201.5,1000.9 1202.0,1007.6 1202.5,1003.6 1203.0,1001.6 1203.5,1003.7 1204.0,1003.2 1204.5,1006.0 1205.0,1006.4 1205.5,1007.2 1206.0,1001.0 1206.4,1003.6 1206.9,1004.5 1207.4,1007.6 1207.9,1007.1 1208.4,1007.1 1208.9,1001.3 1209.4,1005.2 1209.9,1004.6 1210.4,1007.7 1210.9,1006.6 1211.3,1003.6 1211.8,1004.0 1212.3,1004.8 1212.8,1008.0 1213.3,1004.1 1213.8,1007.7 1214.3,1008.5 1214.8,1004.3 1215.3,1003.8 1215.7,1008.6 1216.2,1003.2 1216.7,1003.3 1217.2,1004.7 1217.7,1003.5 1218.2,1007.4 1218.7,1008.1 1219.2,1004.9 1219.7,1002.5 1220.2,1004.4 1220.6,1003.3 1221.1,1007.0 1221.6,1004.7 1222.1,1005.7 1222.6,1003.3 1223.1,1006.0 1223.6,1005.1 1224.1,1005.5 1224.6,1008.2 1225.1,1003.1 1225.5,1003.4 1226.0,1003.3 1226.5,1005.6 1227.0,1004.3 1227.5,1005.9 1228.0,1002.7 1228.5,1005.8 1229.0,1000.8 1229.5,1007.7 1229.9,1007.1 1230.4,1007.4 1230.9,1003.1 1231.4,1002.5 1231.9,1007.3 1232.4,1008.3 1232.9,1006.5 1233.4,1008.5 1233.9,1010.1 1234.4,1001.2 1234.8,1006.0 1235.3,1002.4 1235.8,1003.6 1236.3,1003.7 1236.8,1007.2 1237.3,1003.5 1237.8,1003.4 1238.3,1004.7 1238.8,1002.8 1239.3,1004.5 1239.7,1003.7 1240.2,1003.9 1240.7,1003.5 1241.2,1005.3 1241.7,1001.8 1242.2,1006.0 1242.7,1004.0 1243.2,1009.9 1243.7,1005.0 1244.2,1002.6 1244.6,1004.4 1245.1,1005.2 1245.6,1006.6 1246.1,1007.2 1246.6,1006.1 1247.1,1005.3 1247.6,1004.9 1248.1,1001.9 1248.6,1005.4 1249.0,1005.1 1249.5,1004.6 1250.0,1006.7 1250.5,1004.2 1251.0,1007.0 1251.5,1004.1 1252.0,1006.9 1252.5,1005.8 1253.0,1004.4 1253.5,1007.1 1253.9,1007.2 1254.4,1006.9 1254.9,1005.3 1255.4,1001.8 1255.9,1004.9 1256.4,1006.5 1256.9,1003.9 1257.4,1005.8 1257.9,1006.3 1258.4,1005.6 1258.8,1001.4 1259.3,1002.8 1259.8,1004.1 1260.3,1003.4 1260.8,1007.1 1261.3,1003.7 1261.8,1001.0 1262.3,1003.8 1262.8,1006.3 1263.3,1004.0 1263.7,1006.1 1264.2,1005.1 1264.7,1005.3 1265.2,1007.4 1265.7,1008.2 1266.2,1003.6 1266.7,1004.7 1267.2,1007.3 1267.7,1001.9 1268.1,1006.8 1268.6,1007.4 1269.1,1005.6 1269.6,1002.4 1270.1,1004.8 1270.6,1003.9 1271.1,1002.4 1271.6,1006.6 1272.1,1005.7 1272.6,1007.2 1273.0,1007.0 1273.5,1004.6 1274.0,1007.4 1274.5,1006.8 1275.0,1003.2 1275.5,1007.5 1276.0,1001.9 1276.5,1009.9 1277.0,1005.7 1277.5,1006.3 1277.9,1008.0 1278.4,1003.4 1278.9,1008.5 1279.4,1003.6 1279.9,1006.8 1280.4,1003.5 1280.9,1007.6 1281.4,1005.0 1281.9,1003.7 1282.3,1008.6 1282.8,1004.4 1283.3,1003.4 1283.8,1007.5 1284.3,1005.8 1284.8,1003.9 1285.3,1007.4 1285.8,1008.2 1286.3,1003.6 1286.8,1005.2 1287.2,1006.7 1287.7,1003.2 1288.2,1005.3 1288.7,1004.6 1289.2,1002.7 1289.7,1006.6 1290.2,1008.6 1290.7,1009.4 1291.2,1005.4 1291.7,1003.8 1292.1,1003.7 1292.6,1006.0 1293.1,1004.3 1293.6,1005.7 1294.1,1007.7 1294.6,1006.7 1295.1,1004.8 1295.6,1002.5 1296.1,1001.6 1296.6,1005.0 1297.0,1008.1 1297.5,1006.7 1298.0,1006.4 1298.5,1005.3 1299.0,1002.8 1299.5,1003.5 1300.0,1002.8 1300.5,1006.5 1301.0,1006.6 1301.4,1000.4 1301.9,1003.6 1302.4,1005.8 1302.9,1005.2 1303.4,1003.4 1303.9,1001.2 1304.4,1007.6 1304.9,1003.5 1305.4,1007.7 1305.9,1000.1 1306.3,1005.0 1306.8,1002.8 1307.3,1001.7 1307.8,1003.5 1308.3,999.2 1308.8,1002.4 1309.3,1002.1 1309.8,1001.4 1310.3,999.3 1310.8,997.0 1311.2,996.8 1311.7,998.2 1312.2,1001.1 1312.7,1000.4 1313.2,997.7 1313.7,994.9 1314.2,994.6 1314.7,994.8 1315.2,1000.6 1315.7,993.7 1316.1,995.2 1316.6,993.5 1317.1,991.7 1317.6,992.9 1318.1,992.3 1318.6,989.7 1319.1,989.4 1319.6,991.4 1320.1,989.2 1320.5,986.5 1321.0,988.6 1321.5,983.3 1322.0,983.3 1322.5,985.3 1323.0,985.1 1323.5,981.2 1324.0,979.4 1324.5,975.9 1325.0,975.1 1325.4,970.0 1325.9,974.1 1326.4,970.7 1326.9,964.4 1327.4,965.9 1327.9,967.3 1328.4,969.9 1328.9,966.7 1329.4,963.7 1329.9,970.7 1330.3,970.4 1330.8,973.4 1331.3,972.8 1331.8,977.3 1332.3,980.8 1332.8,983.9 1333.3,986.2 1333.8,983.8 1334.3,989.4 1334.7,994.8 1335.2,991.6 1335.7,992.0 1336.2,993.6 1336.7,1000.1 1337.2,997.6 1337.7,996.2 1338.2,995.8 1338.7,1002.5 1339.2,1002.4 1339.6,1001.1 1340.1,1003.4 1340.6,998.9 1341.1,1001.7 1341.6,1002.0 1342.1,1002.8 1342.6,1002.0 1343.1,1006.2 1343.6,1004.9 1344.1,1005.8 1344.5,1003.9 1345.0,1001.2 1345.5,1004.7 1346.0,1001.5 1346.5,1004.6 1347.0,1001.0 1347.5,1004.2 1348.0,1006.8 1348.5,1003.2 1349.0,1004.1 1349.4,1005.8 1349.9,1001.4 1350.4,1007.3 1350.9,1006.9 1351.4,1007.0 1351.9,1003.2 1352.4,1005.4 1352.9,1002.8 1353.4,1004.3 1353.8,1007.9 1354.3,1007.1 1354.8,1001.8 1355.3,1005.8 1355.8,1002.9 1356.3,1005.2 1356.8,1008.2 1357.3,1003.3 1357.8,1004.5 1358.3,1001.5 1358.7,1004.1 1359.2,1008.1 1359.7,1007.1 1360.2,1002.4 1360.7,1005.7 1361.2,1007.4 1361.7,1010.2 1362.2,1004.2 1362.7,1007.1 1363.2,1004.3 1363.6,1004.0 1364.1,1006.0 1364.6,1005.1 1365.1,1006.3 1365.6,1004.6 1366.1,1007.8 1366.6,1004.5 1367.1,1005.0 1367.6,1007.5 1368.1,1003.9 1368.5,1003.7 1369.0,1006.0 1369.5,1005.9 1370.0,1005.1 1370.5,1005.4 1371.0,1008.5 1371.5,1005.3 1372.0,1008.8 1372.5,1007.5 1372.9,1004.6 1373.4,1008.4 1373.9,1007.6 1374.4,1002.3 1374.9,1009.1 1375.4,1004.2 1375.9,1004.7 1376.4,1005.2 1376.9,1009.4 1377.4,1005.7 1377.8,1005.4 1378.3,1006.2 1378.8,1009.0 1379.3,1008.2 1379.8,1003.9 1380.3,1006.9 1380.8,1003.2 1381.3,1005.8 1381.8,1002.4 1382.3,1002.7 1382.7,1004.9 1383.2,1007.7 1383.7,1002.1 1384.2,1004.8 1384.7,1003.1 1385.2,1006.7 1385.7,1004.7 1386.2,1005.7 1386.7,1005.2 1387.1,1005.1 1387.6,1005.2 1388.1,1007.2 1388.6,1002.5 1389.1,1003.1 1389.6,1004.7 1390.1,1004.1 1390.6,1001.4 1391.1,1005.4 1391.6,1003.1 1392.0,1007.7 1392.5,1005.6 1393.0,1008.2 1393.5,1007.2 1394.0,1003.6 1394.5,1003.8 1395.0,1005.0 1395.5,1006.6 1396.0,1002.9 1396.5,1006.8 1396.9,1005.7 1397.4,1005.3 1397.9,1004.2 1398.4,1004.6 1398.9,1001.3 1399.4,1006.5 1399.9,1001.7 1400.4,1005.2 1400.9,1005.6 1401.4,1001.7 1401.8,1009.3 1402.3,1008.5 1402.8,1004.8 1403.3,1003.4 1403.8,1005.5 1404.3,1005.5 1404.8,1002.4 1405.3,1002.8 1405.8,1004.7 1406.2,1008.3 1406.7,1008.0 1407.2,1006.0 1407.7,1007.9 1408.2,1005.1 1408.7,1006.5 1409.2,1005.5 1409.7,1004.0 1410.2,1004.3 1410.7,1004.6 1411.1,1003.3 1411.6,1000.2 1412.1,1006.0 1412.6,1005.6 1413.1,1009.9 1413.6,1006.6 1414.1,1008.4 1414.6,1005.6 1415.1,1004.9 1415.6,1004.7 1416.0,1003.8 1416.5,1003.3 1417.0,1007.7 1417.5,1005.0 1418.0,1004.0 1418.5,1006.7 1419.0,1002.7 1419.5,1007.3 1420.0,1005.2 1420.5,1008.9 1420.9,1006.1 1421.4,1005.3 1421.9,1005.2 1422.4,1006.2 1422.9,1006.4 1423.4,1005.8 1423.9,1003.1 1424.4,1006.1 1424.9,1006.0 1425.3,1007.1 1425.8,1007.0 1426.3,1004.1 1426.8,1006.5 1427.3,1002.3 1427.8,1005.3 1428.3,1002.5 1428.8,1001.4 1429.3,1003.4 1429.8,1005.1 1430.2,1001.3 1430.7,1002.0 1431.2,1006.7 1431.7,1008.9 1432.2,1005.4 1432.7,1002.0 1433.2,1001.9 1433.7,1008.1 1434.2,1005.0 1434.7,1007.2 1435.1,1008.4 1435.6,1006.0 1436.1,1004.7 1436.6,1003.6 1437.1,1002.3 1437.6,1005.9 1438.1,1004.3 1438.6,1003.2 1439.1,1002.8 1439.5,1006.5 1440.0,1003.9 1440.5,1005.3 1441.0,1000.7 1441.5,1005.1 1442.0,1004.1 1442.5,1007.0 1443.0,1005.9 1443.5,1008.2 1444.0,1004.5 1444.4,1005.0 1444.9,1006.3 1445.4,1007.9 1445.9,1005.3 1446.4,1007.5 1446.9,1004.1 1447.4,1003.5 1447.9,1003.2 1448.4,1007.4 1448.9,1003.2 1449.3,1004.2 1449.8,1006.7 1450.3,1006.0 1450.8,1007.1 1451.3,1004.7 1451.8,1004.2 1452.3,1004.3 1452.8,1005.3 1453.3,1003.6 1453.8,1003.6 1454.2,1004.4 1454.7,1004.5 1455.2,1005.9 1455.7,1005.4 1456.2,1005.0 1456.7,1001.4 1457.2,1004.5 1457.7,1006.1 1458.2,1005.6 1458.6,1004.9 1459.1,1003.4 1459.6,1001.5 1460.1,1001.9 1460.6,1002.6 1461.1,1004.5 1461.6,1003.2 1462.1,1000.4 1462.6,998.4 1463.1,1003.6 1463.5,999.9 1464.0,1002.7 1464.5,999.1 1465.0,1002.7 1465.5,998.7 1466.0,997.5 1466.5,999.7 1467.0,1001.8 1467.5,998.2 1468.0,996.2 1468.4,996.3 1468.9,998.1 1469.4,997.6 1469.9,993.4 1470.4,994.4 1470.9,995.1 1471.4,992.7 1471.9,991.2 1472.4,992.0 1472.9,991.9 1473.3,988.0 1473.8,988.3 1474.3,992.8 1474.8,988.1 1475.3,986.9 1475.8,989.9 1476.3,989.5 1476.8,987.8 1477.3,985.7 1477.7,987.5 1478.2,986.9 1478.7,987.1 1479.2,988.7 1479.7,987.7 1480.2,988.4 1480.7,993.4 1481.2,989.7 1481.7,989.5 1482.2,989.6 1482.6,993.5 1483.1,996.8 1483.6,994.6 1484.1,996.3 1484.6,996.0 1485.1,995.2 1485.6,994.9 1486.1,995.9 1486.6,996.0 1487.1,999.7 1487.5,1001.3 1488.0,997.3 1488.5,997.1 1489.0,1000.8 1489.5,1002.6 1490.0,997.4 1490.5,1000.7 1491.0,1001.1 1491.5,998.9 1491.9,1000.4 1492.4,999.7 1492.9,1002.2 1493.4,1003.9 1493.9,1002.4 1494.4,1002.1 1494.9,1001.0 1495.4,1003.5 1495.9,1000.7 1496.4,998.6 1496.8,1002.8 1497.3,1000.7 1497.8,999.0 1498.3,1000.3 1498.8,998.1 1499.3,995.4 1499.8,998.0 1500.3,999.1 1500.8,999.1 1501.3,1000.4 1501.7,996.0 1502.2,1000.9 1502.7,999.2 1503.2,997.2 1503.7,998.2 1504.2,998.5 1504.7,992.7 1505.2,993.2 1505.7,991.7 1506.2,994.6 1506.6,992.9 1507.1,993.4 1507.6,992.4 1508.1,992.9 1508.6,989.2 1509.1,985.7 1509.6,986.0 1510.1,982.4 1510.6,982.9 1511.0,977.5 1511.5,976.1 1512.0,970.6 1512.5,966.2 1513.0,960.6 1513.5,955.1 1514.0,948.4 1514.5,932.3 1515.0,920.6 1515.5,901.3 1515.9,880.3 1516.4,857.7 1516.9,826.2 1517.4,795.9 1517.9,757.1 1518.4,730.5 1518.9,699.5 1519.4,683.4 1519.9,682.2 1520.4,699.2 1520.8,728.1 1521.3,762.5 1521.8,794.5 1522.3,826.6 1522.8,859.0 1523.3,885.5 1523.8,903.6 1524.3,921.9 1524.8,935.8 1525.3,945.2 1525.7,955.9 1526.2,960.9 1526.7,963.3 1527.2,972.4 1527.7,974.4 1528.2,980.8 1528.7,982.1 1529.2,980.7 1529.7,985.0 1530.1,985.7 1530.6,984.9 1531.1,989.6 1531.6,987.6 1532.1,989.9 1532.6,992.6 1533.1,997.2 1533.6,995.6 1534.1,995.7 1534.6,999.1 1535.0,997.3 1535.5,998.1 1536.0,997.2 1536.5,996.5 1537.0,1000.3 1537.5,1000.4 1538.0,1000.0 1538.5,997.5 1539.0,1000.3 1539.5,997.6 1539.9,998.7 1540.4,1002.0 1540.9,1003.5 1541.4,1000.0 1541.9,1002.8 1542.4,1003.5 1542.9,999.6 1543.4,1001.1 1543.9,1005.0 1544.3,1004.7 1544.8,1007.7 1545.3,1001.3 1545.8,998.3 1546.3,999.9 1546.8,1000.9 1547.3,1005.8 1547.8,1003.7 1548.3,1005.3 1548.8,1001.3 1549.2,1002.5 1549.7,1003.6 1550.2,1002.9 1550.7,1004.2 1551.2,1004.1 1551.7,1000.8 1552.2,1004.0 1552.7,1001.6 1553.2,1000.2 1553.7,1005.0 1554.1,1003.9 1554.6,1002.3 1555.1,1002.9 1555.6,1003.4 1556.1,1001.0 1556.6,1004.5 1557.1,1004.1 1557.6,1002.7 1558.1,1005.7 1558.6,1003.2 1559.0,1007.4 1559.5,1003.4 1560.0,1002.6 1560.5,1001.5 1561.0,1004.8 1561.5,1001.5 1562.0,1003.9 1562.5,1002.9 1563.0,1005.8 1563.4,1006.7 1563.9,1004.9 1564.4,1004.6 1564.9,1001.0 1565.4,1006.1 1565.9,1003.4 1566.4,1005.8 1566.9,1005.8 1567.4,1005.7 1567.9,1003.7 1568.3,1002.7 1568.8,1005.9 1569.3,1007.0 1569.8,1002.9 1570.3,1005.3 1570.8,1007.9 1571.3,1005.8 1571.8,1008.5 1572.3,1005.4 1572.8,1007.5 1573.2,1007.7 1573.7,1003.5 1574.2,1006.3 1574.7,1004.5 1575.2,1005.4 1575.7,1003.6 1576.2,1007.5 1576.7,1003.9 1577.2,1001.4 1577.7,1002.7 1578.1,1003.4 1578.6,1004.8 1579.1,1007.4 1579.6,1003.4 1580.1,1007.1 1580.6,1007.0 1581.1,1001.7 1581.6,1006.3 1582.1,1004.7 1582.5,1008.2 1583.0,1007.6 1583.5,1009.7 1584.0,1002.1 1584.5,1005.5 1585.0,1002.6 1585.5,1006.0 1586.0,1008.2 1586.5,1004.0 1587.0,1004.3 1587.4,1006.5 1587.9,1005.7 1588.4,1006.2 1588.9,1003.9 1589.4,1006.8 1589.9,1004.6 1590.4,1002.7 1590.9,1007.9 1591.4,1003.1 1591.9,1004.1 1592.3,1006.5 1592.8,1003.7 1593.3,1006.6 1593.8,1002.8 1594.3,1001.7 1594.8,1005.0 1595.3,1001.9 1595.8,1002.6 1596.3,1005.4 1596.7,1006.5 1597.2,1003.6 1597.7,1001.5 1598.2,1006.1 1598.7,1004.0 1599.2,1006.3 1599.7,1002.7 1600.2,1006.9 1600.7,1001.1 1601.2,1004.4 1601.6,1002.1 1602.1,1003.4 1602.6,1005.9 1603.1,1005.5 1603.6,999.4 1604.1,1004.4 1604.6,999.4 1605.1,1002.2 1605.6,1002.3 1606.1,1005.3 1606.5,1003.2 1607.0,1002.7 1607.5,998.3 1608.0,1000.6 1608.5,1002.5 1609.0,1004.1 1609.5,1000.9 1610.0,997.6 1610.5,999.5 1611.0,998.5 1611.4,999.8 1611.9,996.5 1612.4,999.9 1612.9,999.4 1613.4,999.2 1613.9,998.6 1614.4,995.6 1614.9,995.5 1615.4,996.4 1615.8,996.1 1616.3,998.6 1616.8,1000.1 1617.3,1001.0 1617.8,999.6 1618.3,999.6 1618.8,998.1 1619.3,1000.4 1619.8,1000.7 1620.3,996.7 1620.7,999.0 1621.2,992.8 1621.7,998.3 1622.2,998.3 1622.7,994.4 1623.2,994.1 1623.7,994.1 1624.2,992.1 1624.7,994.5 1625.2,997.0 1625.6,999.4 1626.1,993.4 1626.6,993.9 1627.1,994.5 1627.6,993.4 1628.1,994.1 1628.6,995.1 1629.1,995.3 1629.6,992.9 1630.1,994.6 1630.5,996.1 1631.0,994.6 1631.5,993.2 1632.0,994.0 1632.5,996.4 1633.0,992.5 1633.5,993.8 1634.0,996.0 1634.5,996.2 1634.9,996.9 1635.4,991.6 1635.9,992.9 1636.4,993.2 1636.9,996.9 1637.4,994.4 1637.9,995.7 1638.4,994.6 1638.9,996.2 1639.4,994.1 1639.8,994.7 1640.3,995.2 1640.8,997.0 1641.3,992.4 1641.8,993.0 1642.3,995.7 1642.8,994.6 1643.3,996.1 1643.8,998.6 1644.3,998.2 1644.7,999.1 1645.2,998.7 1645.7,996.7 1646.2,995.6 1646.7,999.3 1647.2,996.6 1647.7,997.7 1648.2,998.4 1648.7,993.6 1649.1,996.8 1649.6,999.5 1650.1,996.3 1650.6,994.6 1651.1,993.4 1651.6,993.0 1652.1,986.5 1652.6,986.4 1653.1,982.4 1653.6,977.1 1654.0,970.6 1654.5,973.7 1655.0,975.1 1655.5,983.7 1656.0,987.0 1656.5,991.5 1657.0,994.7 1657.5,995.7 1658.0,994.5 1658.5,988.0 1658.9,988.0 1659.4,986.2 1659.9,987.5 1660.4,988.8 1660.9,991.4 1661.4,992.8 1661.9,994.4 1662.4,1000.6 1662.9,997.7 1663.4,997.8 1663.8,1000.2 1664.3,1001.3 1664.8,1005.3 1665.3,1002.3 1665.8,1005.4 1666.3,1002.5 1666.8,1006.3 1667.3,1001.7 1667.8,1005.2 1668.2,1005.5 1668.7,1005.9 1669.2,1006.4 1669.7,1005.9 1670.2,1005.9 1670.7,1001.5 1671.2,1004.8 1671.7,1002.0 1672.2,1005.5 1672.7,1002.7 1673.1,1003.7 1673.6,1001.9 1674.1,1006.1 1674.6,1004.9 1675.1,1004.1 1675.6,1004.4 1676.1,1002.4 1676.6,1004.3 1677.1,1005.6 1677.6,1007.6 1678.0,1006.3 1678.5,1003.5 1679.0,1008.2 1679.5,1006.2 1680.0,1003.7 1680.5,1007.3 1681.0,1007.0 1681.5,1004.2 1682.0,1005.7 1682.5,1008.2 1682.9,1003.8 1683.4,1007.7 1683.9,1002.9 1684.4,1008.6 1684.9,1006.6 1685.4,1006.0 1685.9,1006.4 1686.4,1003.2 1686.9,1005.9 1687.3,1003.2 1687.8,1006.1 1688.3,1002.3 1688.8,1009.0 1689.3,1008.1 1689.8,1004.9 1690.3,1003.4 1690.8,1006.0 1691.3,1004.5 1691.8,1003.8 1692.2,1005.3 1692.7,1005.9 1693.2,1008.6 1693.7,1004.9 1694.2,1005.9 1694.7,1004.9 1695.2,1007.5 1695.7,1005.3 1696.2,1007.5 1696.7,1004.8 1697.1,1007.0 1697.6,1006.8 1698.1,1003.6 1698.6,1005.2 1699.1,1010.6 1699.6,1006.7 1700.1,1004.5 1700.6,1005.7 1701.1,1008.1 1701.5,1004.3 1702.0,1005.8 1702.5,1003.1 1703.0,1008.9 1703.5,1004.1 1704.0,1007.0 1704.5,1007.5 1705.0,1007.5 1705.5,1005.0 1706.0,1008.2 1706.4,1004.7 1706.9,1008.5 1707.4,1003.5 1707.9,1010.2 1708.4,1010.3 1708.9,1008.0 1709.4,1007.2 1709.9,1009.2 1710.4,1006.8 1710.9,1004.8 1711.3,1004.1 1711.8,1004.5 1712.3,1005.0 1712.8,1002.8 1713.3,1003.6 1713.8,1003.5 1714.3,1006.1 1714.8,1003.7 1715.3,1005.7 1715.8,1004.2 1716.2,1004.0 1716.7,1002.3 1717.2,1004.9 1717.7,1007.3 1718.2,1008.2 1718.7,1008.3 1719.2,1008.5 1719.7,1005.9 1720.2,1009.8 1720.6,1004.6 1721.1,1008.9 1721.6,1008.5 1722.1,1005.2 1722.6,1006.9 1723.1,1003.2 1723.6,1003.1 1724.1,1008.5 1724.6,1009.0 1725.1,1005.5 1725.5,1009.3 1726.0,1006.4 1726.5,1004.9 1727.0,1009.0 1727.5,1006.7 1728.0,1005.9 1728.5,1009.0 1729.0,1005.1 1729.5,1003.8 1730.0,1003.3 1730.4,1002.8 1730.9,1007.0 1731.4,1004.7 1731.9,1009.4 1732.4,1008.9 1732.9,1007.7 1733.4,1009.9 1733.9,1008.3 1734.4,1007.1 1734.9,1005.1 1735.3,1007.8 1735.8,1006.2 1736.3,1005.4 1736.8,1003.9 1737.3,1007.1 1737.8,1008.4 1738.3,1009.5 1738.8,1004.8 1739.3,1006.8 1739.7,1008.5 1740.2,1008.1 1740.7,1003.8 1741.2,1009.2 1741.7,1007.9 1742.2,1006.8 1742.7,1006.6 1743.2,1008.4 1743.7,1005.3 1744.2,1005.2 1744.6,1004.7 1745.1,1003.3 1745.6,1007.0 1746.1,1006.9 1746.6,1007.8 1747.1,1009.7 1747.6,1002.9 1748.1,1006.5 1748.6,1007.3 1749.1,1011.2 1749.5,1004.8 1750.0,1006.1 1750.5,1007.7 1751.0,1003.5 1751.5,1007.9 1752.0,1010.0 1752.5,1008.6 1753.0,1007.0 1753.5,1003.1 1753.9,1003.7 1754.4,1006.5 1754.9,1002.7 1755.4,1005.5 1755.9,1005.4 1756.4,1005.2 1756.9,1004.8 1757.4,1004.6 1757.9,1005.3 1758.4,1006.9 1758.8,1007.1 1759.3,1007.9 1759.8,1007.3 1760.3,1006.5 1760.8,1003.9 1761.3,1007.6 1761.8,1005.3 1762.3,1006.8 1762.8,1001.5 1763.3,1007.0 1763.7,1006.3 1764.2,1004.4 1764.7,1004.9 1765.2,1005.0 1765.7,1005.2 1766.2,1007.6 1766.7,1009.4 1767.2,1008.6 1767.7,1006.8 1768.2,1009.0 1768.6,1005.5 1769.1,1004.8 1769.6,1005.5 1770.1,1008.1 1770.6,1010.0 1771.1,1003.7 1771.6,1007.1 1772.1,1006.3 1772.6,1005.3 1773.0,1005.9 1773.5,1003.6 1774.0,1006.7 1774.5,1005.9 1775.0,1004.2 1775.5,1010.1 1776.0,1006.5 1776.5,1008.4 1777.0,1007.9 1777.5,1006.1 1777.9,1004.6 1778.4,1008.4 1778.9,1007.6 1779.4,1005.7 1779.9,1007.4 1780.4,1007.5 1780.9,1007.2 1781.4,1004.1 1781.9,1005.5 1782.4,1005.5 1782.8,1004.6 1783.3,1006.9 1783.8,1007.2 1784.3,1007.0 1784.8,1003.7 1785.3,1006.9 1785.8,1008.4 1786.3,1004.5 1786.8,1004.0 1787.3,1008.7 1787.7,1006.1 1788.2,1008.5 1788.7,1005.5 1789.2,1007.3 1789.7,1007.8 1790.2,1008.6 1790.7,1008.9 1791.2,1006.4 1791.7,1005.0 1792.1,1007.4 1792.6,1007.1 1793.1,1007.4 1793.6,1003.7 1794.1,1002.4 1794.6,1006.3 1795.1,1004.5 1795.6,1003.8 1796.1,1004.1 1796.6,1004.7 1797.0,1005.8 1797.5,1001.1 1798.0,1007.1 1798.5,1000.6 1799.0,1004.4 1799.5,1002.4 1800.0,1002.3 1800.5,1001.5 1801.0,1002.8 1801.5,1001.1 1801.9,994.2 1802.4,992.5 1802.9,991.6 1803.4,987.1 1803.9,982.3 1804.4,983.5 1804.9,977.8 1805.4,977.8 1805.9,979.3 1806.3,984.5 1806.8,989.9 1807.3,988.7 1807.8,988.1 1808.3,993.5 1808.8,989.3 1809.3,989.1 1809.8,988.1 1810.3,988.4 1810.8,985.5 1811.2,986.6 1811.7,988.7 1812.2,991.0 1812.7,993.6 1813.2,995.9 1813.7,996.9 1814.2,994.2 1814.7,999.4 1815.2,997.0 1815.7,999.0 1816.1,999.5 1816.6,996.0 1817.1,1001.8 1817.6,1001.0 1818.1,1002.8 1818.6,996.4 1819.1,998.2 1819.6,1002.7 1820.1,1002.3 1820.6,1002.1 1821.0,998.2 1821.5,999.1 1822.0,1003.7 1822.5,1000.9 1823.0,1001.1 1823.5,1002.2 1824.0,1000.9 1824.5,1003.0 1825.0,1002.3 1825.4,1008.9 1825.9,1004.1 1826.4,1007.8 1826.9,1007.0 1827.4,1004.3 1827.9,1008.0 1828.4,1001.2 1828.9,1007.8 1829.4,1002.3 1829.9,1003.8 1830.3,1002.0 1830.8,1008.4 1831.3,1008.1 1831.8,1005.8 1832.3,1006.9 1832.8,1007.2 1833.3,1008.1 1833.8,1005.8 1834.3,1005.7 1834.8,1009.5 1835.2,1006.7 1835.7,1006.6 1836.2,1002.9 1836.7,1004.3 1837.2,1005.4 1837.7,1006.6 1838.2,1006.8 1838.7,1008.1 1839.2,1003.8 1839.7,1009.3 1840.1,1007.2 1840.6,1004.5 1841.1,1008.2 1841.6,1007.3 1842.1,1007.6 1842.6,1010.1 1843.1,1006.3 1843.6,1010.9 1844.1,1006.6 1844.5,1007.9 1845.0,1009.0 1845.5,1009.3 1846.0,1004.8 1846.5,1005.4 1847.0,1005.3 1847.5,1003.5 1848.0,1010.9 1848.5,1010.2 1849.0,1007.0 1849.4,1004.3 1849.9,1006.8 1850.4,1004.4 1850.9,1003.6 1851.4,1005.8 1851.9,1009.1 1852.4,1004.1 1852.9,1003.2 1853.4,1006.2 1853.9,1005.3 1854.3,1008.6 1854.8,1006.1 1855.3,1005.1 1855.8,1004.4 1856.3,1003.4 1856.8,1008.9 1857.3,1006.4 1857.8,1006.2 1858.3,1011.3 1858.7,1005.9 1859.2,1008.0 1859.7,1004.8 1860.2,1005.2 1860.7,1005.9 1861.2,1006.5 1861.7,1008.1 1862.2,1007.9 1862.7,1007.9 1863.2,1011.2 1863.6,1007.3 1864.1,1008.9 1864.6,1009.2 1865.1,1009.8 1865.6,1006.0 1866.1,1005.6 1866.6,1005.5 1867.1,1004.3 1867.6,1003.6 1868.1,1008.2 1868.5,1010.3 1869.0,1010.1 1869.5,1010.1 1870.0,1008.8 1870.5,1006.9 1871.0,1005.9 1871.5,1006.2 1872.0,1007.7 1872.5,1006.7 1873.0,1009.2 1873.4,1001.9 1873.9,1005.9 1874.4,1010.2 1874.9,1005.0 1875.4,1008.7 1875.9,1005.3 1876.4,1008.7 1876.9,1006.9 1877.4,1007.7 1877.8,1001.9 1878.3,1007.3 1878.8,1006.7 1879.3,1009.9 1879.8,1005.6 1880.3,1008.2 1880.8,1004.6 1881.3,1009.3 1881.8,1006.1 1882.3,1006.5 1882.7,1006.7 1883.2,1008.4 1883.7,1009.5 1884.2,1011.9 1884.7,1002.9 1885.2,1006.5 1885.7,1007.7 1886.2,1005.0 1886.7,1004.1 1887.2,1005.4 1887.6,1006.9 1888.1,1003.2 1888.6,1007.8 1889.1,1006.4 1889.6,1003.7 1890.1,1002.5 1890.6,1008.7 1891.1,1007.5 1891.6,1007.1 1892.1,1006.0 1892.5,1008.5 1893.0,1004.8 1893.5,1006.8 1894.0,1006.6 1894.5,1007.7 1895.0,1004.6 1895.5,1008.7 1896.0,1005.7 1896.5,1008.3 1896.9,1007.9 1897.4,1009.1 1897.9,1003.8 1898.4,1007.8 1898.9,1007.0 1899.4,1007.8 1899.9,1005.8 1900.4,1005.4 1900.9,1004.1 1901.4,1007.1 1901.8,1007.8 1902.3,1008.8 1902.8,1011.6 1903.3,1006.7 1903.8,1002.2 1904.3,1010.0 1904.8,1009.6 1905.3,1004.3 1905.8,1005.4 1906.3,1006.2 1906.7,1005.0 1907.2,1004.6 1907.7,1002.3 1908.2,1004.4 1908.7,1009.4 1909.2,1006.5 1909.7,1007.0 1910.2,1007.7 1910.7,1007.2 1911.1,1005.9 1911.6,1005.6 1912.1,1008.6 1912.6,1009.6 1913.1,1004.8 1913.6,1006.6 1914.1,1009.1 1914.6,1008.1 1915.1,1005.8 1915.6,1007.0 1916.0,1004.6 1916.5,1008.8 1917.0,1004.3 1917.5,1009.5 1918.0,1009.9 1918.5,1007.3 1919.0,1004.1 1919.5,1006.6 1920.0,1009.0 1920.5,1007.2 1920.9,1004.0 1921.4,1008.7 1921.9,1006.1 1922.4,1006.9 1922.9,1009.2 1923.4,1007.1 1923.9,1006.3 1924.4,1006.3 1924.9,1008.8 1925.4,1004.0 1925.8,1006.5 1926.3,1008.0 1926.8,1008.5 1927.3,1008.4 1927.8,1002.8 1928.3,1004.6 1928.8,1008.0 1929.3,1008.9 1929.8,1006.6 1930.2,1007.6 1930.7,1005.3 1931.2,1008.2 1931.7,1010.1 1932.2,1006.8 1932.7,1009.4 1933.2,1008.1 1933.7,1009.5 1934.2,1006.8 1934.7,1006.5 1935.1,1007.3 1935.6,1006.1 1936.1,1007.9 1936.6,1007.1 1937.1,1007.0 1937.6,1005.4 1938.1,1005.3 1938.6,1003.9 1939.1,1006.5 1939.6,1009.4 1940.0,1006.2 1940.5,1008.8 1941.0,1007.8 1941.5,1009.4 1942.0,1008.9 1942.5,1006.1 1943.0,1004.2 1943.5,1004.4 1944.0,1010.1 1944.5,1006.6 1944.9,1008.0 1945.4,1005.3 1945.9,1008.6 1946.4,1007.9 1946.9,1010.2 1947.4,1003.0 1947.9,1006.6 1948.4,1005.3 1948.9,1007.6 1949.3,1006.2 1949.8,1009.2 1950.3,1009.3 1950.8,1006.1 1951.3,1010.2 1951.8,1005.5 1952.3,1004.5 1952.8,1006.5 1953.3,1011.5 1953.8,1004.7 1954.2,1005.8 1954.7,1004.9 1955.2,1008.8 1955.7,1005.9 1956.2,1004.2 1956.7,1005.3 1957.2,1005.4 1957.7,1007.9 1958.2,1001.5 1958.7,1008.5 1959.1,1005.6 1959.6,1007.6 1960.1,1007.4 1960.6,1006.5 1961.1,1007.5 1961.6,1006.7 1962.1,1004.9 1962.6,1002.8 1963.1,1007.2 1963.5,1007.2 1964.0,1010.4 1964.5,1008.9 1965.0,1004.7 1965.5,1009.1 1966.0,1009.5 1966.5,1010.2 1967.0,1007.7 1967.5,1009.2 1968.0,1006.1 1968.4,1005.9 1968.9,1010.4 1969.4,1007.8 1969.9,1006.8 1970.4,1007.1 1970.9,1008.0 1971.4,1009.1 1971.9,1005.1 1972.4,1010.0 1972.9,1005.8 1973.3,1008.7 1973.8,1008.8 1974.3,1004.6 1974.8,1007.7 1975.3,1008.5 1975.8,1006.5 1976.3,1005.6 1976.8,1011.9 1977.3,1003.8 1977.8,1007.9 1978.2,1006.7 1978.7,1009.3 1979.2,1005.3 1979.7,1007.8 1980.2,1009.2 1980.7,1007.9 1981.2,1005.5 1981.7,1005.5 1982.2,1006.5 1982.6,1008.3 1983.1,1007.3 1983.6,1008.8 1984.1,1006.8 1984.6,1010.0 1985.1,1008.3 1985.6,1009.3 1986.1,1008.5 1986.6,1006.9 1987.1,1006.5 1987.5,1009.6 1988.0,1003.5 1988.5,1007.4 1989.0,1003.9 1989.5,1009.5 1990.0,1007.5 1990.5,1009.4 1991.0,1005.5"/>
<g stroke="#000" stroke-width="5.6" fill="none">
<path d="M284.3,61.1 V1322.8"/>
<path d="M281.5,1320.0 H2001.1"/>
<path d="M258,1307.8 H284.3"/>
<path d="M258,1059.0 H284.3"/>
<path d="M258,810.2 H284.3"/>
<path d="M258,561.5 H284.3"/>
<path d="M258,312.7 H284.3"/>
<path d="M258,63.9 H284.3"/>
<path d="M271,1183.4 H284.3"/>
<path d="M271,934.6 H284.3"/>
<path d="M271,685.8 H284.3"/>
<path d="M271,437.1 H284.3"/>
<path d="M271,188.3 H284.3"/>
<path d="M284.3,1320.0 V1343.5"/>
<path d="M529.2,1320.0 V1343.5"/>
<path d="M774.0,1320.0 V1343.5"/>
<path d="M1018.9,1320.0 V1343.5"/>
<path d="M1263.7,1320.0 V1343.5"/>
<path d="M1508.6,1320.0 V1343.5"/>
<path d="M1753.5,1320.0 V1343.5"/>
<path d="M1998.3,1320.0 V1343.5"/>
<path d="M406.7,1320.0 V1331"/>
<path d="M651.6,1320.0 V1331"/>
<path d="M896.5,1320.0 V1331"/>
<path d="M1141.3,1320.0 V1331"/>
<path d="M1386.2,1320.0 V1331"/>
<path d="M1631.0,1320.0 V1331"/>
<path d="M1875.9,1320.0 V1331"/>
</g>
<g font-size="54" fill="#000" stroke="#000" stroke-width="1.1" letter-spacing="-3.6">
<text transform="translate(238.4,1318.2) scale(1.18,1)" text-anchor="end">0</text>
<text transform="translate(238.4,1069.4) scale(1.18,1)" text-anchor="end">100</text>
<text transform="translate(238.4,820.6) scale(1.18,1)" text-anchor="end">200</text>
<text transform="translate(238.4,571.9) scale(1.18,1)" text-anchor="end">300</text>
<text transform="translate(238.4,323.1) scale(1.18,1)" text-anchor="end">400</text>
<text transform="translate(238.4,74.3) scale(1.18,1)" text-anchor="end">500</text>
<text transform="translate(282.0,1397.6) scale(1.18,1)" text-anchor="middle">20</text>
<text transform="translate(526.9,1397.6) scale(1.18,1)" text-anchor="middle">30</text>
<text transform="translate(771.7,1397.6) scale(1.18,1)" text-anchor="middle">40</text>
<text transform="translate(1016.6,1397.6) scale(1.18,1)" text-anchor="middle">50</text>
<text transform="translate(1261.4,1397.6) scale(1.18,1)" text-anchor="middle">60</text>
<text transform="translate(1506.3,1397.6) scale(1.18,1)" text-anchor="middle">70</text>
<text transform="translate(1751.2,1397.6) scale(1.18,1)" text-anchor="middle">80</text>
<text transform="translate(1996.0,1397.6) scale(1.18,1)" text-anchor="middle">90</text>
</g>
<text transform="translate(111.6,955.2) rotate(-90) scale(0.99,1)" font-size="98" stroke="#000" stroke-width="1.2">Intensity (a.u.)</text>
<text transform="translate(960,1549.9) scale(1.04,1)" font-size="92" stroke="#000" stroke-width="1.6">Angle (°)</text>
<text transform="translate(424.2,210.5) rotate(-90) scale(0.883,1)" font-size="61.5" stroke="#000" stroke-width="1.4">A(101)</text>
<text transform="translate(746.7,368.3) rotate(-90) scale(0.884,1)" font-size="61.5" stroke="#000" stroke-width="1.4">Ti(002)</text>
<text transform="translate(793.1,855.2) rotate(-90) scale(0.881,1)" font-size="61.5" stroke="#000" stroke-width="1.4">Ti(101)</text>
<text transform="translate(985.5,878.2) rotate(-90) scale(0.881,1)" font-size="61.5" stroke="#000" stroke-width="1.4">A(200)</text>
<text transform="translate(1105.4,818.2) rotate(-90) scale(0.882,1)" font-size="61.5" stroke="#000" stroke-width="1.4">Ti(102)</text>
<text transform="translate(1541.9,613.5) rotate(-90) scale(0.882,1)" font-size="61.5" stroke="#000" stroke-width="1.4">Ti(103)</text>
<text transform="translate(696.3,941.0) rotate(-90) scale(0.836,1)" font-size="43" stroke="#000" stroke-width="0.9">A(103)</text>
<text transform="translate(721.2,732.4) rotate(-90) scale(0.851,1)" font-size="43" stroke="#000" stroke-width="0.9">A(104)</text>
<text transform="translate(1140.3,909.1) rotate(-90) scale(0.832,1)" font-size="43" stroke="#000" stroke-width="0.9">A(105)</text>
<text transform="translate(1176.6,971.1) rotate(-90) scale(0.836,1)" font-size="43" stroke="#000" stroke-width="0.9">A(211)</text>
<text transform="translate(1334.7,941.0) rotate(-90) scale(0.836,1)" font-size="43" stroke="#000" stroke-width="0.9">A(204)</text>
<text transform="translate(1478.0,965.4) rotate(-90) scale(0.851,1)" font-size="43" stroke="#000" stroke-width="0.9">A(116)</text>
<text transform="translate(1634.6,1134.6) rotate(-90) scale(0.830,1)" font-size="43" stroke="#000" stroke-width="0.9">A(107)</text>
<text transform="translate(670.6,1266.6) rotate(-90) scale(0.823,1)" font-size="43" stroke="#000" stroke-width="0.9">Ti(100)</text>
<text transform="translate(1346.7,1268.4) rotate(-90) scale(0.847,1)" font-size="43" stroke="#000" stroke-width="0.9">Ti(110)</text>
<text transform="translate(1653.1,1265.5) rotate(-90) scale(0.825,1)" font-size="43" stroke="#000" stroke-width="0.9">Ti(112)</text>
<text transform="translate(1798.9,1271.5) rotate(-90) scale(0.827,1)" font-size="43" stroke="#000" stroke-width="0.9">Ti(004)</text>
<text transform="translate(1845.4,1283.2) rotate(-90) scale(0.856,1)" font-size="43" stroke="#000" stroke-width="0.9">Ti(202)</text>
<rect x="1303" y="88.8" width="675" height="303" fill="none" stroke="#6e6e6e" stroke-width="2.6"/>
<line x1="1329" y1="132.5" x2="1510.5" y2="132.5" stroke="#000" stroke-width="4.8" stroke-linecap="butt"/>
<line x1="1329" y1="227.8" x2="1510.5" y2="227.8" stroke="#f00" stroke-width="4.8" stroke-linecap="butt"/>
<line x1="1329" y1="336.5" x2="1510.5" y2="336.5" stroke="#00f" stroke-width="4.8" stroke-linecap="butt"/>
<g font-size="72.3" fill="#000" stroke="#000" stroke-width="0.5">
<text x="1524" y="157.5">Ti</text>
<text x="1524" y="251.8">TiO</text>
<text x="1635.5" y="270.3" font-size="46">2</text>
<text x="1659" y="251.8" textLength="70.5" lengthAdjust="spacingAndGlyphs">-C</text>
<text x="1524" y="363.3">TiO</text>
<text x="1635.5" y="381.8" font-size="46">2</text>
<text x="1659" y="363.3" textLength="297.5" lengthAdjust="spacingAndGlyphs">-C-Cu-400</text>
</g>
</svg></body></html>
